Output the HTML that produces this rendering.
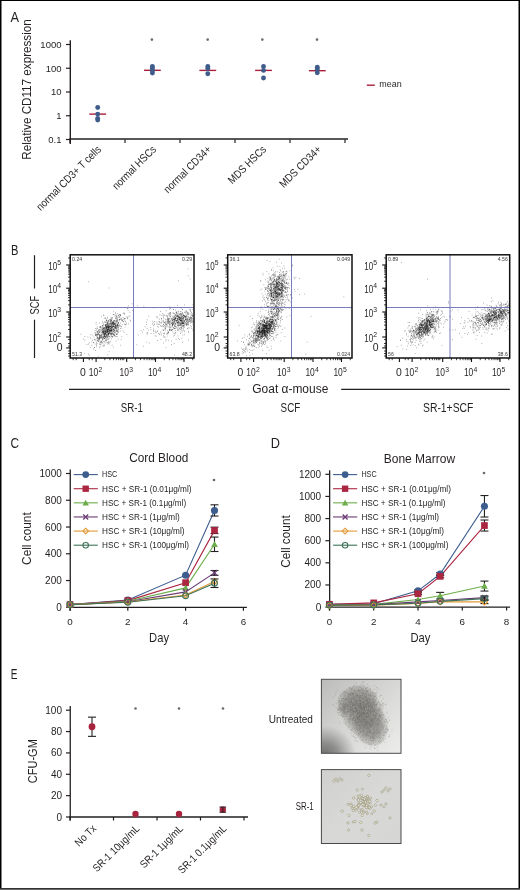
<!DOCTYPE html>
<html><head><meta charset="utf-8"><style>
html,body{margin:0;padding:0;background:#fff;overflow:hidden;width:520px;height:890px;}
svg{display:block;will-change:transform;}
text{font-family:"Liberation Sans", sans-serif;}
</style></head><body>
<svg width="520" height="890" viewBox="0 0 520 890">
<rect x="0" y="0" width="520" height="890" fill="#fff"/>
<text x="10.6" y="22.2" font-size="14.8" text-anchor="start" fill="#231f20" textLength="8.5" lengthAdjust="spacingAndGlyphs">A</text>
<line x1="70.3" y1="40.3" x2="70.3" y2="144" stroke="#231f20" stroke-width="1.4"/>
<line x1="66" y1="44.5" x2="70" y2="44.5" stroke="#231f20" stroke-width="1.2"/>
<text x="61.5" y="47.9" font-size="9.5" text-anchor="end" fill="#231f20">1000</text>
<line x1="66" y1="68.25" x2="70" y2="68.25" stroke="#231f20" stroke-width="1.2"/>
<text x="61.5" y="71.65" font-size="9.5" text-anchor="end" fill="#231f20">100</text>
<line x1="66" y1="92.0" x2="70" y2="92.0" stroke="#231f20" stroke-width="1.2"/>
<text x="61.5" y="95.4" font-size="9.5" text-anchor="end" fill="#231f20">10</text>
<line x1="66" y1="115.75" x2="70" y2="115.75" stroke="#231f20" stroke-width="1.2"/>
<text x="61.5" y="119.15" font-size="9.5" text-anchor="end" fill="#231f20">1</text>
<line x1="66" y1="139.5" x2="70" y2="139.5" stroke="#231f20" stroke-width="1.2"/>
<text x="61.5" y="142.9" font-size="9.5" text-anchor="end" fill="#231f20">0.1</text>
<line x1="69.4" y1="139.1" x2="348" y2="139.1" stroke="#231f20" stroke-width="1.5"/>
<line x1="70" y1="139.5" x2="70" y2="143" stroke="#231f20" stroke-width="1.2"/>
<line x1="125" y1="139.5" x2="125" y2="143" stroke="#231f20" stroke-width="1.2"/>
<line x1="180" y1="139.5" x2="180" y2="143" stroke="#231f20" stroke-width="1.2"/>
<line x1="235" y1="139.5" x2="235" y2="143" stroke="#231f20" stroke-width="1.2"/>
<line x1="290" y1="139.5" x2="290" y2="143" stroke="#231f20" stroke-width="1.2"/>
<line x1="345" y1="139.5" x2="345" y2="143" stroke="#231f20" stroke-width="1.2"/>
<text transform="translate(30.6,89.5) rotate(-90)" font-size="12" text-anchor="middle" fill="#231f20" textLength="140.5" lengthAdjust="spacingAndGlyphs">Relative CD117 expression</text>
<text transform="translate(101.9,150.0) rotate(-45)" font-size="11" text-anchor="end" fill="#231f20" textLength="86.6" lengthAdjust="spacingAndGlyphs">normal CD3+ T cells</text>
<text transform="translate(156.9,150.0) rotate(-45)" font-size="11" text-anchor="end" fill="#231f20" textLength="56.9" lengthAdjust="spacingAndGlyphs">normal HSCs</text>
<text transform="translate(211.9,150.0) rotate(-45)" font-size="11" text-anchor="end" fill="#231f20" textLength="62.0" lengthAdjust="spacingAndGlyphs">normal CD34+</text>
<text transform="translate(266.9,150.0) rotate(-45)" font-size="11" text-anchor="end" fill="#231f20" textLength="48.9" lengthAdjust="spacingAndGlyphs">MDS HSCs</text>
<text transform="translate(321.9,150.0) rotate(-45)" font-size="11" text-anchor="end" fill="#231f20" textLength="54.0" lengthAdjust="spacingAndGlyphs">MDS CD34+</text>
<line x1="89.3" y1="114.1" x2="106.10000000000001" y2="114.1" stroke="#aa1f3c" stroke-width="1.4"/>
<circle cx="97.7" cy="107.5" r="2.45" fill="#3f5c8b"/>
<circle cx="97.7" cy="114.1" r="2.45" fill="#3f5c8b"/>
<circle cx="97.7" cy="118.5" r="2.45" fill="#3f5c8b"/>
<circle cx="97.7" cy="120.0" r="2.45" fill="#3f5c8b"/>
<line x1="144.0" y1="70.3" x2="160.8" y2="70.3" stroke="#aa1f3c" stroke-width="1.4"/>
<circle cx="152.4" cy="66.5" r="2.45" fill="#3f5c8b"/>
<circle cx="152.4" cy="68.5" r="2.45" fill="#3f5c8b"/>
<circle cx="152.4" cy="70.8" r="2.45" fill="#3f5c8b"/>
<circle cx="152.4" cy="73.0" r="2.45" fill="#3f5c8b"/>
<line x1="199.4" y1="70.4" x2="216.20000000000002" y2="70.4" stroke="#aa1f3c" stroke-width="1.4"/>
<circle cx="207.8" cy="66.5" r="2.45" fill="#3f5c8b"/>
<circle cx="207.8" cy="68.5" r="2.45" fill="#3f5c8b"/>
<circle cx="207.8" cy="73.8" r="2.45" fill="#3f5c8b"/>
<line x1="255.1" y1="70.4" x2="271.9" y2="70.4" stroke="#aa1f3c" stroke-width="1.4"/>
<circle cx="263.5" cy="66.5" r="2.45" fill="#3f5c8b"/>
<circle cx="263.5" cy="70.4" r="2.45" fill="#3f5c8b"/>
<circle cx="263.5" cy="78.0" r="2.45" fill="#3f5c8b"/>
<line x1="308.90000000000003" y1="70.7" x2="325.7" y2="70.7" stroke="#aa1f3c" stroke-width="1.4"/>
<circle cx="317.3" cy="67.3" r="2.45" fill="#3f5c8b"/>
<circle cx="317.3" cy="69.5" r="2.45" fill="#3f5c8b"/>
<circle cx="317.3" cy="72.8" r="2.45" fill="#3f5c8b"/>
<circle cx="151.9" cy="39.6" r="1.3" fill="#6a6a6a"/>
<circle cx="207.7" cy="39.6" r="1.3" fill="#6a6a6a"/>
<circle cx="262.3" cy="39.6" r="1.3" fill="#6a6a6a"/>
<circle cx="317.0" cy="39.6" r="1.3" fill="#6a6a6a"/>
<line x1="366.8" y1="85.2" x2="374.8" y2="85.2" stroke="#aa1f3c" stroke-width="1.4"/>
<text x="379.3" y="87.2" font-size="9.5" text-anchor="start" fill="#231f20" textLength="22.4" lengthAdjust="spacingAndGlyphs">mean</text>
<text x="11.0" y="254.6" font-size="14.8" text-anchor="start" fill="#231f20" textLength="7.4" lengthAdjust="spacingAndGlyphs">B</text>
<path transform="scale(0.25)" d="M750 1076h3m-2 27h3m5 13h3m-50 7h3m-363 4h3m79 25h3m90 63h3m178 6h3m25 -1h3m31 -1h3m-261 4h3m34 0h3m22 2h3m101 2h3m-185 3h3m10 4h3m102 -2h3m63 2h3m40 -1h3m7 -3h3m16 1h3m-245 4h3m164 1h3m11 1h3m-2 1h3m6 2h3m24 -2h3m-2 0h3m26 0h3m0 0h3m6 0h3m-262 5h3m15 -1h3m109 4h3m19 -3h3m47 2h3m24 -1h3m1 0h3m12 -1h3m-2 1h3m-311 3h3m63 2h3m182 0h3m-2 0h3m-3 0h3m3 -2h3m7 -1h3m0 1h3m10 2h3m4 1h3m-2 -4h3m3 3h3m10 -1h3m-306 3h3m28 1h3m2 1h3m178 1h3m-2 -3h3m-2 0h3m-2 1h3m-2 1h3m6 -1h3m-1 0h3m8 -1h3m-2 3h3m2 -1h3m1 0h3m3 0h3m-1 1h3m4 -3h3m-2 1h3m7 -2h3m6 3h3m-1 -2h3m0 1h3m8 -1h3m-314 7h3m6 -3h3m3 0h3m5 3h3m15 -4h3m-1 3h3m150 -2h3m19 -1h3m20 1h3m0 0h3m1 3h3m13 -2h3m1 1h3m0 -2h3m-3 2h3m1 -2h3m0 2h3m8 -2h3m2 2h3m0 -2h3m-3 2h3m5 -1h3m6 -1h3m-357 5h3m-2 2h3m34 -3h3m2 0h3m4 2h3m6 0h3m3 -2h3m-2 2h3m-2 0h3m-2 -2h3m154 0h3m5 3h3m3 -2h3m1 0h3m14 0h3m0 -1h3m1 -1h3m17 4h3m-1 -2h3m-2 1h3m-3 -1h3m1 -1h3m-1 2h3m1 1h3m-3 -2h3m1 -1h3m-2 -1h3m1 1h3m-3 3h3m1 -4h3m2 3h3m-2 0h3m-3 1h3m-3 0h3m-2 -1h3m0 1h3m-3 0h3m4 0h3m6 -4h3m8 1h3m1 3h3m-1 -3h3m-367 6h3m52 -2h3m2 2h3m2 0h3m-1 -3h3m2 4h3m0 -3h3m35 1h3m73 0h3m57 0h3m6 -2h3m-1 2h3m1 -1h3m5 1h3m2 -2h3m10 0h3m-2 4h3m5 -1h3m-1 1h3m-2 -2h3m-1 1h3m-3 -3h3m-2 3h3m10 0h3m-2 -2h3m0 2h3m-2 0h3m4 1h3m-3 -1h3m-2 0h3m1 0h3m1 -1h3m-1 0h3m-2 1h3m13 -2h3m2 1h3m-2 1h3m-2 -1h3m-345 5h3m18 1h3m7 -2h3m2 -2h3m7 4h3m29 -3h3m5 0h3m109 0h3m-3 1h3m23 1h3m13 -2h3m8 1h3m-2 -2h3m5 1h3m2 2h3m-2 -1h3m1 0h3m-3 1h3m-1 0h3m0 -1h3m1 -1h3m0 -1h3m-1 2h3m-3 -2h3m0 3h3m-3 -3h3m-2 1h3m0 0h3m2 0h3m-1 2h3m-2 0h3m0 -1h3m0 1h3m-1 1h3m-1 -4h3m1 1h3m-2 0h3m-3 2h3m-3 -1h3m-3 -1h3m7 0h3m-2 2h3m6 -2h3m-347 6h3m-2 -1h3m-2 1h3m4 0h3m12 -1h3m0 0h3m-2 1h3m13 -1h3m-2 2h3m-2 -3h3m3 -1h3m5 0h3m3 3h3m4 -2h3m3 3h3m-1 0h3m5 -3h3m-1 1h3m118 0h3m36 -1h3m-1 1h3m15 1h3m2 -2h3m2 1h3m-3 2h3m-2 -1h3m-1 -2h3m-3 2h3m3 0h3m-2 0h3m-1 0h3m-2 -2h3m-2 1h3m-2 -2h3m-1 0h3m-2 0h3m-3 2h3m-2 1h3m-3 -1h3m0 -2h3m-3 4h3m-2 -3h3m-3 3h3m0 -1h3m-3 -2h3m1 2h3m1 -1h3m-3 -1h3m-2 1h3m-3 1h3m3 -2h3m-1 1h3m1 0h3m0 1h3m4 -2h3m0 -1h3m0 2h3m-3 -1h3m-2 -1h3m-3 2h3m0 1h3m-2 0h3m-330 5h3m4 -2h3m11 -1h3m3 1h3m-1 0h3m4 1h3m-3 1h3m3 -2h3m-3 1h3m6 1h3m1 -3h3m0 1h3m9 -1h3m18 -1h3m103 3h3m4 -1h3m-3 -2h3m7 1h3m4 2h3m4 -1h3m0 -2h3m-3 3h3m-2 0h3m-2 0h3m0 -3h3m-2 3h3m3 -3h3m-3 0h3m-1 2h3m-1 2h3m1 -3h3m0 3h3m-3 -2h3m-3 2h3m-1 -1h3m-2 -1h3m-2 0h3m-2 0h3m-2 -2h3m-3 0h3m0 0h3m2 1h3m-2 2h3m-1 0h3m0 0h3m-2 1h3m-3 -1h3m-1 -1h3m-3 0h3m0 1h3m-3 -2h3m-2 1h3m1 1h3m-3 0h3m-2 -1h3m-1 -1h3m-1 -1h3m-2 2h3m-2 1h3m5 0h3m-3 0h3m-2 1h3m-2 -3h3m1 1h3m-1 2h3m-3 -1h3m0 -2h3m2 2h3m-3 0h3m-1 1h3m-3 -2h3m-2 0h3m0 -1h3m-1 2h3m3 -2h3m-348 7h3m-3 -2h3m-3 2h3m-2 -2h3m6 0h3m-1 -1h3m1 3h3m-2 -2h3m-2 0h3m-3 -2h3m9 4h3m6 -1h3m-3 0h3m0 0h3m-3 -1h3m4 0h3m1 -2h3m5 3h3m-3 -2h3m31 2h3m64 -2h3m56 2h3m17 -2h3m0 0h3m-1 2h3m-2 0h3m6 1h3m3 -3h3m-3 2h3m0 -1h3m1 -1h3m-3 -1h3m-2 3h3m-1 0h3m-2 -1h3m-1 -1h3m-2 2h3m-1 1h3m-1 0h3m-1 -4h3m-2 3h3m-2 1h3m-2 -3h3m3 -1h3m-2 0h3m2 1h3m1 2h3m-3 1h3m1 -3h3m-3 1h3m2 2h3m-1 -1h3m0 -1h3m1 -2h3m-1 0h3m4 3h3m-2 -2h3m6 3h3m-2 -2h3m2 0h3m-364 5h3m20 0h3m-3 -2h3m-2 -1h3m6 3h3m-1 -2h3m-3 2h3m-2 -3h3m-2 1h3m2 3h3m-2 0h3m-1 -2h3m-2 -1h3m-1 1h3m-2 -1h3m1 0h3m4 2h3m-2 -1h3m5 -1h3m7 -1h3m-3 3h3m-1 -2h3m6 0h3m20 2h3m86 0h3m40 -2h3m4 2h3m5 -1h3m-3 1h3m2 -3h3m0 2h3m-2 2h3m7 -3h3m-2 -1h3m0 3h3m1 -2h3m-2 2h3m3 -1h3m-1 0h3m-2 -1h3m-3 0h3m3 1h3m-3 0h3m1 -2h3m0 2h3m-2 -1h3m-2 -1h3m-3 0h3m-3 1h3m-2 0h3m-2 -1h3m-1 1h3m-3 1h3m-2 0h3m-3 0h3m-3 -1h3m-2 1h3m-2 0h3m-2 1h3m0 -2h3m-2 2h3m0 -2h3m-2 2h3m-3 0h3m4 -2h3m-2 1h3m-1 0h3m-3 1h3m-1 -2h3m-2 0h3m2 2h3m-1 0h3m-1 -2h3m-3 1h3m-1 -1h3m-1 2h3m2 1h3m1 -3h3m-364 7h3m5 -3h3m-2 1h3m1 0h3m0 0h3m-2 0h3m-1 1h3m1 -2h3m-2 1h3m2 -2h3m-1 3h3m2 0h3m-3 -2h3m2 3h3m-1 -1h3m2 -2h3m2 -1h3m-3 0h3m1 1h3m1 3h3m18 -3h3m-2 0h3m4 -1h3m81 3h3m30 -2h3m3 1h3m5 -1h3m2 1h3m-2 0h3m2 2h3m-1 -1h3m3 -2h3m-1 1h3m3 1h3m2 -1h3m1 -1h3m1 1h3m-2 -1h3m-2 0h3m-1 2h3m-3 -1h3m1 0h3m-2 0h3m1 0h3m1 2h3m-1 -2h3m-2 -1h3m2 0h3m-3 1h3m-1 -1h3m4 2h3m-2 0h3m-1 1h3m-1 -1h3m-3 0h3m-3 -1h3m-2 -1h3m-3 1h3m-1 -1h3m3 1h3m0 1h3m4 1h3m-2 -1h3m-3 0h3m-3 -1h3m1 0h3m1 1h3m2 -2h3m5 2h3m-1 0h3m-2 -3h3m6 2h3m-3 2h3m1 -2h3m0 0h3m-390 2h3m11 2h3m19 -2h3m5 3h3m-1 -2h3m-1 2h3m-2 1h3m3 -1h3m0 -1h3m-3 1h3m-1 -2h3m-2 3h3m0 -3h3m-2 1h3m-2 2h3m-2 0h3m-3 -4h3m-3 1h3m-3 0h3m-3 -1h3m-2 2h3m-2 0h3m-3 0h3m1 0h3m-1 2h3m-2 -3h3m-2 3h3m0 -2h3m-1 0h3m3 -1h3m-3 2h3m-2 -3h3m6 2h3m21 0h3m103 -1h3m29 2h3m9 -2h3m0 -1h3m-2 3h3m0 0h3m4 1h3m-2 -4h3m-2 3h3m0 -1h3m1 0h3m4 1h3m-2 -1h3m-3 2h3m2 -2h3m-3 -2h3m-2 3h3m-3 0h3m3 0h3m-3 -1h3m-2 1h3m6 0h3m-1 0h3m-3 0h3m-2 -2h3m-2 2h3m0 -3h3m-2 4h3m-2 -4h3m2 1h3m-1 0h3m-1 -1h3m-3 3h3m0 1h3m-2 -3h3m-2 3h3m-3 -1h3m-2 -2h3m-2 1h3m1 0h3m-1 -1h3m0 0h3m0 3h3m-2 -2h3m0 -1h3m-2 0h3m-1 2h3m6 0h3m-381 4h3m25 -3h3m8 3h3m2 -2h3m-2 -1h3m-3 1h3m5 0h3m-2 2h3m-2 0h3m-1 -1h3m-1 -1h3m0 -1h3m-1 2h3m0 0h3m-2 -1h3m-2 0h3m-1 0h3m-3 1h3m-3 2h3m-2 -3h3m-3 3h3m-2 -2h3m-3 -2h3m-2 3h3m0 0h3m5 -1h3m2 -2h3m21 2h3m3 1h3m7 -2h3m69 3h3m21 -2h3m3 1h3m-2 0h3m7 0h3m1 -2h3m2 2h3m14 0h3m-3 1h3m9 -2h3m7 -2h3m1 2h3m-3 2h3m-2 -1h3m4 -1h3m-1 0h3m-3 -1h3m-3 3h3m-2 -1h3m0 -1h3m-1 1h3m3 0h3m-3 0h3m-2 -3h3m2 2h3m9 1h3m-2 -1h3m-3 -2h3m-3 4h3m-1 -4h3m-3 3h3m0 0h3m-3 -3h3m0 1h3m-3 2h3m-2 -3h3m-1 0h3m-3 0h3m-1 1h3m-2 -1h3m-2 3h3m1 1h3m-3 -3h3m1 1h3m1 2h3m-2 -3h3m-3 2h3m20 -1h3m-365 6h3m1 -4h3m4 1h3m0 -1h3m-3 1h3m-2 -1h3m-2 2h3m-1 1h3m-2 -2h3m-2 1h3m0 -1h3m-3 -1h3m-3 1h3m5 2h3m1 -2h3m-3 0h3m-1 1h3m-3 1h3m-3 -1h3m-1 -2h3m-2 2h3m0 1h3m-3 0h3m-1 -2h3m-2 1h3m2 0h3m-1 -1h3m0 1h3m-1 0h3m-3 2h3m-1 -3h3m-2 0h3m-3 -1h3m-2 2h3m1 -1h3m-2 2h3m1 0h3m5 -2h3m9 0h3m-1 -1h3m130 0h3m3 3h3m17 -2h3m-1 0h3m-1 -1h3m-3 2h3m1 1h3m6 -2h3m8 3h3m-3 -1h3m-2 -2h3m2 0h3m1 2h3m8 0h3m-1 -1h3m-2 0h3m-2 -1h3m0 2h3m-2 1h3m0 -2h3m-3 2h3m0 0h3m-1 -3h3m4 3h3m-1 0h3m7 -1h3m-1 -3h3m-3 3h3m-3 -1h3m3 0h3m-2 -2h3m-347 6h3m-3 -1h3m1 0h3m3 -1h3m-2 0h3m-3 0h3m-2 0h3m-2 4h3m-1 -1h3m-1 0h3m-3 1h3m-2 -3h3m-2 1h3m-1 -1h3m-2 0h3m-2 0h3m-3 0h3m-2 1h3m-2 1h3m-3 1h3m-1 -2h3m-2 1h3m-2 -1h3m-3 2h3m-2 -1h3m-1 1h3m-2 0h3m-2 -2h3m1 1h3m0 0h3m-3 0h3m-1 0h3m-2 1h3m-2 0h3m-2 -3h3m2 0h3m-2 0h3m-3 -1h3m-3 1h3m-2 3h3m-2 -1h3m1 -2h3m-3 2h3m-2 -3h3m-3 2h3m-1 -1h3m0 1h3m-2 1h3m1 -2h3m4 3h3m124 -3h3m28 3h3m0 -2h3m0 -1h3m0 2h3m2 -3h3m1 3h3m11 1h3m-2 -2h3m4 -1h3m3 0h3m5 1h3m-3 0h3m-2 -1h3m-2 3h3m-1 0h3m7 -3h3m-3 1h3m-3 -2h3m13 1h3m-3 3h3m-2 -4h3m2 2h3m-2 0h3m0 -1h3m21 0h3m-377 5h3m7 1h3m-1 -3h3m-2 1h3m-2 1h3m-2 0h3m-2 1h3m3 -1h3m-2 1h3m6 -1h3m-2 -1h3m1 0h3m-3 2h3m-3 0h3m-2 0h3m-3 -2h3m-2 1h3m-3 -1h3m-2 2h3m-3 1h3m-1 -3h3m-3 0h3m-1 2h3m-2 0h3m-3 1h3m-3 -1h3m-2 -2h3m-3 3h3m-2 0h3m-2 -3h3m-3 2h3m-3 0h3m0 -2h3m-1 0h3m-1 -1h3m-1 2h3m-3 -1h3m-2 3h3m-2 0h3m-2 -3h3m-3 0h3m-2 1h3m-1 -1h3m0 -1h3m-1 1h3m-2 0h3m-1 1h3m-2 -1h3m0 2h3m-2 -3h3m0 1h3m4 2h3m6 -2h3m14 1h3m77 -1h3m46 0h3m2 1h3m18 -1h3m4 2h3m-1 -1h3m1 -1h3m5 3h3m1 -1h3m1 -1h3m2 -1h3m12 0h3m0 2h3m5 0h3m5 0h3m-1 0h3m0 -2h3m3 0h3m0 2h3m26 -2h3m-381 7h3m-3 -1h3m11 -2h3m9 -1h3m-3 3h3m-2 1h3m-3 0h3m-1 -4h3m-3 2h3m-2 0h3m0 -2h3m-3 2h3m-1 1h3m-3 -1h3m-3 2h3m1 -2h3m-2 0h3m-2 -1h3m0 1h3m-1 1h3m-3 -1h3m0 -1h3m-1 1h3m-3 1h3m0 -1h3m-1 0h3m-2 0h3m-1 -1h3m0 0h3m-3 1h3m-1 2h3m1 -4h3m0 0h3m-2 3h3m-2 -1h3m-2 -2h3m-2 0h3m-2 0h3m-3 2h3m0 2h3m0 -4h3m-1 1h3m-3 2h3m6 1h3m3 -1h3m98 1h3m11 -4h3m52 2h3m22 -1h3m8 0h3m-3 0h3m0 2h3m1 0h3m-2 0h3m3 -1h3m10 -1h3m1 2h3m-1 -1h3m5 0h3m15 -1h3m4 1h3m-380 2h3m12 4h3m0 -1h3m4 -2h3m-2 0h3m-2 2h3m-1 1h3m-3 -3h3m0 0h3m-2 1h3m-2 -1h3m5 0h3m-3 1h3m-2 0h3m-1 -1h3m-3 -1h3m-1 3h3m0 1h3m-2 -3h3m-2 2h3m-3 -1h3m-2 -1h3m-2 2h3m1 -2h3m-3 1h3m-2 -2h3m0 2h3m-3 -2h3m0 3h3m-3 1h3m-3 -1h3m3 1h3m-3 -1h3m-1 -1h3m-2 0h3m-1 -1h3m1 0h3m-2 -1h3m0 1h3m4 2h3m137 -1h3m45 -1h3m-3 -1h3m14 2h3m3 1h3m9 -2h3m-1 -1h3m9 2h3m3 -1h3m-2 0h3m4 2h3m4 -2h3m15 -1h3m-1 2h3m13 -2h3m-384 5h3m5 1h3m-2 1h3m4 -1h3m1 0h3m-2 1h3m0 1h3m-2 -2h3m0 1h3m-3 -1h3m0 1h3m-3 -1h3m-1 0h3m-3 1h3m-2 -2h3m-1 1h3m-1 0h3m-3 1h3m-2 -2h3m-1 1h3m-3 2h3m-1 -1h3m-3 -1h3m-3 -1h3m-2 0h3m-2 0h3m-3 0h3m-2 -1h3m-1 1h3m-3 1h3m0 0h3m-3 -1h3m-3 3h3m-2 -1h3m0 -1h3m-2 0h3m-2 0h3m-3 2h3m-2 -3h3m-3 3h3m-2 0h3m-3 -1h3m-2 -1h3m-2 0h3m0 -1h3m1 0h3m-2 2h3m0 -1h3m3 2h3m-2 -1h3m-2 -3h3m1 2h3m2 0h3m96 -1h3m17 2h3m6 -3h3m42 2h3m3 0h3m-1 -1h3m2 1h3m13 0h3m-2 0h3m-3 -2h3m1 2h3m-2 1h3m0 -1h3m-1 -1h3m-2 0h3m-1 -1h3m18 1h3m-3 2h3m6 -3h3m9 2h3m35 1h3m-394 1h3m4 3h3m1 1h3m-2 0h3m-3 -4h3m4 3h3m-3 -2h3m-3 3h3m8 -1h3m-2 0h3m-1 0h3m-2 -1h3m1 1h3m-1 1h3m-1 -2h3m-3 -1h3m-2 3h3m-2 -3h3m0 2h3m-2 0h3m-3 -2h3m-2 2h3m-3 -2h3m-2 2h3m-1 -1h3m-2 2h3m-2 0h3m-3 -3h3m-1 2h3m-3 -1h3m-2 -1h3m-2 2h3m-3 -2h3m-1 3h3m-3 -4h3m-2 1h3m-2 1h3m-2 2h3m-2 -1h3m-2 -3h3m-2 4h3m-2 -3h3m-2 0h3m-2 2h3m0 -2h3m-1 3h3m-1 -1h3m-2 -2h3m-3 -1h3m0 2h3m1 1h3m-1 0h3m-1 -1h3m-2 -1h3m9 1h3m8 0h3m69 -1h3m46 1h3m-3 -1h3m4 1h3m7 0h3m20 -2h3m14 1h3m5 -1h3m4 0h3m14 0h3m6 0h3m13 0h3m6 0h3m-350 7h3m-2 -2h3m3 3h3m-2 -1h3m5 -1h3m2 -2h3m-3 2h3m-1 -1h3m-3 1h3m-2 1h3m-2 1h3m-3 -3h3m-3 2h3m-3 -1h3m-2 -1h3m-1 0h3m-2 1h3m-2 0h3m-2 1h3m-2 -2h3m-3 0h3m-1 0h3m-1 2h3m-1 -3h3m-2 4h3m-3 -1h3m-2 -1h3m-3 -2h3m-3 2h3m-3 0h3m1 2h3m2 -1h3m-2 0h3m2 0h3m3 1h3m0 -3h3m3 2h3m-3 1h3m8 -1h3m-3 -3h3m0 2h3m-3 0h3m20 2h3m70 -1h3m18 1h3m28 -1h3m4 -3h3m11 2h3m27 0h3m-2 1h3m-2 -1h3m14 -1h3m9 2h3m17 -2h3m2 1h3m6 -1h3m13 2h3m-2 -2h3m-378 4h3m-2 1h3m0 0h3m2 -1h3m4 -1h3m1 1h3m2 0h3m1 -1h3m-2 0h3m-1 3h3m-2 -2h3m2 2h3m-1 0h3m-3 1h3m-3 -3h3m-1 -1h3m-2 1h3m0 -1h3m-2 1h3m-2 2h3m-3 0h3m3 1h3m-3 -1h3m-1 0h3m-2 0h3m-2 0h3m-2 -3h3m-2 3h3m-3 0h3m-2 0h3m0 -2h3m-3 2h3m2 1h3m1 -1h3m4 -1h3m-2 -1h3m124 3h3m14 0h3m8 -1h3m6 -2h3m17 1h3m10 0h3m8 0h3m0 1h3m-1 -2h3m24 -1h3m18 3h3m-401 4h3m57 1h3m-3 0h3m0 -1h3m-1 1h3m-3 -1h3m0 -2h3m-1 0h3m-2 3h3m-3 -3h3m9 2h3m3 -2h3m-3 -1h3m-3 3h3m0 -1h3m-3 -1h3m-1 -1h3m-2 4h3m-2 -2h3m-3 1h3m-2 0h3m-2 -1h3m-3 -2h3m-2 2h3m-3 -2h3m2 4h3m0 -3h3m-3 2h3m0 -1h3m-2 1h3m-3 -3h3m-3 1h3m-2 2h3m-3 -1h3m4 2h3m-1 -4h3m-3 0h3m-2 0h3m-3 4h3m0 -2h3m-3 -2h3m-2 3h3m1 0h3m-2 -1h3m-2 1h3m7 -1h3m-3 1h3m-2 1h3m-1 -1h3m-2 -2h3m35 3h3m80 -2h3m40 -2h3m2 2h3m11 -2h3m1 1h3m6 1h3m1 -1h3m24 -1h3m1 1h3m-340 4h3m5 1h3m7 0h3m-2 1h3m-3 0h3m3 -2h3m-2 0h3m2 0h3m1 -1h3m-2 1h3m-2 1h3m1 1h3m-3 -1h3m-1 0h3m1 -1h3m0 0h3m0 2h3m-1 -2h3m-3 2h3m-3 -2h3m1 -1h3m1 3h3m-3 -2h3m-3 1h3m-1 1h3m-1 -2h3m-2 3h3m-1 -3h3m-2 0h3m-3 0h3m5 1h3m0 -1h3m7 -1h3m-2 2h3m-3 1h3m0 0h3m-3 -1h3m90 0h3m84 -1h3m3 1h3m5 1h3m42 0h3m30 -1h3m3 -1h3m-401 7h3m44 -4h3m-1 0h3m6 0h3m-2 1h3m-2 2h3m-1 -1h3m-2 -1h3m-1 1h3m-2 0h3m4 -1h3m0 3h3m-1 -2h3m-2 0h3m-3 2h3m-2 -1h3m-3 -3h3m-2 4h3m-2 -1h3m-1 -1h3m-1 -1h3m-3 2h3m-1 0h3m-1 0h3m0 1h3m-1 -2h3m1 1h3m4 0h3m-2 -1h3m1 2h3m-1 -2h3m3 -1h3m3 3h3m153 -3h3m1 2h3m41 -1h3m23 0h3m14 0h3m-363 4h3m6 1h3m12 -1h3m7 -1h3m2 0h3m4 0h3m-2 3h3m-2 -3h3m-3 0h3m3 2h3m-2 0h3m-2 -2h3m1 0h3m-3 2h3m-2 -3h3m0 3h3m-2 -2h3m0 0h3m0 0h3m-1 2h3m1 -1h3m-3 1h3m0 -1h3m5 -1h3m-3 0h3m6 1h3m-2 0h3m8 -1h3m5 -1h3m16 1h3m163 1h3m1 -1h3m0 2h3m-273 3h3m-3 -1h3m-3 -1h3m1 2h3m-1 -2h3m-2 4h3m-2 -2h3m-2 -2h3m-2 4h3m-2 -3h3m-3 -1h3m1 2h3m-1 -1h3m-1 1h3m0 -1h3m-2 -1h3m0 4h3m-1 -1h3m-1 0h3m-1 -2h3m-3 0h3m0 2h3m3 -2h3m-2 2h3m292 0h3m-396 3h3m26 -1h3m11 2h3m5 -2h3m1 1h3m0 -1h3m-2 1h3m-3 0h3m-1 1h3m0 -2h3m-3 1h3m9 -1h3m-1 1h3m0 -1h3m0 -1h3m7 4h3m5 -3h3m7 0h3m23 1h3m168 2h3m18 -1h3m37 0h3m7 -3h3m0 4h3m-381 3h3m27 0h3m6 -2h3m0 0h3m9 3h3m2 -2h3m8 -1h3m-2 0h3m7 1h3m-2 1h3m0 1h3m-1 -1h3m-2 -3h3m3 1h3m48 -1h3m186 3h3m78 -1h3m-373 4h3m2 -2h3m-2 1h3m-1 3h3m4 -2h3m3 1h3m0 -1h3m3 1h3m24 0h3m20 -1h3m163 -2h3m30 1h3m20 1h3m-322 4h3m4 2h3m16 -4h3m4 3h3m-2 1h3m-1 -3h3m-1 2h3m-2 0h3m8 -2h3m3 0h3m5 2h3m0 0h3m-2 -2h3m1 2h3m145 0h3m140 0h3m-376 2h3m14 0h3m8 0h3m21 -1h3m-1 3h3m6 -1h3m5 -2h3m2 4h3m162 -2h3m52 0h3m-309 6h3m3 -2h3m24 0h3m3 1h3m-1 -3h3m8 4h3m-3 -3h3m1 1h3m24 0h3m4 0h3m256 -2h3m-332 7h3m16 0h3m14 -2h3m10 1h3m-3 1h3m29 0h3m30 0h3m63 -2h3m135 -1h3m-277 5h3m1 2h3m156 0h3m-215 4h3m21 -2h3m11 -1h3m50 3h3m-79 1h3m-3 1h3m17 0h3m264 0h3m-293 5h3m4 6h3m52 5h3m-101 8h3m13 2h3m0 4h3m71 -2h3m263 1h3m-308 5h3" stroke="#000" stroke-width="3" fill="none" opacity="0.5"/>
<line x1="133.5" y1="254.8" x2="133.5" y2="358.0" stroke="#777abd" stroke-width="1.0"/>
<line x1="70.2" y1="307.5" x2="194.0" y2="307.5" stroke="#777abd" stroke-width="1.0"/>
<rect x="70.2" y="254.8" width="123.8" height="103.19999999999999" fill="none" stroke="#111" stroke-width="1.5"/>
<text x="72.10000000000001" y="260.7" font-size="5.2" text-anchor="start" fill="#3a3a3a">0.24</text>
<text x="192.1" y="260.7" font-size="5.2" text-anchor="end" fill="#3a3a3a">0.29</text>
<text x="72.10000000000001" y="356.2" font-size="5.2" text-anchor="start" fill="#3a3a3a">51.3</text>
<text x="192.1" y="356.2" font-size="5.2" text-anchor="end" fill="#3a3a3a">48.2</text>
<line x1="66.2" y1="265.0" x2="70.2" y2="265.0" stroke="#111" stroke-width="1.1"/>
<text x="48.2" y="269.5" font-size="10.6" text-anchor="start" fill="#231f20" textLength="8.9" lengthAdjust="spacingAndGlyphs">10</text>
<text x="57.2" y="265.0" font-size="6.8" text-anchor="start" fill="#231f20">5</text>
<line x1="66.2" y1="288.2" x2="70.2" y2="288.2" stroke="#111" stroke-width="1.1"/>
<text x="48.2" y="292.7" font-size="10.6" text-anchor="start" fill="#231f20" textLength="8.9" lengthAdjust="spacingAndGlyphs">10</text>
<text x="57.2" y="288.2" font-size="6.8" text-anchor="start" fill="#231f20">4</text>
<line x1="66.2" y1="312.0" x2="70.2" y2="312.0" stroke="#111" stroke-width="1.1"/>
<text x="48.2" y="316.5" font-size="10.6" text-anchor="start" fill="#231f20" textLength="8.9" lengthAdjust="spacingAndGlyphs">10</text>
<text x="57.2" y="312.0" font-size="6.8" text-anchor="start" fill="#231f20">3</text>
<line x1="66.2" y1="337.0" x2="70.2" y2="337.0" stroke="#111" stroke-width="1.1"/>
<text x="48.2" y="341.5" font-size="10.6" text-anchor="start" fill="#231f20" textLength="8.9" lengthAdjust="spacingAndGlyphs">10</text>
<text x="57.2" y="337.0" font-size="6.8" text-anchor="start" fill="#231f20">2</text>
<line x1="68.0" y1="329.4742501084005" x2="70.2" y2="329.4742501084005" stroke="#111" stroke-width="0.8"/>
<line x1="68.0" y1="325.07196863200846" x2="70.2" y2="325.07196863200846" stroke="#111" stroke-width="0.8"/>
<line x1="68.0" y1="321.94850021680094" x2="70.2" y2="321.94850021680094" stroke="#111" stroke-width="0.8"/>
<line x1="68.0" y1="319.5257498915995" x2="70.2" y2="319.5257498915995" stroke="#111" stroke-width="0.8"/>
<line x1="68.0" y1="317.5462187404089" x2="70.2" y2="317.5462187404089" stroke="#111" stroke-width="0.8"/>
<line x1="68.0" y1="315.8725489996436" x2="70.2" y2="315.8725489996436" stroke="#111" stroke-width="0.8"/>
<line x1="68.0" y1="314.42275032520143" x2="70.2" y2="314.42275032520143" stroke="#111" stroke-width="0.8"/>
<line x1="68.0" y1="313.14393726401687" x2="70.2" y2="313.14393726401687" stroke="#111" stroke-width="0.8"/>
<line x1="68.0" y1="304.83548610319724" x2="70.2" y2="304.83548610319724" stroke="#111" stroke-width="0.8"/>
<line x1="68.0" y1="300.64451413767205" x2="70.2" y2="300.64451413767205" stroke="#111" stroke-width="0.8"/>
<line x1="68.0" y1="297.6709722063945" x2="70.2" y2="297.6709722063945" stroke="#111" stroke-width="0.8"/>
<line x1="68.0" y1="295.36451389680275" x2="70.2" y2="295.36451389680275" stroke="#111" stroke-width="0.8"/>
<line x1="68.0" y1="293.4800002408693" x2="70.2" y2="293.4800002408693" stroke="#111" stroke-width="0.8"/>
<line x1="68.0" y1="291.88666664766066" x2="70.2" y2="291.88666664766066" stroke="#111" stroke-width="0.8"/>
<line x1="68.0" y1="290.5064583095917" x2="70.2" y2="290.5064583095917" stroke="#111" stroke-width="0.8"/>
<line x1="68.0" y1="289.28902827534404" x2="70.2" y2="289.28902827534404" stroke="#111" stroke-width="0.8"/>
<line x1="68.0" y1="281.2161041005956" x2="70.2" y2="281.2161041005956" stroke="#111" stroke-width="0.8"/>
<line x1="68.0" y1="277.1307868905038" x2="70.2" y2="277.1307868905038" stroke="#111" stroke-width="0.8"/>
<line x1="68.0" y1="274.23220820119127" x2="70.2" y2="274.23220820119127" stroke="#111" stroke-width="0.8"/>
<line x1="68.0" y1="271.9838958994044" x2="70.2" y2="271.9838958994044" stroke="#111" stroke-width="0.8"/>
<line x1="68.0" y1="270.14689099109944" x2="70.2" y2="270.14689099109944" stroke="#111" stroke-width="0.8"/>
<line x1="68.0" y1="268.59372547166925" x2="70.2" y2="268.59372547166925" stroke="#111" stroke-width="0.8"/>
<line x1="68.0" y1="267.2483123017869" x2="70.2" y2="267.2483123017869" stroke="#111" stroke-width="0.8"/>
<line x1="68.0" y1="266.06157378100767" x2="70.2" y2="266.06157378100767" stroke="#111" stroke-width="0.8"/>
<line x1="68.0" y1="257.9257951018964" x2="70.2" y2="257.9257951018964" stroke="#111" stroke-width="0.8"/>
<line x1="66.2" y1="347.9" x2="70.2" y2="347.9" stroke="#111" stroke-width="1.1"/>
<text x="62.6" y="351.3" font-size="10.4" text-anchor="end" fill="#231f20">0</text>
<line x1="68.0" y1="339.5" x2="70.2" y2="339.5" stroke="#111" stroke-width="0.8"/>
<line x1="68.0" y1="343.5" x2="70.2" y2="343.5" stroke="#111" stroke-width="0.8"/>
<line x1="68.0" y1="346" x2="70.2" y2="346" stroke="#111" stroke-width="0.8"/>
<line x1="68.0" y1="351" x2="70.2" y2="351" stroke="#111" stroke-width="0.8"/>
<line x1="68.0" y1="353.5" x2="70.2" y2="353.5" stroke="#111" stroke-width="0.8"/>
<line x1="68.0" y1="356" x2="70.2" y2="356" stroke="#111" stroke-width="0.8"/>
<line x1="96.1" y1="358.0" x2="96.1" y2="362.0" stroke="#111" stroke-width="1.1"/>
<text x="88.80000000000001" y="376.2" font-size="10.5" text-anchor="start" fill="#231f20" textLength="9.4" lengthAdjust="spacingAndGlyphs">10</text>
<text x="98.50000000000001" y="371.9" font-size="6.8" text-anchor="start" fill="#231f20">2</text>
<line x1="104.82986987425545" y1="358.0" x2="104.82986987425545" y2="360.2" stroke="#111" stroke-width="0.8"/>
<line x1="109.93651638687021" y1="358.0" x2="109.93651638687021" y2="360.2" stroke="#111" stroke-width="0.8"/>
<line x1="113.5597397485109" y1="358.0" x2="113.5597397485109" y2="360.2" stroke="#111" stroke-width="0.8"/>
<line x1="116.37013012574454" y1="358.0" x2="116.37013012574454" y2="360.2" stroke="#111" stroke-width="0.8"/>
<line x1="118.66638626112567" y1="358.0" x2="118.66638626112567" y2="360.2" stroke="#111" stroke-width="0.8"/>
<line x1="120.60784316041344" y1="358.0" x2="120.60784316041344" y2="360.2" stroke="#111" stroke-width="0.8"/>
<line x1="122.28960962276636" y1="358.0" x2="122.28960962276636" y2="360.2" stroke="#111" stroke-width="0.8"/>
<line x1="123.77303277374041" y1="358.0" x2="123.77303277374041" y2="360.2" stroke="#111" stroke-width="0.8"/>
<line x1="126.7" y1="358.0" x2="126.7" y2="362.0" stroke="#111" stroke-width="1.1"/>
<text x="119.6" y="376.2" font-size="10.5" text-anchor="start" fill="#231f20" textLength="9.4" lengthAdjust="spacingAndGlyphs">10</text>
<text x="129.29999999999998" y="371.9" font-size="6.8" text-anchor="start" fill="#231f20">3</text>
<line x1="135.42986987425544" y1="358.0" x2="135.42986987425544" y2="360.2" stroke="#111" stroke-width="0.8"/>
<line x1="140.5365163868702" y1="358.0" x2="140.5365163868702" y2="360.2" stroke="#111" stroke-width="0.8"/>
<line x1="144.1597397485109" y1="358.0" x2="144.1597397485109" y2="360.2" stroke="#111" stroke-width="0.8"/>
<line x1="146.97013012574456" y1="358.0" x2="146.97013012574456" y2="360.2" stroke="#111" stroke-width="0.8"/>
<line x1="149.26638626112566" y1="358.0" x2="149.26638626112566" y2="360.2" stroke="#111" stroke-width="0.8"/>
<line x1="151.20784316041346" y1="358.0" x2="151.20784316041346" y2="360.2" stroke="#111" stroke-width="0.8"/>
<line x1="152.88960962276636" y1="358.0" x2="152.88960962276636" y2="360.2" stroke="#111" stroke-width="0.8"/>
<line x1="154.37303277374042" y1="358.0" x2="154.37303277374042" y2="360.2" stroke="#111" stroke-width="0.8"/>
<line x1="155.5" y1="358.0" x2="155.5" y2="362.0" stroke="#111" stroke-width="1.1"/>
<text x="147.9" y="376.2" font-size="10.5" text-anchor="start" fill="#231f20" textLength="9.4" lengthAdjust="spacingAndGlyphs">10</text>
<text x="157.6" y="371.9" font-size="6.8" text-anchor="start" fill="#231f20">4</text>
<line x1="164.22986987425546" y1="358.0" x2="164.22986987425546" y2="360.2" stroke="#111" stroke-width="0.8"/>
<line x1="169.33651638687022" y1="358.0" x2="169.33651638687022" y2="360.2" stroke="#111" stroke-width="0.8"/>
<line x1="172.9597397485109" y1="358.0" x2="172.9597397485109" y2="360.2" stroke="#111" stroke-width="0.8"/>
<line x1="175.77013012574454" y1="358.0" x2="175.77013012574454" y2="360.2" stroke="#111" stroke-width="0.8"/>
<line x1="178.06638626112567" y1="358.0" x2="178.06638626112567" y2="360.2" stroke="#111" stroke-width="0.8"/>
<line x1="180.00784316041344" y1="358.0" x2="180.00784316041344" y2="360.2" stroke="#111" stroke-width="0.8"/>
<line x1="181.68960962276637" y1="358.0" x2="181.68960962276637" y2="360.2" stroke="#111" stroke-width="0.8"/>
<line x1="183.17303277374043" y1="358.0" x2="183.17303277374043" y2="360.2" stroke="#111" stroke-width="0.8"/>
<line x1="184.0" y1="358.0" x2="184.0" y2="362.0" stroke="#111" stroke-width="1.1"/>
<text x="175.9" y="376.2" font-size="10.5" text-anchor="start" fill="#231f20" textLength="9.4" lengthAdjust="spacingAndGlyphs">10</text>
<text x="185.6" y="371.9" font-size="6.8" text-anchor="start" fill="#231f20">5</text>
<line x1="192.72986987425546" y1="358.0" x2="192.72986987425546" y2="360.2" stroke="#111" stroke-width="0.8"/>
<line x1="83.4" y1="358.0" x2="83.4" y2="362.0" stroke="#111" stroke-width="1.1"/>
<text x="82.8" y="376.0" font-size="10.4" text-anchor="middle" fill="#231f20">0</text>
<line x1="73.2" y1="358.0" x2="73.2" y2="360.2" stroke="#111" stroke-width="0.8"/>
<line x1="76.2" y1="358.0" x2="76.2" y2="360.2" stroke="#111" stroke-width="0.8"/>
<line x1="89.2" y1="358.0" x2="89.2" y2="360.2" stroke="#111" stroke-width="0.8"/>
<line x1="92.2" y1="358.0" x2="92.2" y2="360.2" stroke="#111" stroke-width="0.8"/>
<path transform="scale(0.25)" d="M1115 1037h3m-51 5h3m8 4h3m23 3h3m17 3h3m41 8h3m-64 5h3m8 1h3m13 -2h3m32 0h3m-82 8h3m35 1h3m5 0h3m-55 5h3m-3 3h3m32 -2h3m-56 7h3m24 -3h3m24 0h3m10 3h3m7 0h3m-3 -2h3m12 -1h3m-61 4h3m4 0h3m16 1h3m1 1h3m-2 -1h3m13 0h3m-100 5h3m45 -3h3m15 0h3m20 3h3m2 1h3m-73 2h3m15 0h3m-3 0h3m2 1h3m1 0h3m16 -1h3m2 2h3m5 -3h3m4 2h3m1 -2h3m-96 5h3m34 -2h3m2 4h3m-1 -2h3m19 -2h3m-2 3h3m10 -3h3m-1 2h3m-2 0h3m0 1h3m-1 -2h3m0 2h3m-60 3h3m2 -1h3m5 0h3m-2 0h3m-1 2h3m4 1h3m1 -1h3m-2 0h3m0 -1h3m-1 1h3m-2 -1h3m2 0h3m-3 -1h3m0 0h3m3 0h3m-2 0h3m-1 0h3m3 2h3m-68 3h3m-2 1h3m16 -2h3m6 0h3m5 2h3m-2 -1h3m-3 2h3m3 -4h3m4 2h3m0 0h3m2 -2h3m15 1h3m25 2h3m-104 1h3m-2 1h3m4 1h3m0 0h3m0 -2h3m10 1h3m1 -1h3m0 4h3m-2 -2h3m-2 1h3m-3 0h3m-2 -2h3m1 3h3m-1 -2h3m-1 1h3m3 1h3m-2 -3h3m0 1h3m2 0h3m31 -2h3m19 4h3m-130 0h3m5 1h3m0 1h3m-2 1h3m-3 -2h3m-3 2h3m5 0h3m2 -1h3m0 1h3m4 1h3m-3 -2h3m-3 1h3m-2 -3h3m2 4h3m-3 0h3m-2 -4h3m-3 1h3m5 2h3m10 1h3m6 -1h3m3 0h3m5 0h3m19 -2h3m-121 4h3m15 0h3m3 2h3m9 -3h3m-3 0h3m-3 4h3m-1 -1h3m3 1h3m-1 -1h3m0 -3h3m1 1h3m-1 2h3m-1 -2h3m1 2h3m1 -2h3m0 1h3m-2 0h3m-2 2h3m-3 -1h3m-3 -2h3m1 3h3m1 0h3m4 -2h3m-107 3h3m-2 1h3m25 0h3m5 -1h3m3 0h3m4 2h3m-2 0h3m-2 -1h3m-1 0h3m2 0h3m-3 2h3m-1 -2h3m0 1h3m-1 -2h3m-1 1h3m0 2h3m-2 -1h3m7 1h3m0 -2h3m-3 -2h3m0 4h3m2 0h3m-67 3h3m-1 -1h3m14 -1h3m0 1h3m-2 1h3m0 -2h3m1 2h3m2 -1h3m-2 2h3m-2 -1h3m4 -3h3m-2 2h3m-3 0h3m-2 2h3m3 -2h3m7 -1h3m0 1h3m-2 2h3m-2 -2h3m-1 -1h3m-68 6h3m3 0h3m-1 0h3m-2 -1h3m1 0h3m-1 0h3m-2 -1h3m-2 2h3m10 -2h3m-3 3h3m-2 0h3m-3 -3h3m-3 0h3m-2 3h3m-3 -2h3m-1 -2h3m-2 4h3m-3 -1h3m0 -1h3m-3 -1h3m-1 -1h3m-2 3h3m-2 -2h3m-3 0h3m2 3h3m-2 -1h3m-1 -2h3m-3 0h3m2 2h3m5 -1h3m0 2h3m1 -3h3m-2 -1h3m-2 1h3m2 1h3m-2 1h3m-77 3h3m-2 1h3m1 -2h3m-2 1h3m1 1h3m2 0h3m-2 -1h3m-1 1h3m-2 1h3m-2 -2h3m-1 0h3m1 1h3m0 -2h3m-1 1h3m-3 -2h3m-2 2h3m-1 1h3m-1 0h3m1 -1h3m0 -1h3m-2 2h3m-3 -3h3m-1 3h3m-2 -3h3m-1 0h3m-2 0h3m-2 2h3m-1 2h3m-2 -1h3m1 -1h3m5 -2h3m-1 0h3m0 4h3m-98 1h3m14 2h3m-1 -3h3m-1 1h3m-3 -1h3m2 4h3m-3 -4h3m-1 2h3m1 -2h3m-3 0h3m2 1h3m-2 -1h3m0 1h3m1 1h3m-3 0h3m1 1h3m-3 -2h3m-2 1h3m-2 0h3m-2 0h3m-2 -1h3m-1 -1h3m-1 1h3m-2 2h3m-1 -2h3m-2 3h3m-2 -1h3m-3 -3h3m4 1h3m-3 2h3m-2 -2h3m0 0h3m-3 3h3m-3 -2h3m-1 1h3m-3 0h3m22 0h3m-87 3h3m7 2h3m2 -3h3m-2 0h3m3 2h3m-2 -2h3m1 0h3m4 2h3m-3 -2h3m-2 2h3m-3 -2h3m-1 0h3m-2 2h3m-2 0h3m-3 0h3m2 0h3m-1 -2h3m-1 2h3m1 -2h3m-1 1h3m-2 -2h3m-2 1h3m-2 2h3m-2 0h3m-1 -2h3m-2 3h3m-1 -1h3m-1 -3h3m1 1h3m0 2h3m-87 5h3m3 0h3m3 -2h3m-2 -1h3m-1 -1h3m-3 0h3m6 0h3m2 3h3m3 -2h3m0 2h3m-3 -1h3m0 -1h3m-3 0h3m-3 -1h3m-2 3h3m-2 0h3m-2 0h3m-3 -3h3m0 1h3m-3 3h3m-2 -1h3m0 -1h3m-3 1h3m-3 -1h3m-2 -1h3m-2 2h3m-2 -3h3m-3 0h3m3 2h3m1 1h3m-2 0h3m-2 -1h3m1 0h3m-2 2h3m0 -4h3m-2 3h3m-1 -1h3m-1 -1h3m-2 2h3m3 0h3m-86 3h3m4 0h3m2 1h3m1 1h3m-2 -2h3m0 -2h3m-1 2h3m-3 0h3m-2 -1h3m-2 0h3m4 1h3m-1 2h3m0 -1h3m-3 -2h3m0 1h3m-2 -1h3m-2 1h3m-3 -1h3m0 3h3m-2 -3h3m1 3h3m-3 0h3m-2 -2h3m-1 -2h3m1 3h3m0 -1h3m-1 -1h3m-2 1h3m-3 -1h3m-1 0h3m-1 1h3m-3 0h3m-3 2h3m-3 -1h3m-3 -2h3m-2 2h3m5 -1h3m-3 1h3m0 0h3m-1 -3h3m-3 1h3m-1 0h3m1 0h3m-2 1h3m-3 -1h3m1 -1h3m2 3h3m-114 3h3m11 1h3m-1 -2h3m0 2h3m0 -2h3m1 1h3m3 1h3m4 0h3m-2 0h3m-3 -2h3m3 0h3m-3 0h3m0 2h3m-2 -2h3m0 3h3m0 -2h3m-3 -2h3m2 1h3m3 2h3m-3 -2h3m-2 3h3m-3 -4h3m-3 0h3m-2 0h3m-3 2h3m-3 0h3m0 2h3m-3 -2h3m2 2h3m-1 -1h3m1 0h3m-1 -1h3m5 -2h3m-1 2h3m-2 0h3m-2 2h3m44 -1h3m-154 3h3m19 -2h3m13 4h3m-2 -2h3m-2 -1h3m-2 3h3m-3 -1h3m-2 -2h3m-1 2h3m0 -3h3m0 4h3m0 -4h3m-2 4h3m0 -2h3m-3 0h3m-1 1h3m-1 -2h3m-2 1h3m-1 -2h3m-1 3h3m-2 -1h3m-1 1h3m-2 -3h3m-3 1h3m-2 1h3m-2 -2h3m1 2h3m-3 0h3m-2 2h3m-2 -4h3m-2 1h3m-3 -1h3m-2 4h3m-3 -3h3m0 -1h3m-3 2h3m-2 0h3m-3 0h3m-3 -1h3m-2 2h3m1 1h3m-3 0h3m-2 -3h3m-1 -1h3m14 2h3m25 -2h3m-121 7h3m7 0h3m-2 -3h3m-1 4h3m-1 -2h3m4 -1h3m-2 2h3m1 -2h3m-3 3h3m-3 -2h3m0 0h3m4 -1h3m1 2h3m-3 0h3m-3 0h3m-2 1h3m-3 -1h3m-2 0h3m-2 -1h3m-1 -2h3m5 3h3m-2 -3h3m4 1h3m-3 -1h3m-3 2h3m2 1h3m0 1h3m-2 -3h3m-1 0h3m-2 1h3m-3 -1h3m-1 1h3m-2 -1h3m10 1h3m28 2h3m-103 3h3m1 -2h3m-3 2h3m3 1h3m-1 -2h3m0 -1h3m-2 0h3m-1 0h3m-2 0h3m0 3h3m-2 -2h3m-3 -1h3m-2 1h3m-2 0h3m-1 2h3m-1 -2h3m-3 0h3m3 1h3m6 -3h3m-1 3h3m-3 0h3m9 0h3m0 -1h3m-2 -2h3m3 1h3m16 2h3m-98 5h3m-2 -2h3m3 -1h3m0 2h3m-1 -2h3m-3 3h3m-2 -2h3m-1 1h3m-1 -1h3m0 0h3m-2 0h3m-3 -1h3m-2 -1h3m-1 3h3m-2 -1h3m-3 1h3m-1 -1h3m-1 2h3m-2 -4h3m-2 2h3m-2 1h3m-2 -2h3m-2 3h3m-3 -4h3m-3 4h3m-2 -2h3m-1 -1h3m-3 2h3m-1 0h3m0 -2h3m-3 1h3m-1 1h3m-1 -1h3m-2 -2h3m-3 1h3m-2 3h3m-2 0h3m1 0h3m-2 0h3m-3 -4h3m-2 1h3m-3 -1h3m-1 2h3m-3 -2h3m10 0h3m1 0h3m-101 5h3m10 1h3m7 -2h3m2 2h3m0 2h3m-2 -2h3m0 1h3m-2 -3h3m-2 2h3m-3 -1h3m-3 2h3m-2 -2h3m2 0h3m5 2h3m0 -1h3m-2 2h3m-3 -3h3m-3 2h3m0 -3h3m0 2h3m-3 0h3m-2 0h3m-3 2h3m1 -1h3m-3 0h3m-2 -3h3m-3 2h3m-2 1h3m-2 -2h3m-3 3h3m-1 -2h3m-1 1h3m0 -2h3m-2 1h3m-1 0h3m0 0h3m-2 0h3m27 2h3m53 -2h3m-150 3h3m2 3h3m-1 -1h3m4 -1h3m-2 0h3m-3 2h3m-1 -2h3m-2 0h3m1 1h3m-1 -2h3m-3 1h3m-2 -1h3m5 1h3m-2 2h3m-1 -2h3m0 -2h3m-2 3h3m0 1h3m-2 -1h3m-2 -3h3m-2 4h3m-3 -3h3m-2 0h3m-3 1h3m1 -2h3m1 2h3m2 0h3m2 0h3m-2 1h3m6 -3h3m-2 4h3m0 -2h3m1 -1h3m41 -1h3m-148 5h3m12 0h3m7 2h3m1 1h3m-1 -4h3m-2 4h3m-2 -3h3m-1 -1h3m3 2h3m0 -2h3m-1 2h3m-1 0h3m-1 1h3m-1 -3h3m-3 1h3m-1 3h3m-3 -1h3m-3 1h3m0 -2h3m-2 1h3m-3 -1h3m3 -1h3m0 1h3m0 -1h3m0 -1h3m-3 2h3m1 0h3m-1 -1h3m4 3h3m3 -3h3m14 0h3m-113 6h3m11 0h3m6 -1h3m8 0h3m-1 -1h3m-3 0h3m-3 -1h3m0 2h3m-1 1h3m-3 -1h3m-1 2h3m-2 -3h3m-2 2h3m-3 0h3m3 -2h3m-1 3h3m0 -1h3m-2 -1h3m-2 -1h3m-2 -1h3m-1 1h3m-3 0h3m-2 1h3m0 0h3m3 0h3m-2 0h3m-2 -1h3m-2 -1h3m-2 2h3m-1 -2h3m-1 2h3m-1 -1h3m8 3h3m3 -2h3m223 -1h3m-321 3h3m5 1h3m2 3h3m-1 0h3m-3 -2h3m6 2h3m-2 -2h3m5 0h3m0 -2h3m-3 1h3m-2 0h3m1 2h3m0 -2h3m-1 1h3m-3 -2h3m-1 1h3m1 1h3m6 0h3m-1 -1h3m10 -1h3m33 2h3m-118 3h3m0 3h3m9 -1h3m12 1h3m0 -1h3m-2 0h3m6 -1h3m2 1h3m-2 -2h3m1 2h3m0 -2h3m1 2h3m-2 0h3m-3 -3h3m4 3h3m0 0h3m0 0h3m-1 -1h3m17 0h3m-82 5h3m1 1h3m6 -4h3m-3 1h3m-2 3h3m-2 -2h3m-1 -2h3m0 3h3m-2 -1h3m-1 2h3m-1 -3h3m-2 0h3m-1 3h3m0 -1h3m-1 -3h3m-2 2h3m0 -1h3m-3 2h3m1 1h3m-2 0h3m6 -1h3m6 -2h3m-1 0h3m-1 0h3m6 0h3m6 1h3m-1 1h3m-108 1h3m7 1h3m24 2h3m1 -1h3m-1 0h3m2 -1h3m-3 1h3m-1 -2h3m5 4h3m2 -4h3m4 1h3m6 0h3m10 2h3m11 -2h3m-96 5h3m8 2h3m10 -2h3m-2 -1h3m-1 2h3m13 0h3m-2 0h3m0 -2h3m4 2h3m3 -1h3m0 1h3m0 0h3m7 1h3m20 -2h3m-98 6h3m0 -3h3m9 1h3m-2 2h3m0 -1h3m2 1h3m0 -3h3m-2 2h3m-1 1h3m7 -1h3m-1 -1h3m0 0h3m-1 -1h3m0 1h3m-1 2h3m8 -1h3m-51 4h3m-1 -2h3m0 1h3m0 -1h3m0 0h3m0 0h3m-1 3h3m4 -3h3m0 0h3m1 2h3m2 0h3m3 -2h3m0 1h3m-3 0h3m3 -2h3m2 3h3m-83 2h3m5 1h3m26 1h3m5 -1h3m-2 0h3m6 -1h3m-1 0h3m9 1h3m11 0h3m-75 5h3m-2 1h3m-1 -1h3m-3 0h3m6 -2h3m2 3h3m12 -3h3m0 1h3m0 1h3m-3 -1h3m-3 -1h3m8 -1h3m4 3h3m1 -1h3m6 2h3m-96 1h3m6 3h3m3 -3h3m12 -1h3m-1 1h3m3 2h3m5 -3h3m2 1h3m-1 2h3m0 -2h3m-2 -1h3m-2 3h3m-1 -3h3m2 1h3m-2 0h3m-1 3h3m-2 0h3m-2 -3h3m0 3h3m3 -1h3m5 -1h3m4 2h3m-71 0h3m3 2h3m3 0h3m1 1h3m-2 -2h3m0 2h3m0 -2h3m1 1h3m-3 1h3m3 1h3m0 -2h3m-2 1h3m0 -1h3m-2 0h3m-1 -1h3m1 1h3m0 0h3m-1 -1h3m13 -1h3m-98 5h3m5 2h3m30 1h3m-3 -1h3m6 1h3m-3 -1h3m-3 -1h3m1 -2h3m-3 2h3m1 1h3m4 -1h3m-2 -2h3m1 3h3m-3 -1h3m-2 1h3m-3 -3h3m4 4h3m-2 -4h3m-1 2h3m0 2h3m1 -1h3m1 1h3m6 -3h3m9 -1h3m-96 8h3m8 -2h3m11 -1h3m4 0h3m7 1h3m-3 -1h3m3 0h3m2 0h3m6 1h3m-1 1h3m-1 0h3m-1 -1h3m-60 5h3m4 0h3m-1 -2h3m1 3h3m-3 0h3m-3 -1h3m15 1h3m-3 -1h3m-2 -2h3m-2 0h3m-1 2h3m-1 -1h3m0 0h3m-2 1h3m-2 -1h3m-3 -1h3m-2 0h3m-1 0h3m1 3h3m-85 1h3m30 2h3m3 -3h3m1 3h3m-3 0h3m9 -3h3m6 1h3m-3 3h3m7 -2h3m-3 -1h3m7 2h3m-96 4h3m37 -3h3m12 4h3m0 -4h3m0 2h3m3 0h3m-2 0h3m-1 0h3m-1 1h3m1 -1h3m-1 1h3m-1 -1h3m-2 -2h3m-2 3h3m6 -2h3m-52 6h3m1 -2h3m3 0h3m-1 -1h3m-2 1h3m1 3h3m1 -4h3m0 1h3m7 0h3m-1 2h3m1 -1h3m-86 5h3m22 -1h3m16 -1h3m14 -1h3m0 1h3m-1 3h3m1 -4h3m-3 1h3m1 2h3m-3 0h3m-2 0h3m-2 -1h3m0 -1h3m-2 0h3m-1 2h3m-1 -2h3m-118 6h3m33 0h3m8 0h3m-3 -2h3m28 0h3m9 0h3m-1 1h3m2 0h3m-1 -2h3m-2 2h3m-1 0h3m3 1h3m-3 -2h3m-1 0h3m14 3h3m29 -3h3m82 2h3m-191 2h3m-1 1h3m3 -1h3m-3 2h3m15 -1h3m-3 -1h3m1 1h3m-3 -1h3m-2 1h3m-2 0h3m-2 -2h3m-1 3h3m-3 0h3m-3 0h3m-1 0h3m0 -1h3m-3 -2h3m10 2h3m4 -2h3m7 2h3m18 0h3m-140 6h3m28 -4h3m2 0h3m5 2h3m3 -2h3m1 3h3m0 -2h3m-1 0h3m-1 0h3m-3 2h3m-2 0h3m0 -3h3m-2 2h3m3 2h3m3 -3h3m-3 1h3m12 -2h3m3 3h3m2 -3h3m4 3h3m-2 -2h3m-84 4h3m9 3h3m-1 0h3m4 -2h3m-2 -1h3m-1 -1h3m-1 3h3m0 -3h3m-3 1h3m7 3h3m-2 -1h3m-2 0h3m0 0h3m0 0h3m1 -1h3m2 0h3m-1 2h3m1 0h3m-1 -2h3m1 -1h3m0 0h3m-2 2h3m-1 0h3m6 -1h3m2 2h3m-84 4h3m-2 -1h3m0 0h3m4 0h3m5 -2h3m-2 2h3m4 0h3m-1 0h3m-3 0h3m-2 -1h3m-2 -1h3m-1 1h3m0 -2h3m0 2h3m-2 -1h3m-3 0h3m-2 -1h3m-2 2h3m0 0h3m-3 1h3m-1 1h3m2 -1h3m-2 0h3m-2 -1h3m-1 1h3m5 -3h3m6 4h3m-99 1h3m7 1h3m3 -2h3m0 0h3m-3 3h3m3 1h3m1 -1h3m-2 -1h3m-1 0h3m-3 -2h3m-2 2h3m-3 -1h3m-2 1h3m6 -2h3m0 3h3m-1 -1h3m4 1h3m-2 1h3m-1 -1h3m-1 0h3m-2 0h3m-1 0h3m-2 0h3m-3 1h3m-1 -2h3m-1 0h3m5 -1h3m-1 0h3m-1 1h3m-83 4h3m6 0h3m0 2h3m-1 -3h3m8 -1h3m-2 3h3m1 -1h3m0 -1h3m-3 2h3m-3 0h3m-2 0h3m-3 0h3m3 -2h3m-2 -1h3m-3 3h3m-2 -1h3m-2 1h3m-1 -2h3m-3 1h3m-1 -1h3m-2 2h3m-1 -3h3m-2 1h3m-2 -1h3m-3 0h3m-2 0h3m-1 4h3m-1 0h3m-2 -1h3m-2 0h3m-3 -2h3m-2 2h3m-2 -1h3m-2 0h3m-2 1h3m-2 -1h3m-2 0h3m-3 -2h3m-2 3h3m0 -2h3m-1 1h3m1 -2h3m2 3h3m0 -1h3m11 1h3m-112 3h3m8 0h3m5 1h3m-3 0h3m2 -1h3m-1 -1h3m0 3h3m-1 -1h3m-2 -3h3m4 2h3m1 -2h3m-1 0h3m-1 0h3m-2 4h3m-1 -2h3m0 1h3m-3 1h3m-2 -1h3m-3 -3h3m-2 2h3m-3 1h3m0 -2h3m-3 3h3m1 -1h3m-1 0h3m1 -1h3m-1 -1h3m-1 2h3m-2 -2h3m-2 0h3m-3 1h3m-2 -1h3m0 0h3m-3 3h3m-2 -3h3m1 -1h3m-2 3h3m7 -1h3m-95 6h3m14 -2h3m0 -2h3m1 1h3m-2 0h3m-1 -1h3m-2 2h3m-2 1h3m-1 -1h3m0 2h3m-1 -4h3m-3 2h3m-2 1h3m-1 1h3m-1 -1h3m-3 0h3m3 -2h3m-3 2h3m-2 0h3m0 -3h3m-3 1h3m-3 3h3m-1 0h3m1 -3h3m-3 2h3m-2 1h3m-2 -3h3m-3 3h3m-1 -3h3m-2 0h3m-2 1h3m-2 1h3m-3 -3h3m-2 3h3m-1 -1h3m-3 1h3m-1 0h3m-2 -2h3m-2 2h3m-1 -3h3m-3 3h3m-2 -2h3m-2 2h3m-1 0h3m-1 -2h3m-3 2h3m1 -3h3m-2 3h3m-3 -2h3m-2 2h3m3 -3h3m-2 4h3m-154 3h3m59 -2h3m4 2h3m0 -1h3m-1 -1h3m-2 1h3m0 2h3m1 -4h3m-2 0h3m0 2h3m-3 -1h3m-1 3h3m1 -2h3m-3 0h3m-2 -1h3m-2 3h3m-2 -1h3m-2 0h3m-2 0h3m-2 -2h3m-2 0h3m-3 2h3m-2 0h3m-1 -2h3m-2 3h3m-2 -4h3m-3 4h3m-3 -2h3m0 1h3m-2 -1h3m-2 2h3m0 -3h3m-3 1h3m-2 1h3m-2 0h3m-1 1h3m-1 -3h3m-2 0h3m-3 2h3m-2 -1h3m-3 0h3m-2 1h3m-2 1h3m-3 -4h3m-2 1h3m-3 2h3m-1 -3h3m-2 2h3m-2 1h3m-2 0h3m0 1h3m-3 -2h3m4 -1h3m-1 2h3m-2 1h3m3 -3h3m1 0h3m2 2h3m3 -1h3m-89 3h3m-1 0h3m0 2h3m2 -2h3m1 2h3m1 0h3m-2 -1h3m-2 0h3m-3 1h3m-3 0h3m-1 -3h3m-1 3h3m-3 1h3m-2 -3h3m-3 1h3m-2 -2h3m-3 2h3m-2 -2h3m-3 0h3m-3 0h3m-2 1h3m-3 1h3m-2 1h3m-3 1h3m0 -1h3m-3 -3h3m-3 3h3m-3 -3h3m-3 1h3m-3 1h3m-2 1h3m-3 -3h3m-1 2h3m-3 1h3m-2 -3h3m-3 4h3m-1 -3h3m-2 -1h3m-3 4h3m-1 -2h3m1 0h3m-3 2h3m-2 -3h3m-2 0h3m-3 3h3m-1 -3h3m-3 2h3m-3 -1h3m-1 1h3m-3 -2h3m-2 1h3m-2 0h3m-2 -1h3m2 2h3m-1 -1h3m-2 2h3m-2 -4h3m-2 3h3m0 0h3m-2 0h3m-1 1h3m5 -2h3m7 1h3m0 -1h3m-117 4h3m12 -2h3m-3 1h3m2 0h3m4 -1h3m-2 2h3m-3 -2h3m1 1h3m6 3h3m-1 -3h3m-3 1h3m-2 0h3m-3 -2h3m0 1h3m-3 0h3m-2 0h3m-1 0h3m-3 0h3m-3 1h3m-3 1h3m-2 0h3m-3 -2h3m-2 2h3m-1 0h3m-2 -1h3m-2 -1h3m-3 1h3m-2 1h3m-2 0h3m-2 1h3m-1 -3h3m-2 2h3m-3 -2h3m-1 0h3m-1 1h3m0 -1h3m-2 2h3m-3 1h3m-1 0h3m-3 0h3m-3 -3h3m-1 -1h3m-1 1h3m-1 0h3m-3 -1h3m4 3h3m4 -2h3m2 -1h3m4 2h3m-2 -1h3m-111 4h3m11 2h3m0 -1h3m-1 -1h3m4 1h3m-3 -2h3m-2 1h3m-2 3h3m-2 -2h3m-2 0h3m-3 -2h3m-2 3h3m-3 -3h3m-3 3h3m-2 -2h3m-3 1h3m-1 -1h3m1 0h3m-2 1h3m-1 -2h3m-3 2h3m-2 -2h3m0 4h3m-3 -3h3m-3 3h3m-1 -1h3m-3 0h3m-3 0h3m-2 0h3m-3 -2h3m-3 3h3m-1 -1h3m-2 -1h3m-2 2h3m-3 -1h3m-2 -1h3m-3 2h3m-2 0h3m-3 -2h3m-2 -2h3m-2 2h3m-3 0h3m-2 -1h3m-3 1h3m-2 2h3m-3 -3h3m-3 2h3m-2 -1h3m-2 -1h3m-3 1h3m0 2h3m-2 -1h3m-3 -2h3m-2 2h3m-3 -1h3m-1 2h3m-2 -1h3m-2 -1h3m-2 -2h3m-2 3h3m-3 0h3m-2 -1h3m-2 -1h3m-2 1h3m-2 -1h3m-2 1h3m-3 2h3m-1 -1h3m0 1h3m-2 -3h3m-1 3h3m-1 -2h3m-2 -1h3m-1 1h3m0 2h3m-3 -3h3m38 1h3m-126 5h3m8 -3h3m1 1h3m-2 0h3m-2 -1h3m-2 1h3m2 0h3m-3 1h3m1 0h3m-3 1h3m-2 -3h3m-1 0h3m-3 3h3m-1 -3h3m-3 1h3m2 2h3m-2 0h3m-2 -1h3m-2 -1h3m0 2h3m0 -3h3m-1 0h3m-3 4h3m-3 0h3m-1 -3h3m-3 0h3m-2 1h3m-2 -2h3m-3 3h3m-3 -1h3m-2 1h3m-2 -1h3m-1 -2h3m-1 2h3m-3 -2h3m-3 3h3m-2 -2h3m-2 -1h3m-1 2h3m-2 -1h3m-3 3h3m-1 -4h3m-2 2h3m2 0h3m0 -1h3m-2 2h3m3 -1h3m2 -2h3m6 1h3m16 3h3m-114 2h3m-2 0h3m3 -1h3m-2 2h3m-2 -3h3m-1 4h3m2 -1h3m-2 -2h3m-2 0h3m-2 1h3m-3 0h3m-1 -1h3m-2 2h3m3 -1h3m-3 1h3m-2 -1h3m-2 0h3m-3 0h3m-3 -1h3m-3 1h3m-2 0h3m-2 2h3m-2 -2h3m-3 0h3m-3 -1h3m-2 1h3m-1 0h3m-3 -2h3m-2 1h3m-3 2h3m-3 0h3m-2 0h3m-2 0h3m-3 -2h3m-3 2h3m-2 0h3m0 0h3m-1 -1h3m0 2h3m-3 -3h3m-2 0h3m-2 0h3m1 1h3m-2 2h3m-3 -3h3m-2 0h3m-3 3h3m-2 -4h3m-3 3h3m-1 -1h3m-1 0h3m-3 -1h3m-3 1h3m0 1h3m0 -2h3m0 -1h3m5 3h3m-3 -2h3m-2 0h3m-2 1h3m1 1h3m-100 3h3m2 0h3m9 -1h3m-3 2h3m0 0h3m-2 -2h3m-3 2h3m-1 -1h3m-1 2h3m-2 -4h3m-3 2h3m-1 1h3m0 -1h3m-3 -1h3m-2 3h3m-3 -3h3m-3 1h3m0 0h3m-2 1h3m-1 1h3m-2 -2h3m-3 0h3m-2 1h3m-2 -3h3m-2 0h3m-3 0h3m-2 3h3m-3 -1h3m-2 -1h3m-3 0h3m-2 0h3m-2 0h3m-3 0h3m-3 3h3m-2 -1h3m-2 -1h3m-3 1h3m-2 0h3m-2 1h3m-1 -4h3m-2 1h3m-3 -1h3m-3 3h3m-2 -2h3m-3 3h3m-2 -4h3m-3 3h3m-2 -2h3m-1 0h3m-2 2h3m-2 0h3m-2 -2h3m-3 2h3m-3 -2h3m-3 2h3m-2 -3h3m-3 2h3m-3 1h3m-2 -3h3m-2 2h3m-3 2h3m2 -2h3m-3 -1h3m0 1h3m-2 0h3m-1 0h3m1 -1h3m-3 0h3m-3 3h3m3 -2h3m-86 3h3m0 2h3m7 -2h3m-3 1h3m0 2h3m2 -3h3m-3 -1h3m-2 1h3m-1 -1h3m-3 0h3m-2 2h3m-1 -1h3m-3 0h3m-2 0h3m-2 2h3m-2 -1h3m-2 0h3m-2 0h3m-3 -1h3m-3 2h3m-2 0h3m-3 0h3m-2 1h3m-1 -2h3m-2 0h3m-2 -1h3m-3 2h3m-2 -2h3m-3 -1h3m-3 1h3m-3 2h3m-2 1h3m-2 -1h3m-2 -3h3m-2 4h3m-2 -4h3m-1 2h3m-1 1h3m-3 1h3m-2 -3h3m-3 1h3m-2 -1h3m-3 1h3m-3 -1h3m-2 -1h3m-3 3h3m-3 -2h3m-2 1h3m1 -1h3m0 1h3m-3 1h3m-2 1h3m-3 0h3m-3 -3h3m-2 2h3m-2 -2h3m-2 -1h3m0 2h3m-1 -1h3m-3 0h3m-1 0h3m-3 0h3m-1 1h3m0 -2h3m-3 1h3m2 0h3m-1 -1h3m-2 0h3m-3 1h3m1 2h3m5 0h3m-93 3h3m-2 2h3m1 -4h3m-2 1h3m-2 -1h3m0 3h3m-2 1h3m2 -1h3m-3 -3h3m-2 0h3m-2 1h3m-3 2h3m-3 -3h3m1 4h3m-2 -2h3m-2 2h3m-2 -2h3m-1 1h3m-2 -1h3m-1 -1h3m-2 1h3m-1 -1h3m-2 1h3m-2 1h3m-2 -1h3m-2 2h3m-2 -4h3m-2 3h3m-2 -1h3m-3 -1h3m-3 1h3m-2 1h3m-2 -2h3m-2 1h3m-1 0h3m-3 0h3m-3 -1h3m-2 1h3m-3 1h3m-3 -3h3m-2 2h3m-2 -2h3m-3 2h3m-1 2h3m-3 -3h3m-2 -1h3m2 1h3m-3 3h3m-3 -3h3m-2 2h3m-2 -2h3m-2 -1h3m0 1h3m-3 1h3m-2 0h3m0 0h3m-3 1h3m4 1h3m0 0h3m0 -2h3m29 -1h3m-130 4h3m13 0h3m-2 2h3m0 -2h3m-1 1h3m1 0h3m1 0h3m0 -2h3m1 3h3m-1 -1h3m-3 0h3m-2 -1h3m-2 3h3m1 -4h3m1 3h3m-3 -2h3m-2 1h3m-2 -1h3m-2 0h3m-2 -1h3m-3 1h3m-2 0h3m1 2h3m-2 0h3m-3 1h3m-2 -2h3m-3 0h3m-3 0h3m-1 -1h3m1 1h3m-3 1h3m-3 0h3m-2 -2h3m-2 2h3m-2 -1h3m4 -1h3m0 0h3m7 0h3m3 0h3m16 2h3m-135 2h3m14 0h3m-1 1h3m4 2h3m9 0h3m4 -3h3m-1 0h3m-3 3h3m-2 0h3m0 -1h3m-1 -1h3m-2 -2h3m-1 0h3m0 0h3m-3 1h3m1 0h3m-2 1h3m-3 -2h3m-2 1h3m0 2h3m-2 -3h3m-2 0h3m-3 1h3m-1 2h3m-2 -2h3m1 3h3m-2 -1h3m-3 -2h3m-1 3h3m-3 -3h3m-3 2h3m-2 -2h3m-2 0h3m-2 0h3m-3 2h3m-1 0h3m-2 -1h3m-1 0h3m-2 -1h3m-2 1h3m-2 2h3m5 -2h3m-2 -2h3m25 3h3m-2 -3h3m-121 7h3m19 -1h3m-2 -1h3m-3 0h3m6 0h3m-1 0h3m-1 -1h3m-1 2h3m-1 0h3m-3 0h3m-1 0h3m-3 1h3m-3 0h3m-2 0h3m-3 1h3m-1 -1h3m-3 -2h3m-3 0h3m1 3h3m-2 -3h3m-1 1h3m-2 0h3m-1 0h3m-2 0h3m-2 -1h3m-3 2h3m-2 -3h3m-2 1h3m0 1h3m-3 1h3m-3 0h3m-3 -1h3m3 0h3m-1 -1h3m-2 -1h3m-3 4h3m-3 -2h3m3 0h3m0 -1h3m-3 1h3m4 0h3m0 -1h3m-1 -1h3m18 1h3m-130 6h3m23 0h3m-2 -2h3m0 0h3m3 3h3m-1 -2h3m3 -2h3m5 2h3m-1 1h3m-1 -1h3m-1 0h3m-2 1h3m0 -1h3m0 -2h3m-1 3h3m-1 -3h3m-2 1h3m-2 -1h3m-2 0h3m-2 3h3m-3 -1h3m-3 2h3m0 -4h3m4 1h3m-2 1h3m-2 1h3m0 -1h3m-2 -1h3m-3 1h3m-2 1h3m-2 -2h3m3 1h3m9 -2h3m1 0h3m3 3h3m41 -3h3m-173 7h3m25 1h3m10 -3h3m9 -1h3m0 3h3m-2 0h3m2 -1h3m-3 1h3m-1 0h3m-1 -2h3m1 0h3m-1 1h3m-2 -2h3m-1 1h3m-2 2h3m-2 1h3m-3 -2h3m7 2h3m-1 -1h3m6 0h3m-2 0h3m-3 0h3m-1 -2h3m4 3h3m0 -2h3m10 2h3m8 -3h3m-111 3h3m13 2h3m0 -1h3m0 0h3m-1 0h3m-3 2h3m-2 -2h3m-2 2h3m-2 -3h3m2 0h3m2 3h3m5 -3h3m-2 2h3m10 -1h3m-1 0h3m10 0h3m-2 3h3m0 -2h3m15 1h3m-110 2h3m12 1h3m10 1h3m-1 0h3m-3 1h3m2 -1h3m-1 0h3m-1 0h3m-2 -2h3m-3 0h3m-2 3h3m-1 -4h3m-2 2h3m-2 0h3m1 1h3m-2 -1h3m-3 0h3m-1 -1h3m-1 0h3m6 2h3m1 -3h3m3 3h3m6 -2h3m14 3h3m9 -1h3m-149 3h3m41 0h3m8 2h3m-3 -2h3m2 -1h3m0 2h3m1 -1h3m0 1h3m-2 0h3m-3 1h3m0 -3h3m-2 2h3m1 -1h3m-1 1h3m4 -2h3m2 0h3m-1 1h3m15 -1h3m3 0h3m51 1h3m-161 2h3m5 3h3m-2 0h3m21 0h3m7 -2h3m3 2h3m-2 0h3m8 -1h3m-3 2h3m15 -2h3m1 -2h3m1 3h3m-2 -3h3m2 1h3m0 2h3m-2 -2h3m163 1h3m-233 6h3m-1 -4h3m0 3h3m7 -2h3m3 -1h3m-2 3h3m1 -3h3m10 1h3m-1 0h3m-3 3h3m4 -1h3m-1 -1h3m2 -1h3m-2 1h3m-68 4h3m1 -1h3m-2 1h3m9 2h3m2 -3h3m5 0h3m9 2h3m13 -1h3m3 -1h3m2 3h3m0 -3h3m-87 4h3m11 1h3m0 -1h3m-2 1h3m-2 -1h3m-2 0h3m6 -1h3m3 4h3m0 -2h3m15 0h3m2 0h3m8 -1h3m-46 3h3m-1 1h3m-3 3h3m1 -2h3m1 -1h3m-2 3h3m25 -1h3m36 0h3m-104 3h3m-2 0h3m33 0h3m16 -2h3m25 1h3m-105 5h3m57 -1h3m6 0h3m34 -1h3m-101 6h3m3 -1h3m0 2h3m-2 -2h3m1 1h3m96 -1h3m-119 3h3m2 3h3m-2 1h3m19 -4h3m9 3h3m2 -2h3m31 2h3m24 0h3m-90 2h3m12 -1h3m-37 5h3m0 3h3m3 -3h3m-1 1h3m13 2h3m66 4h3m-98 1h3m36 1h3m210 1h3m-241 5h3m11 -1h3" stroke="#000" stroke-width="3" fill="none" opacity="0.5"/>
<line x1="291.5" y1="254.8" x2="291.5" y2="358.0" stroke="#777abd" stroke-width="1.0"/>
<line x1="227.7" y1="307.5" x2="352.0" y2="307.5" stroke="#777abd" stroke-width="1.0"/>
<rect x="227.7" y="254.8" width="124.30000000000001" height="103.19999999999999" fill="none" stroke="#111" stroke-width="1.5"/>
<text x="229.6" y="260.7" font-size="5.2" text-anchor="start" fill="#3a3a3a">36.1</text>
<text x="350.1" y="260.7" font-size="5.2" text-anchor="end" fill="#3a3a3a">0.049</text>
<text x="229.6" y="356.2" font-size="5.2" text-anchor="start" fill="#3a3a3a">63.8</text>
<text x="350.1" y="356.2" font-size="5.2" text-anchor="end" fill="#3a3a3a">0.024</text>
<line x1="223.7" y1="265.0" x2="227.7" y2="265.0" stroke="#111" stroke-width="1.1"/>
<text x="205.7" y="269.5" font-size="10.6" text-anchor="start" fill="#231f20" textLength="8.9" lengthAdjust="spacingAndGlyphs">10</text>
<text x="214.7" y="265.0" font-size="6.8" text-anchor="start" fill="#231f20">5</text>
<line x1="223.7" y1="288.2" x2="227.7" y2="288.2" stroke="#111" stroke-width="1.1"/>
<text x="205.7" y="292.7" font-size="10.6" text-anchor="start" fill="#231f20" textLength="8.9" lengthAdjust="spacingAndGlyphs">10</text>
<text x="214.7" y="288.2" font-size="6.8" text-anchor="start" fill="#231f20">4</text>
<line x1="223.7" y1="312.0" x2="227.7" y2="312.0" stroke="#111" stroke-width="1.1"/>
<text x="205.7" y="316.5" font-size="10.6" text-anchor="start" fill="#231f20" textLength="8.9" lengthAdjust="spacingAndGlyphs">10</text>
<text x="214.7" y="312.0" font-size="6.8" text-anchor="start" fill="#231f20">3</text>
<line x1="223.7" y1="337.0" x2="227.7" y2="337.0" stroke="#111" stroke-width="1.1"/>
<text x="205.7" y="341.5" font-size="10.6" text-anchor="start" fill="#231f20" textLength="8.9" lengthAdjust="spacingAndGlyphs">10</text>
<text x="214.7" y="337.0" font-size="6.8" text-anchor="start" fill="#231f20">2</text>
<line x1="225.5" y1="329.4742501084005" x2="227.7" y2="329.4742501084005" stroke="#111" stroke-width="0.8"/>
<line x1="225.5" y1="325.07196863200846" x2="227.7" y2="325.07196863200846" stroke="#111" stroke-width="0.8"/>
<line x1="225.5" y1="321.94850021680094" x2="227.7" y2="321.94850021680094" stroke="#111" stroke-width="0.8"/>
<line x1="225.5" y1="319.5257498915995" x2="227.7" y2="319.5257498915995" stroke="#111" stroke-width="0.8"/>
<line x1="225.5" y1="317.5462187404089" x2="227.7" y2="317.5462187404089" stroke="#111" stroke-width="0.8"/>
<line x1="225.5" y1="315.8725489996436" x2="227.7" y2="315.8725489996436" stroke="#111" stroke-width="0.8"/>
<line x1="225.5" y1="314.42275032520143" x2="227.7" y2="314.42275032520143" stroke="#111" stroke-width="0.8"/>
<line x1="225.5" y1="313.14393726401687" x2="227.7" y2="313.14393726401687" stroke="#111" stroke-width="0.8"/>
<line x1="225.5" y1="304.83548610319724" x2="227.7" y2="304.83548610319724" stroke="#111" stroke-width="0.8"/>
<line x1="225.5" y1="300.64451413767205" x2="227.7" y2="300.64451413767205" stroke="#111" stroke-width="0.8"/>
<line x1="225.5" y1="297.6709722063945" x2="227.7" y2="297.6709722063945" stroke="#111" stroke-width="0.8"/>
<line x1="225.5" y1="295.36451389680275" x2="227.7" y2="295.36451389680275" stroke="#111" stroke-width="0.8"/>
<line x1="225.5" y1="293.4800002408693" x2="227.7" y2="293.4800002408693" stroke="#111" stroke-width="0.8"/>
<line x1="225.5" y1="291.88666664766066" x2="227.7" y2="291.88666664766066" stroke="#111" stroke-width="0.8"/>
<line x1="225.5" y1="290.5064583095917" x2="227.7" y2="290.5064583095917" stroke="#111" stroke-width="0.8"/>
<line x1="225.5" y1="289.28902827534404" x2="227.7" y2="289.28902827534404" stroke="#111" stroke-width="0.8"/>
<line x1="225.5" y1="281.2161041005956" x2="227.7" y2="281.2161041005956" stroke="#111" stroke-width="0.8"/>
<line x1="225.5" y1="277.1307868905038" x2="227.7" y2="277.1307868905038" stroke="#111" stroke-width="0.8"/>
<line x1="225.5" y1="274.23220820119127" x2="227.7" y2="274.23220820119127" stroke="#111" stroke-width="0.8"/>
<line x1="225.5" y1="271.9838958994044" x2="227.7" y2="271.9838958994044" stroke="#111" stroke-width="0.8"/>
<line x1="225.5" y1="270.14689099109944" x2="227.7" y2="270.14689099109944" stroke="#111" stroke-width="0.8"/>
<line x1="225.5" y1="268.59372547166925" x2="227.7" y2="268.59372547166925" stroke="#111" stroke-width="0.8"/>
<line x1="225.5" y1="267.2483123017869" x2="227.7" y2="267.2483123017869" stroke="#111" stroke-width="0.8"/>
<line x1="225.5" y1="266.06157378100767" x2="227.7" y2="266.06157378100767" stroke="#111" stroke-width="0.8"/>
<line x1="225.5" y1="257.9257951018964" x2="227.7" y2="257.9257951018964" stroke="#111" stroke-width="0.8"/>
<line x1="223.7" y1="347.9" x2="227.7" y2="347.9" stroke="#111" stroke-width="1.1"/>
<text x="220.1" y="351.3" font-size="10.4" text-anchor="end" fill="#231f20">0</text>
<line x1="225.5" y1="339.5" x2="227.7" y2="339.5" stroke="#111" stroke-width="0.8"/>
<line x1="225.5" y1="343.5" x2="227.7" y2="343.5" stroke="#111" stroke-width="0.8"/>
<line x1="225.5" y1="346" x2="227.7" y2="346" stroke="#111" stroke-width="0.8"/>
<line x1="225.5" y1="351" x2="227.7" y2="351" stroke="#111" stroke-width="0.8"/>
<line x1="225.5" y1="353.5" x2="227.7" y2="353.5" stroke="#111" stroke-width="0.8"/>
<line x1="225.5" y1="356" x2="227.7" y2="356" stroke="#111" stroke-width="0.8"/>
<line x1="253.6" y1="358.0" x2="253.6" y2="362.0" stroke="#111" stroke-width="1.1"/>
<text x="246.29999999999998" y="376.2" font-size="10.5" text-anchor="start" fill="#231f20" textLength="9.4" lengthAdjust="spacingAndGlyphs">10</text>
<text x="255.99999999999997" y="371.9" font-size="6.8" text-anchor="start" fill="#231f20">2</text>
<line x1="262.32986987425545" y1="358.0" x2="262.32986987425545" y2="360.2" stroke="#111" stroke-width="0.8"/>
<line x1="267.4365163868702" y1="358.0" x2="267.4365163868702" y2="360.2" stroke="#111" stroke-width="0.8"/>
<line x1="271.0597397485109" y1="358.0" x2="271.0597397485109" y2="360.2" stroke="#111" stroke-width="0.8"/>
<line x1="273.87013012574454" y1="358.0" x2="273.87013012574454" y2="360.2" stroke="#111" stroke-width="0.8"/>
<line x1="276.16638626112564" y1="358.0" x2="276.16638626112564" y2="360.2" stroke="#111" stroke-width="0.8"/>
<line x1="278.10784316041344" y1="358.0" x2="278.10784316041344" y2="360.2" stroke="#111" stroke-width="0.8"/>
<line x1="279.78960962276636" y1="358.0" x2="279.78960962276636" y2="360.2" stroke="#111" stroke-width="0.8"/>
<line x1="281.2730327737404" y1="358.0" x2="281.2730327737404" y2="360.2" stroke="#111" stroke-width="0.8"/>
<line x1="284.2" y1="358.0" x2="284.2" y2="362.0" stroke="#111" stroke-width="1.1"/>
<text x="277.09999999999997" y="376.2" font-size="10.5" text-anchor="start" fill="#231f20" textLength="9.4" lengthAdjust="spacingAndGlyphs">10</text>
<text x="286.79999999999995" y="371.9" font-size="6.8" text-anchor="start" fill="#231f20">3</text>
<line x1="292.9298698742554" y1="358.0" x2="292.9298698742554" y2="360.2" stroke="#111" stroke-width="0.8"/>
<line x1="298.0365163868702" y1="358.0" x2="298.0365163868702" y2="360.2" stroke="#111" stroke-width="0.8"/>
<line x1="301.6597397485109" y1="358.0" x2="301.6597397485109" y2="360.2" stroke="#111" stroke-width="0.8"/>
<line x1="304.47013012574456" y1="358.0" x2="304.47013012574456" y2="360.2" stroke="#111" stroke-width="0.8"/>
<line x1="306.76638626112566" y1="358.0" x2="306.76638626112566" y2="360.2" stroke="#111" stroke-width="0.8"/>
<line x1="308.70784316041346" y1="358.0" x2="308.70784316041346" y2="360.2" stroke="#111" stroke-width="0.8"/>
<line x1="310.38960962276633" y1="358.0" x2="310.38960962276633" y2="360.2" stroke="#111" stroke-width="0.8"/>
<line x1="311.8730327737404" y1="358.0" x2="311.8730327737404" y2="360.2" stroke="#111" stroke-width="0.8"/>
<line x1="313.0" y1="358.0" x2="313.0" y2="362.0" stroke="#111" stroke-width="1.1"/>
<text x="305.4" y="376.2" font-size="10.5" text-anchor="start" fill="#231f20" textLength="9.4" lengthAdjust="spacingAndGlyphs">10</text>
<text x="315.09999999999997" y="371.9" font-size="6.8" text-anchor="start" fill="#231f20">4</text>
<line x1="321.7298698742554" y1="358.0" x2="321.7298698742554" y2="360.2" stroke="#111" stroke-width="0.8"/>
<line x1="326.8365163868702" y1="358.0" x2="326.8365163868702" y2="360.2" stroke="#111" stroke-width="0.8"/>
<line x1="330.4597397485109" y1="358.0" x2="330.4597397485109" y2="360.2" stroke="#111" stroke-width="0.8"/>
<line x1="333.2701301257446" y1="358.0" x2="333.2701301257446" y2="360.2" stroke="#111" stroke-width="0.8"/>
<line x1="335.5663862611257" y1="358.0" x2="335.5663862611257" y2="360.2" stroke="#111" stroke-width="0.8"/>
<line x1="337.5078431604135" y1="358.0" x2="337.5078431604135" y2="360.2" stroke="#111" stroke-width="0.8"/>
<line x1="339.18960962276634" y1="358.0" x2="339.18960962276634" y2="360.2" stroke="#111" stroke-width="0.8"/>
<line x1="340.67303277374043" y1="358.0" x2="340.67303277374043" y2="360.2" stroke="#111" stroke-width="0.8"/>
<line x1="341.5" y1="358.0" x2="341.5" y2="362.0" stroke="#111" stroke-width="1.1"/>
<text x="333.4" y="376.2" font-size="10.5" text-anchor="start" fill="#231f20" textLength="9.4" lengthAdjust="spacingAndGlyphs">10</text>
<text x="343.09999999999997" y="371.9" font-size="6.8" text-anchor="start" fill="#231f20">5</text>
<line x1="350.2298698742554" y1="358.0" x2="350.2298698742554" y2="360.2" stroke="#111" stroke-width="0.8"/>
<line x1="240.89999999999998" y1="358.0" x2="240.89999999999998" y2="362.0" stroke="#111" stroke-width="1.1"/>
<text x="240.29999999999998" y="376.0" font-size="10.4" text-anchor="middle" fill="#231f20">0</text>
<line x1="230.7" y1="358.0" x2="230.7" y2="360.2" stroke="#111" stroke-width="0.8"/>
<line x1="233.7" y1="358.0" x2="233.7" y2="360.2" stroke="#111" stroke-width="0.8"/>
<line x1="246.7" y1="358.0" x2="246.7" y2="360.2" stroke="#111" stroke-width="0.8"/>
<line x1="249.7" y1="358.0" x2="249.7" y2="360.2" stroke="#111" stroke-width="0.8"/>
<path transform="scale(0.25)" d="M1605 1050h3m100 67h3m254 75h3m2 11h3m-181 4h3m168 -1h3m26 2h3m7 2h3m24 -4h3m-240 6h3m138 0h3m68 2h3m19 -2h3m5 1h3m-46 2h3m11 2h3m5 0h3m3 0h3m0 -1h3m-1 1h3m-80 3h3m33 1h3m11 -1h3m1 -2h3m1 3h3m2 0h3m2 -1h3m3 -2h3m5 4h3m0 -2h3m-1 1h3m-327 3h3m244 -1h3m3 1h3m-2 2h3m18 -1h3m10 -2h3m0 1h3m1 0h3m26 0h3m-297 3h3m165 0h3m51 2h3m13 0h3m5 -2h3m1 2h3m5 1h3m2 -1h3m-1 -1h3m11 1h3m-1 -2h3m-1 -1h3m-2 3h3m-3 1h3m0 -3h3m-2 0h3m-2 0h3m-278 4h3m209 2h3m-1 -2h3m0 3h3m4 -3h3m-1 2h3m-3 -2h3m-3 -1h3m4 0h3m2 0h3m1 2h3m-1 -2h3m-3 2h3m-1 -1h3m-2 0h3m-2 0h3m-3 0h3m-3 2h3m-1 0h3m15 -2h3m6 0h3m-303 5h3m18 1h3m146 0h3m27 1h3m2 -3h3m9 1h3m0 -2h3m2 3h3m13 0h3m-1 -3h3m-2 2h3m1 -2h3m0 2h3m1 2h3m0 0h3m-1 -1h3m-1 0h3m0 1h3m0 -1h3m-2 -1h3m9 2h3m2 -1h3m-2 -2h3m-1 3h3m1 -1h3m2 -1h3m-352 3h3m37 0h3m19 0h3m9 0h3m52 1h3m18 0h3m93 -1h3m11 1h3m8 -1h3m-1 3h3m1 -4h3m-3 1h3m2 0h3m-2 0h3m-1 2h3m-1 1h3m2 -1h3m0 -2h3m-2 3h3m4 -1h3m-1 0h3m-2 1h3m5 -3h3m-1 1h3m-3 2h3m-3 -4h3m-1 2h3m4 -1h3m0 -1h3m-3 1h3m-3 2h3m2 0h3m1 0h3m-3 0h3m-2 -3h3m-1 4h3m1 -2h3m1 1h3m-3 0h3m-1 1h3m-2 0h3m-330 1h3m40 3h3m-1 -1h3m-2 -2h3m-2 3h3m9 -4h3m36 3h3m105 0h3m26 -3h3m4 3h3m-1 0h3m7 0h3m-3 -1h3m-2 0h3m4 0h3m4 1h3m2 0h3m-2 -2h3m-2 0h3m1 -1h3m8 3h3m0 -3h3m-3 2h3m0 -2h3m-1 3h3m-2 -2h3m2 1h3m0 1h3m-3 -2h3m-2 0h3m-2 -1h3m2 1h3m0 2h3m-1 -1h3m4 -2h3m-310 6h3m-3 -2h3m4 0h3m0 2h3m6 0h3m-2 1h3m19 -3h3m0 2h3m103 -2h3m25 2h3m56 -1h3m-2 1h3m0 0h3m-3 -1h3m-1 -1h3m0 4h3m-3 -3h3m-2 2h3m-2 1h3m-2 -4h3m-3 2h3m-2 1h3m-2 -2h3m0 2h3m-3 0h3m-3 -2h3m0 -1h3m1 1h3m1 -1h3m0 2h3m-2 1h3m-3 -2h3m2 0h3m-2 2h3m-2 -2h3m-2 1h3m-3 -1h3m-3 1h3m-2 2h3m-3 -4h3m-1 1h3m-2 -1h3m-2 4h3m-2 -3h3m-1 -1h3m-1 2h3m-2 -2h3m-1 3h3m-2 -1h3m-3 -1h3m-3 1h3m4 -2h3m3 2h3m-3 1h3m1 0h3m-364 3h3m32 0h3m-2 -2h3m5 1h3m-1 3h3m1 -2h3m22 -1h3m-3 2h3m-1 -1h3m16 1h3m142 -2h3m10 0h3m23 2h3m-3 0h3m-1 0h3m-2 0h3m3 -1h3m-3 -1h3m-2 2h3m-2 -2h3m5 0h3m-3 -1h3m0 1h3m-1 3h3m0 -3h3m-2 0h3m-1 1h3m-3 -1h3m-1 0h3m-3 2h3m-1 -3h3m-3 2h3m4 -1h3m3 -1h3m-3 3h3m-1 -2h3m-3 1h3m0 -1h3m-3 3h3m-3 -1h3m-2 -3h3m-2 2h3m-1 2h3m-3 -1h3m2 -2h3m-3 3h3m-2 -3h3m-1 0h3m-1 1h3m0 0h3m6 -2h3m-1 0h3m-3 3h3m-2 -2h3m-347 7h3m11 -1h3m2 0h3m8 0h3m6 0h3m1 1h3m11 0h3m15 -1h3m134 -1h3m14 -2h3m13 0h3m1 0h3m-2 3h3m4 0h3m2 -2h3m-2 -1h3m0 1h3m-2 1h3m6 -2h3m1 4h3m-1 -2h3m-2 -1h3m1 -1h3m-2 2h3m-2 0h3m-2 -1h3m-2 2h3m-2 -2h3m-1 1h3m-2 0h3m-2 0h3m3 -1h3m2 -1h3m-1 3h3m-2 0h3m-2 -2h3m0 0h3m0 0h3m-1 2h3m-2 -1h3m3 0h3m0 1h3m-2 -3h3m-2 4h3m-2 -3h3m-2 -1h3m1 0h3m1 2h3m-327 3h3m3 2h3m-1 -3h3m7 1h3m-2 0h3m1 0h3m-2 1h3m0 -1h3m2 0h3m19 2h3m124 0h3m17 1h3m2 -1h3m4 -3h3m5 0h3m1 3h3m8 -1h3m1 0h3m-1 1h3m-3 -3h3m0 0h3m-1 2h3m-2 0h3m-2 2h3m-2 -1h3m-2 -1h3m-3 -1h3m-2 2h3m2 -1h3m-1 1h3m-3 0h3m-2 0h3m-2 0h3m-3 0h3m-1 -2h3m-3 1h3m-2 1h3m-3 0h3m-2 0h3m-1 -1h3m0 1h3m-3 -1h3m-2 -2h3m-3 3h3m0 -2h3m-2 0h3m-3 0h3m1 3h3m-2 0h3m1 0h3m-2 -2h3m-2 0h3m-2 0h3m-3 -1h3m-2 -1h3m-3 3h3m-3 -1h3m-2 1h3m-1 -1h3m2 1h3m-2 -1h3m-2 -2h3m2 2h3m-2 -1h3m-2 2h3m1 0h3m2 1h3m-3 -1h3m0 -2h3m-2 1h3m-2 0h3m-1 -1h3m-328 4h3m6 1h3m-2 2h3m0 -2h3m-1 1h3m5 -1h3m-1 -1h3m-2 0h3m-1 -1h3m-2 2h3m-1 -1h3m1 1h3m59 1h3m98 0h3m-1 -1h3m-2 1h3m-3 0h3m0 -1h3m13 -1h3m2 0h3m-1 1h3m6 2h3m-1 -3h3m0 1h3m-3 -1h3m-2 3h3m-1 -4h3m0 3h3m0 -2h3m-2 3h3m1 -1h3m-3 0h3m-2 -2h3m0 2h3m-1 0h3m-3 -1h3m-1 -1h3m-2 1h3m0 1h3m-3 -2h3m0 0h3m-2 0h3m0 2h3m-1 -2h3m2 1h3m-3 1h3m0 0h3m0 -1h3m0 0h3m-2 1h3m-3 0h3m-2 -3h3m-1 1h3m-2 -1h3m0 2h3m-1 1h3m-2 -2h3m-3 0h3m-2 1h3m-1 1h3m-2 0h3m-1 -2h3m-1 2h3m-2 -3h3m6 1h3m-1 2h3m-348 5h3m22 -2h3m-1 1h3m1 1h3m-2 -2h3m-1 -2h3m-1 2h3m-1 -2h3m0 3h3m-2 0h3m-2 -2h3m-1 0h3m-2 0h3m1 1h3m1 1h3m1 -2h3m5 2h3m-2 -2h3m0 2h3m1 -3h3m-2 4h3m15 -4h3m3 2h3m19 -2h3m42 4h3m47 -1h3m-2 1h3m-3 -2h3m24 -1h3m3 2h3m-1 0h3m4 0h3m1 -1h3m-3 -1h3m-2 0h3m1 1h3m-1 -1h3m-2 3h3m-3 -3h3m0 0h3m-1 0h3m-1 2h3m0 -2h3m-1 2h3m-3 -3h3m-1 1h3m5 2h3m0 -2h3m-1 2h3m-3 0h3m-2 -1h3m-1 0h3m-1 -1h3m-3 -1h3m-1 0h3m-3 3h3m-1 -1h3m-3 1h3m-2 1h3m-3 -1h3m-3 -2h3m2 1h3m-2 1h3m-2 -3h3m-2 2h3m-2 0h3m-3 1h3m-2 -2h3m-1 1h3m-1 1h3m-1 -1h3m-2 -1h3m1 2h3m3 -2h3m-2 2h3m0 -2h3m4 1h3m2 0h3m-359 4h3m7 1h3m2 1h3m14 0h3m-1 -2h3m0 2h3m4 -1h3m-1 0h3m2 -2h3m-3 2h3m2 1h3m-2 -4h3m-3 3h3m0 -1h3m6 -1h3m4 3h3m-1 -1h3m6 1h3m3 -3h3m102 3h3m17 -3h3m5 2h3m1 -2h3m0 1h3m-1 -1h3m-1 2h3m3 -1h3m6 -1h3m-2 -1h3m0 3h3m-3 0h3m-1 0h3m-1 -1h3m8 0h3m-1 -1h3m-1 2h3m-1 0h3m1 -1h3m-2 -1h3m-1 2h3m-2 -2h3m-2 2h3m0 -1h3m-2 2h3m-1 -2h3m-3 0h3m2 -1h3m-2 0h3m-2 1h3m-2 2h3m-1 -2h3m-1 0h3m-3 -2h3m-2 1h3m-3 0h3m-3 0h3m-2 -1h3m-2 2h3m0 0h3m-3 0h3m1 1h3m-1 -1h3m-2 0h3m2 -2h3m-3 1h3m-2 2h3m-1 -1h3m2 2h3m-2 -3h3m4 -1h3m-1 4h3m-1 -1h3m-2 -1h3m1 0h3m5 1h3m-356 5h3m24 -2h3m-2 0h3m-2 -2h3m-1 2h3m1 0h3m-2 1h3m-1 1h3m4 -1h3m-2 -1h3m1 1h3m-2 -1h3m-3 1h3m0 -1h3m0 2h3m1 0h3m-3 -3h3m1 -1h3m-2 2h3m-2 -1h3m2 0h3m-2 0h3m1 2h3m-3 -1h3m-3 -1h3m-2 2h3m26 1h3m1 0h3m19 -1h3m95 -2h3m2 0h3m-1 1h3m-2 -2h3m3 4h3m-1 -2h3m3 0h3m1 2h3m-1 -2h3m1 -2h3m0 1h3m-2 1h3m-2 2h3m-3 -1h3m-3 -1h3m0 -1h3m-3 0h3m2 0h3m-3 1h3m-2 0h3m-2 1h3m0 0h3m-3 -1h3m-1 1h3m-3 1h3m-2 -1h3m-3 1h3m-3 -2h3m-3 2h3m-2 -1h3m0 -1h3m-3 -1h3m-1 1h3m1 0h3m-2 1h3m-2 0h3m-2 -1h3m-2 1h3m5 1h3m0 0h3m-1 -3h3m-2 -1h3m-1 4h3m-2 -4h3m-3 1h3m1 2h3m1 -3h3m-2 1h3m2 2h3m0 -1h3m-3 -1h3m-1 -1h3m-2 1h3m15 1h3m-359 6h3m5 -1h3m9 0h3m-1 1h3m-1 -2h3m-3 -1h3m-3 1h3m-1 -2h3m-2 4h3m3 -4h3m-3 3h3m0 -1h3m-3 2h3m-3 -3h3m-1 2h3m-3 0h3m-1 -1h3m-2 0h3m-1 0h3m-2 2h3m-2 -1h3m1 -3h3m-2 3h3m3 -3h3m-1 3h3m-2 0h3m-1 -3h3m3 2h3m0 0h3m-3 0h3m4 1h3m4 -3h3m2 3h3m25 0h3m85 0h3m6 1h3m16 -3h3m2 2h3m0 1h3m1 -2h3m-1 -2h3m3 4h3m4 -3h3m1 0h3m2 1h3m-1 1h3m0 0h3m-1 -1h3m-2 2h3m-2 -3h3m-2 1h3m-3 0h3m-1 1h3m-3 -2h3m-2 2h3m-1 0h3m-2 1h3m-3 -1h3m-2 -3h3m-2 4h3m-1 -1h3m-2 -3h3m0 2h3m-2 0h3m0 1h3m-2 -1h3m0 1h3m-1 0h3m0 -3h3m-2 3h3m-3 -2h3m4 1h3m1 -1h3m2 2h3m-3 -2h3m5 2h3m0 -3h3m2 0h3m6 0h3m-337 6h3m-3 1h3m-1 0h3m-3 0h3m-2 -3h3m-1 2h3m0 1h3m7 -2h3m-3 -1h3m-1 2h3m-1 2h3m-3 -1h3m-3 0h3m-3 -1h3m1 -2h3m-2 2h3m-3 -1h3m-2 2h3m-2 1h3m-3 -2h3m-3 -1h3m-1 2h3m1 -2h3m-2 2h3m-3 -3h3m-2 3h3m-1 -2h3m-2 3h3m-3 -3h3m-2 2h3m-1 -1h3m-2 2h3m-3 -3h3m-2 2h3m-2 -3h3m-3 0h3m-2 2h3m-1 1h3m0 0h3m-1 -1h3m1 2h3m-3 -2h3m-1 0h3m-2 1h3m6 -3h3m20 2h3m76 -2h3m18 3h3m3 -1h3m17 -1h3m3 -1h3m3 2h3m-2 1h3m-3 -1h3m0 1h3m-1 0h3m5 -2h3m6 1h3m2 1h3m-3 1h3m-1 -2h3m-3 -1h3m-3 -1h3m1 3h3m-2 0h3m-3 -1h3m-2 0h3m-1 -2h3m0 1h3m-3 2h3m3 0h3m-1 0h3m-2 0h3m-1 -3h3m-3 2h3m-2 -2h3m6 0h3m1 1h3m-1 1h3m-2 -1h3m15 3h3m7 -4h3m17 2h3m-401 6h3m32 -3h3m4 2h3m5 -1h3m-2 1h3m-3 0h3m-2 -2h3m4 2h3m-3 -1h3m1 -1h3m-1 2h3m-1 -1h3m-1 -1h3m-2 0h3m-2 1h3m-3 1h3m-2 1h3m-2 -1h3m-3 -1h3m0 0h3m2 -2h3m-3 2h3m-3 1h3m-3 -2h3m-2 3h3m0 -1h3m-3 0h3m-2 0h3m-2 0h3m1 -2h3m0 -1h3m-2 1h3m-3 -1h3m-2 2h3m2 -1h3m0 0h3m9 1h3m0 -1h3m20 1h3m77 1h3m9 -1h3m14 -1h3m2 0h3m0 3h3m0 -2h3m-1 2h3m10 -1h3m8 -2h3m10 0h3m-3 -1h3m1 4h3m2 -3h3m-1 0h3m-3 3h3m2 0h3m-3 -4h3m-2 0h3m0 0h3m-1 2h3m-2 1h3m3 -3h3m5 3h3m-1 1h3m-1 -2h3m-2 1h3m2 0h3m-1 0h3m6 -3h3m0 3h3m1 -1h3m2 -1h3m1 0h3m-3 0h3m-383 3h3m45 3h3m0 -2h3m1 2h3m-3 -1h3m2 0h3m2 1h3m-3 -1h3m-3 -1h3m0 3h3m-3 -2h3m0 -1h3m-3 3h3m-2 -1h3m-2 0h3m-1 -2h3m5 0h3m-2 -1h3m-1 3h3m-2 -1h3m-3 2h3m-2 -4h3m-3 0h3m-3 3h3m-3 -3h3m0 2h3m-2 2h3m0 -4h3m4 3h3m2 -1h3m3 -2h3m3 3h3m6 -1h3m78 2h3m12 -2h3m42 0h3m5 -2h3m-1 0h3m0 3h3m3 0h3m-1 0h3m4 -1h3m-1 0h3m5 -1h3m-2 -1h3m-1 1h3m4 -1h3m1 3h3m-3 0h3m-3 -2h3m-2 0h3m14 0h3m2 0h3m1 0h3m0 2h3m-3 0h3m2 -2h3m17 2h3m15 -1h3m-366 3h3m-2 1h3m-1 0h3m7 1h3m-2 1h3m0 0h3m-2 -1h3m-2 -2h3m-3 1h3m0 1h3m-2 0h3m-3 -1h3m-1 1h3m0 1h3m-1 -1h3m-1 0h3m0 -2h3m-3 2h3m-2 -2h3m2 0h3m-3 1h3m-1 0h3m-2 0h3m-3 -1h3m-2 -1h3m-2 0h3m-1 1h3m-1 2h3m0 -2h3m-2 2h3m-3 -1h3m-2 1h3m3 -1h3m0 -2h3m-2 2h3m-2 -1h3m-3 -1h3m3 3h3m-3 -1h3m-1 2h3m4 -1h3m5 -3h3m10 2h3m7 -1h3m113 1h3m-1 -2h3m7 1h3m-2 0h3m-3 2h3m18 -1h3m-1 1h3m2 1h3m1 -1h3m4 1h3m-1 -4h3m-3 4h3m-2 -3h3m-3 2h3m9 -2h3m-1 0h3m0 2h3m21 -2h3m-3 3h3m8 -4h3m3 4h3m-370 4h3m20 -3h3m12 1h3m1 0h3m-1 1h3m-2 -2h3m-1 2h3m-2 -2h3m-2 2h3m-3 -1h3m-2 0h3m0 -2h3m-3 2h3m0 1h3m-3 1h3m-3 -3h3m3 1h3m-2 0h3m-1 -1h3m-2 1h3m-3 0h3m0 0h3m-3 0h3m-3 -1h3m-3 2h3m-2 -1h3m-1 -1h3m-3 1h3m-2 1h3m2 -2h3m-2 -1h3m-3 3h3m-2 -1h3m-2 -1h3m-2 0h3m-3 3h3m-1 -4h3m-3 2h3m-2 1h3m-2 -2h3m-2 1h3m-3 -1h3m-1 0h3m-3 2h3m-3 -3h3m-3 1h3m-1 -1h3m-2 2h3m-3 1h3m-2 0h3m20 -3h3m136 1h3m4 1h3m10 0h3m4 1h3m6 -2h3m3 3h3m5 -3h3m-3 2h3m1 -2h3m6 0h3m10 3h3m7 -1h3m-3 -2h3m-1 0h3m21 2h3m1 -1h3m-378 4h3m12 1h3m9 0h3m4 -3h3m0 1h3m2 3h3m-1 -2h3m-2 0h3m-2 0h3m2 -2h3m-2 0h3m-3 1h3m0 3h3m-3 -2h3m-3 -1h3m-2 -1h3m-3 3h3m1 -3h3m-1 3h3m-1 -2h3m-3 2h3m2 -2h3m-2 3h3m-3 -2h3m-2 -1h3m-2 -1h3m-3 3h3m-3 -3h3m1 1h3m-3 2h3m-2 1h3m-3 -3h3m-2 0h3m0 0h3m-1 -1h3m1 4h3m-3 -4h3m-3 1h3m-2 2h3m-2 0h3m-2 0h3m2 1h3m2 -2h3m-1 1h3m6 -2h3m6 0h3m-1 3h3m104 -1h3m27 -3h3m12 1h3m-3 1h3m9 -2h3m-1 0h3m10 0h3m-1 2h3m14 -2h3m2 2h3m4 0h3m-3 0h3m-1 0h3m3 1h3m12 -1h3m-1 0h3m36 -2h3m-382 6h3m3 -1h3m1 0h3m8 1h3m5 2h3m-3 -3h3m-3 1h3m0 -1h3m-1 3h3m-2 -1h3m-2 -2h3m0 2h3m-3 -1h3m3 2h3m-1 -3h3m-3 0h3m-2 2h3m0 -3h3m-3 3h3m-2 -2h3m-2 1h3m-1 0h3m-3 -1h3m-1 0h3m-3 0h3m-3 3h3m-2 -2h3m-2 0h3m-1 2h3m-2 -4h3m-3 2h3m0 1h3m-2 0h3m2 -1h3m-1 0h3m-3 0h3m-2 2h3m-1 -2h3m-3 0h3m-2 2h3m-1 -2h3m0 1h3m-1 -1h3m-1 -1h3m1 3h3m-1 -2h3m11 1h3m14 0h3m78 -2h3m23 -1h3m6 2h3m3 0h3m12 -2h3m2 1h3m3 2h3m13 -2h3m-2 0h3m14 1h3m25 -1h3m-355 5h3m13 0h3m-1 2h3m11 -3h3m2 1h3m-1 0h3m1 2h3m-3 -4h3m-2 1h3m-2 0h3m-3 2h3m-1 -2h3m-2 1h3m-2 0h3m-3 -2h3m-3 1h3m0 -1h3m-3 2h3m-2 -2h3m0 2h3m-2 -2h3m-1 1h3m-2 -1h3m-2 1h3m-2 1h3m-1 1h3m-2 0h3m-3 -3h3m-1 2h3m-2 2h3m-3 -2h3m-2 1h3m-3 0h3m-1 -2h3m-2 2h3m-3 -1h3m-2 1h3m-2 -2h3m-2 3h3m-3 -1h3m-3 -1h3m0 -1h3m-2 2h3m-1 -1h3m-3 0h3m-3 0h3m-1 1h3m0 -2h3m3 0h3m1 1h3m-2 -2h3m-2 0h3m0 0h3m1 2h3m2 1h3m9 -2h3m95 3h3m3 -1h3m21 -2h3m10 -1h3m3 1h3m-2 1h3m11 -2h3m-3 3h3m-2 0h3m12 -2h3m9 0h3m1 2h3m5 0h3m26 0h3m12 -2h3m23 -1h3m-385 6h3m16 1h3m-2 -3h3m-2 3h3m0 -3h3m-2 3h3m0 0h3m-2 -2h3m-1 2h3m-1 -1h3m-2 1h3m-3 -1h3m-3 1h3m-2 1h3m-1 -3h3m-2 3h3m-3 -4h3m0 4h3m-2 0h3m-2 0h3m-2 -2h3m-3 -1h3m-1 -1h3m0 0h3m-3 2h3m-2 1h3m-2 -1h3m-3 0h3m2 2h3m-1 0h3m-3 0h3m-3 -3h3m-2 2h3m-3 1h3m-2 -4h3m1 1h3m-1 3h3m-3 -3h3m-1 3h3m-3 -2h3m-2 -2h3m-2 3h3m-1 -2h3m-2 -1h3m-3 3h3m0 -3h3m0 3h3m-2 1h3m6 -1h3m3 -3h3m-2 2h3m2 0h3m145 0h3m5 0h3m29 1h3m20 -2h3m14 1h3m-3 -1h3m1 0h3m10 2h3m5 -2h3m31 2h3m-399 4h3m3 -1h3m9 2h3m-3 -1h3m-3 1h3m-2 -1h3m6 -2h3m0 3h3m-1 -1h3m-1 -1h3m-1 0h3m0 -1h3m-2 2h3m-2 -2h3m-1 2h3m-3 0h3m-1 0h3m-1 -2h3m-3 1h3m-2 -2h3m1 2h3m-2 1h3m0 -1h3m-1 -1h3m-3 2h3m-1 -2h3m-3 3h3m-1 -4h3m-1 4h3m-2 -4h3m-1 4h3m-1 -4h3m-3 0h3m-1 1h3m-2 1h3m-2 -2h3m-2 4h3m-1 -2h3m-3 2h3m-1 -2h3m-3 0h3m1 1h3m-1 -2h3m-2 1h3m15 -1h3m-1 0h3m8 2h3m43 -2h3m10 1h3m7 -1h3m67 1h3m11 1h3m3 -1h3m-1 0h3m3 -1h3m21 -1h3m1 1h3m-333 6h3m2 -2h3m11 1h3m1 1h3m0 0h3m0 -1h3m0 2h3m-1 -2h3m0 1h3m0 -3h3m-1 4h3m-1 -2h3m-1 2h3m1 -2h3m-3 0h3m3 -2h3m-2 2h3m3 -2h3m2 1h3m1 3h3m-2 -3h3m-3 1h3m-1 1h3m-2 0h3m0 -1h3m-2 0h3m0 0h3m-3 1h3m-1 -3h3m-3 3h3m1 -3h3m-3 4h3m0 -3h3m-2 2h3m-2 -3h3m-3 1h3m-1 2h3m2 -3h3m-3 1h3m-2 -1h3m-3 2h3m17 1h3m-1 -1h3m-1 -1h3m-3 2h3m159 0h3m44 -2h3m65 1h3m-385 3h3m-1 1h3m5 1h3m4 0h3m-1 0h3m4 -1h3m-1 1h3m1 1h3m-1 -2h3m0 1h3m-3 0h3m-1 -1h3m-2 -2h3m-3 1h3m-3 2h3m-3 -1h3m-2 0h3m-2 -2h3m-2 1h3m-3 3h3m0 -3h3m-3 2h3m-1 -1h3m-2 1h3m-3 -2h3m-3 1h3m3 -1h3m-2 1h3m-1 0h3m-3 0h3m-2 2h3m-3 -2h3m-2 0h3m-3 2h3m1 -2h3m0 0h3m-3 -2h3m-2 2h3m-1 1h3m-2 -1h3m-3 0h3m-2 -1h3m-2 2h3m-3 -2h3m-1 0h3m-1 3h3m-2 -4h3m2 2h3m12 1h3m0 -2h3m3 3h3m145 -1h3m0 -1h3m40 1h3m-303 1h3m3 4h3m6 -1h3m4 -1h3m-3 -2h3m7 4h3m-3 0h3m-2 -2h3m-1 -2h3m-3 3h3m-2 -1h3m1 -2h3m2 0h3m-2 1h3m5 3h3m-3 -3h3m-2 0h3m-2 0h3m0 1h3m-2 0h3m-1 1h3m-2 -2h3m-1 2h3m1 -1h3m-2 1h3m6 0h3m-1 -3h3m35 4h3m1 -2h3m73 2h3m33 -3h3m18 1h3m19 -2h3m28 2h3m-325 3h3m27 -1h3m5 0h3m-2 3h3m-1 1h3m-3 -2h3m-2 1h3m1 -1h3m-3 -2h3m-2 1h3m0 -1h3m-1 2h3m-2 0h3m3 0h3m-3 -1h3m-2 2h3m-2 0h3m-3 -3h3m0 3h3m-3 -1h3m6 -2h3m2 1h3m-1 0h3m-1 0h3m-2 2h3m11 -2h3m133 -1h3m7 3h3m93 0h3m0 -1h3m-346 4h3m17 0h3m4 -1h3m-2 1h3m1 -1h3m4 1h3m-1 0h3m0 -2h3m3 2h3m-1 0h3m-1 -1h3m-3 1h3m-3 -2h3m3 2h3m4 -2h3m-3 2h3m0 0h3m3 1h3m-2 -3h3m-3 1h3m3 2h3m3 0h3m-2 0h3m190 1h3m-279 3h3m8 -1h3m-1 -2h3m-2 2h3m3 -1h3m2 1h3m-2 0h3m7 0h3m-1 -1h3m2 1h3m1 0h3m-2 -2h3m0 0h3m0 3h3m-2 -1h3m-2 0h3m-3 1h3m-3 -2h3m21 -1h3m14 1h3m193 1h3m-277 5h3m-3 -1h3m-3 -2h3m3 2h3m0 1h3m-3 0h3m2 0h3m1 -1h3m2 0h3m-1 1h3m-2 -1h3m-1 -2h3m0 3h3m6 1h3m-1 -4h3m31 2h3m-1 -1h3m4 1h3m108 1h3m-240 4h3m28 -1h3m18 1h3m-1 0h3m7 0h3m3 -1h3m-2 -2h3m-58 8h3m14 -2h3m0 -2h3m1 3h3m1 -2h3m-1 0h3m16 -1h3m6 1h3m0 -1h3m9 2h3m30 -2h3m169 3h3m-306 3h3m35 -2h3m0 2h3m19 2h3m11 -3h3m0 0h3m11 2h3m111 -3h3m-211 4h3m23 3h3m12 -1h3m-2 1h3m5 0h3m-22 3h3m9 2h3m-3 -2h3m3 2h3m26 -4h3m2 1h3m21 2h3m-51 1h3m264 4h3m-296 1h3m8 1h3m25 1h3m7 -3h3m-82 7h3m45 -1h3m20 1h3m14 0h3m72 0h3m-182 5h3m39 -2h3m8 -2h3m16 0h3m27 2h3m-27 7h3m-58 5h3m12 2h3m31 16h3" stroke="#000" stroke-width="3" fill="none" opacity="0.5"/>
<line x1="450.0" y1="254.8" x2="450.0" y2="358.0" stroke="#777abd" stroke-width="1.0"/>
<line x1="386.2" y1="307.5" x2="509.7" y2="307.5" stroke="#777abd" stroke-width="1.0"/>
<rect x="386.2" y="254.8" width="123.5" height="103.19999999999999" fill="none" stroke="#111" stroke-width="1.5"/>
<text x="388.09999999999997" y="260.7" font-size="5.2" text-anchor="start" fill="#3a3a3a">0.89</text>
<text x="507.8" y="260.7" font-size="5.2" text-anchor="end" fill="#3a3a3a">4.56</text>
<text x="388.09999999999997" y="356.2" font-size="5.2" text-anchor="start" fill="#3a3a3a">56</text>
<text x="507.8" y="356.2" font-size="5.2" text-anchor="end" fill="#3a3a3a">38.6</text>
<line x1="382.2" y1="265.0" x2="386.2" y2="265.0" stroke="#111" stroke-width="1.1"/>
<text x="364.2" y="269.5" font-size="10.6" text-anchor="start" fill="#231f20" textLength="8.9" lengthAdjust="spacingAndGlyphs">10</text>
<text x="373.2" y="265.0" font-size="6.8" text-anchor="start" fill="#231f20">5</text>
<line x1="382.2" y1="288.2" x2="386.2" y2="288.2" stroke="#111" stroke-width="1.1"/>
<text x="364.2" y="292.7" font-size="10.6" text-anchor="start" fill="#231f20" textLength="8.9" lengthAdjust="spacingAndGlyphs">10</text>
<text x="373.2" y="288.2" font-size="6.8" text-anchor="start" fill="#231f20">4</text>
<line x1="382.2" y1="312.0" x2="386.2" y2="312.0" stroke="#111" stroke-width="1.1"/>
<text x="364.2" y="316.5" font-size="10.6" text-anchor="start" fill="#231f20" textLength="8.9" lengthAdjust="spacingAndGlyphs">10</text>
<text x="373.2" y="312.0" font-size="6.8" text-anchor="start" fill="#231f20">3</text>
<line x1="382.2" y1="337.0" x2="386.2" y2="337.0" stroke="#111" stroke-width="1.1"/>
<text x="364.2" y="341.5" font-size="10.6" text-anchor="start" fill="#231f20" textLength="8.9" lengthAdjust="spacingAndGlyphs">10</text>
<text x="373.2" y="337.0" font-size="6.8" text-anchor="start" fill="#231f20">2</text>
<line x1="384.0" y1="329.4742501084005" x2="386.2" y2="329.4742501084005" stroke="#111" stroke-width="0.8"/>
<line x1="384.0" y1="325.07196863200846" x2="386.2" y2="325.07196863200846" stroke="#111" stroke-width="0.8"/>
<line x1="384.0" y1="321.94850021680094" x2="386.2" y2="321.94850021680094" stroke="#111" stroke-width="0.8"/>
<line x1="384.0" y1="319.5257498915995" x2="386.2" y2="319.5257498915995" stroke="#111" stroke-width="0.8"/>
<line x1="384.0" y1="317.5462187404089" x2="386.2" y2="317.5462187404089" stroke="#111" stroke-width="0.8"/>
<line x1="384.0" y1="315.8725489996436" x2="386.2" y2="315.8725489996436" stroke="#111" stroke-width="0.8"/>
<line x1="384.0" y1="314.42275032520143" x2="386.2" y2="314.42275032520143" stroke="#111" stroke-width="0.8"/>
<line x1="384.0" y1="313.14393726401687" x2="386.2" y2="313.14393726401687" stroke="#111" stroke-width="0.8"/>
<line x1="384.0" y1="304.83548610319724" x2="386.2" y2="304.83548610319724" stroke="#111" stroke-width="0.8"/>
<line x1="384.0" y1="300.64451413767205" x2="386.2" y2="300.64451413767205" stroke="#111" stroke-width="0.8"/>
<line x1="384.0" y1="297.6709722063945" x2="386.2" y2="297.6709722063945" stroke="#111" stroke-width="0.8"/>
<line x1="384.0" y1="295.36451389680275" x2="386.2" y2="295.36451389680275" stroke="#111" stroke-width="0.8"/>
<line x1="384.0" y1="293.4800002408693" x2="386.2" y2="293.4800002408693" stroke="#111" stroke-width="0.8"/>
<line x1="384.0" y1="291.88666664766066" x2="386.2" y2="291.88666664766066" stroke="#111" stroke-width="0.8"/>
<line x1="384.0" y1="290.5064583095917" x2="386.2" y2="290.5064583095917" stroke="#111" stroke-width="0.8"/>
<line x1="384.0" y1="289.28902827534404" x2="386.2" y2="289.28902827534404" stroke="#111" stroke-width="0.8"/>
<line x1="384.0" y1="281.2161041005956" x2="386.2" y2="281.2161041005956" stroke="#111" stroke-width="0.8"/>
<line x1="384.0" y1="277.1307868905038" x2="386.2" y2="277.1307868905038" stroke="#111" stroke-width="0.8"/>
<line x1="384.0" y1="274.23220820119127" x2="386.2" y2="274.23220820119127" stroke="#111" stroke-width="0.8"/>
<line x1="384.0" y1="271.9838958994044" x2="386.2" y2="271.9838958994044" stroke="#111" stroke-width="0.8"/>
<line x1="384.0" y1="270.14689099109944" x2="386.2" y2="270.14689099109944" stroke="#111" stroke-width="0.8"/>
<line x1="384.0" y1="268.59372547166925" x2="386.2" y2="268.59372547166925" stroke="#111" stroke-width="0.8"/>
<line x1="384.0" y1="267.2483123017869" x2="386.2" y2="267.2483123017869" stroke="#111" stroke-width="0.8"/>
<line x1="384.0" y1="266.06157378100767" x2="386.2" y2="266.06157378100767" stroke="#111" stroke-width="0.8"/>
<line x1="384.0" y1="257.9257951018964" x2="386.2" y2="257.9257951018964" stroke="#111" stroke-width="0.8"/>
<line x1="382.2" y1="347.9" x2="386.2" y2="347.9" stroke="#111" stroke-width="1.1"/>
<text x="378.59999999999997" y="351.3" font-size="10.4" text-anchor="end" fill="#231f20">0</text>
<line x1="384.0" y1="339.5" x2="386.2" y2="339.5" stroke="#111" stroke-width="0.8"/>
<line x1="384.0" y1="343.5" x2="386.2" y2="343.5" stroke="#111" stroke-width="0.8"/>
<line x1="384.0" y1="346" x2="386.2" y2="346" stroke="#111" stroke-width="0.8"/>
<line x1="384.0" y1="351" x2="386.2" y2="351" stroke="#111" stroke-width="0.8"/>
<line x1="384.0" y1="353.5" x2="386.2" y2="353.5" stroke="#111" stroke-width="0.8"/>
<line x1="384.0" y1="356" x2="386.2" y2="356" stroke="#111" stroke-width="0.8"/>
<line x1="412.09999999999997" y1="358.0" x2="412.09999999999997" y2="362.0" stroke="#111" stroke-width="1.1"/>
<text x="404.8" y="376.2" font-size="10.5" text-anchor="start" fill="#231f20" textLength="9.4" lengthAdjust="spacingAndGlyphs">10</text>
<text x="414.5" y="371.9" font-size="6.8" text-anchor="start" fill="#231f20">2</text>
<line x1="420.8298698742554" y1="358.0" x2="420.8298698742554" y2="360.2" stroke="#111" stroke-width="0.8"/>
<line x1="425.93651638687015" y1="358.0" x2="425.93651638687015" y2="360.2" stroke="#111" stroke-width="0.8"/>
<line x1="429.5597397485109" y1="358.0" x2="429.5597397485109" y2="360.2" stroke="#111" stroke-width="0.8"/>
<line x1="432.37013012574454" y1="358.0" x2="432.37013012574454" y2="360.2" stroke="#111" stroke-width="0.8"/>
<line x1="434.66638626112564" y1="358.0" x2="434.66638626112564" y2="360.2" stroke="#111" stroke-width="0.8"/>
<line x1="436.60784316041344" y1="358.0" x2="436.60784316041344" y2="360.2" stroke="#111" stroke-width="0.8"/>
<line x1="438.2896096227663" y1="358.0" x2="438.2896096227663" y2="360.2" stroke="#111" stroke-width="0.8"/>
<line x1="439.7730327737404" y1="358.0" x2="439.7730327737404" y2="360.2" stroke="#111" stroke-width="0.8"/>
<line x1="442.7" y1="358.0" x2="442.7" y2="362.0" stroke="#111" stroke-width="1.1"/>
<text x="435.59999999999997" y="376.2" font-size="10.5" text-anchor="start" fill="#231f20" textLength="9.4" lengthAdjust="spacingAndGlyphs">10</text>
<text x="445.29999999999995" y="371.9" font-size="6.8" text-anchor="start" fill="#231f20">3</text>
<line x1="451.4298698742554" y1="358.0" x2="451.4298698742554" y2="360.2" stroke="#111" stroke-width="0.8"/>
<line x1="456.5365163868702" y1="358.0" x2="456.5365163868702" y2="360.2" stroke="#111" stroke-width="0.8"/>
<line x1="460.1597397485109" y1="358.0" x2="460.1597397485109" y2="360.2" stroke="#111" stroke-width="0.8"/>
<line x1="462.97013012574456" y1="358.0" x2="462.97013012574456" y2="360.2" stroke="#111" stroke-width="0.8"/>
<line x1="465.26638626112566" y1="358.0" x2="465.26638626112566" y2="360.2" stroke="#111" stroke-width="0.8"/>
<line x1="467.20784316041346" y1="358.0" x2="467.20784316041346" y2="360.2" stroke="#111" stroke-width="0.8"/>
<line x1="468.88960962276633" y1="358.0" x2="468.88960962276633" y2="360.2" stroke="#111" stroke-width="0.8"/>
<line x1="470.3730327737404" y1="358.0" x2="470.3730327737404" y2="360.2" stroke="#111" stroke-width="0.8"/>
<line x1="471.5" y1="358.0" x2="471.5" y2="362.0" stroke="#111" stroke-width="1.1"/>
<text x="463.9" y="376.2" font-size="10.5" text-anchor="start" fill="#231f20" textLength="9.4" lengthAdjust="spacingAndGlyphs">10</text>
<text x="473.59999999999997" y="371.9" font-size="6.8" text-anchor="start" fill="#231f20">4</text>
<line x1="480.2298698742554" y1="358.0" x2="480.2298698742554" y2="360.2" stroke="#111" stroke-width="0.8"/>
<line x1="485.3365163868702" y1="358.0" x2="485.3365163868702" y2="360.2" stroke="#111" stroke-width="0.8"/>
<line x1="488.9597397485109" y1="358.0" x2="488.9597397485109" y2="360.2" stroke="#111" stroke-width="0.8"/>
<line x1="491.7701301257446" y1="358.0" x2="491.7701301257446" y2="360.2" stroke="#111" stroke-width="0.8"/>
<line x1="494.0663862611257" y1="358.0" x2="494.0663862611257" y2="360.2" stroke="#111" stroke-width="0.8"/>
<line x1="496.0078431604135" y1="358.0" x2="496.0078431604135" y2="360.2" stroke="#111" stroke-width="0.8"/>
<line x1="497.68960962276634" y1="358.0" x2="497.68960962276634" y2="360.2" stroke="#111" stroke-width="0.8"/>
<line x1="499.17303277374043" y1="358.0" x2="499.17303277374043" y2="360.2" stroke="#111" stroke-width="0.8"/>
<line x1="500.0" y1="358.0" x2="500.0" y2="362.0" stroke="#111" stroke-width="1.1"/>
<text x="491.9" y="376.2" font-size="10.5" text-anchor="start" fill="#231f20" textLength="9.4" lengthAdjust="spacingAndGlyphs">10</text>
<text x="501.59999999999997" y="371.9" font-size="6.8" text-anchor="start" fill="#231f20">5</text>
<line x1="508.7298698742554" y1="358.0" x2="508.7298698742554" y2="360.2" stroke="#111" stroke-width="0.8"/>
<line x1="399.4" y1="358.0" x2="399.4" y2="362.0" stroke="#111" stroke-width="1.1"/>
<text x="398.8" y="376.0" font-size="10.4" text-anchor="middle" fill="#231f20">0</text>
<line x1="389.2" y1="358.0" x2="389.2" y2="360.2" stroke="#111" stroke-width="0.8"/>
<line x1="392.2" y1="358.0" x2="392.2" y2="360.2" stroke="#111" stroke-width="0.8"/>
<line x1="405.2" y1="358.0" x2="405.2" y2="360.2" stroke="#111" stroke-width="0.8"/>
<line x1="408.2" y1="358.0" x2="408.2" y2="360.2" stroke="#111" stroke-width="0.8"/>
<line x1="34.5" y1="255.2" x2="34.5" y2="288.5" stroke="#231f20" stroke-width="1.2"/>
<line x1="34.5" y1="319.7" x2="34.5" y2="358" stroke="#231f20" stroke-width="1.2"/>
<text transform="translate(38.6,305.2) rotate(-90)" font-size="12.5" text-anchor="middle" fill="#231f20" textLength="18.7" lengthAdjust="spacingAndGlyphs">SCF</text>
<line x1="69" y1="389.4" x2="240.2" y2="389.4" stroke="#231f20" stroke-width="1.3"/>
<line x1="341.2" y1="389.4" x2="509.8" y2="389.4" stroke="#231f20" stroke-width="1.3"/>
<text x="252.3" y="392.6" font-size="12" text-anchor="start" fill="#231f20" textLength="76" lengthAdjust="spacingAndGlyphs">Goat α-mouse</text>
<text x="120.8" y="411.5" font-size="12" text-anchor="start" fill="#231f20" textLength="22.2" lengthAdjust="spacingAndGlyphs">SR-1</text>
<text x="280.6" y="411.5" font-size="12" text-anchor="start" fill="#231f20" textLength="19.6" lengthAdjust="spacingAndGlyphs">SCF</text>
<text x="423" y="411.8" font-size="12" text-anchor="start" fill="#231f20" textLength="50.4" lengthAdjust="spacingAndGlyphs">SR-1+SCF</text>
<text x="10.5" y="447.9" font-size="14.8" text-anchor="start" fill="#231f20" textLength="8.6" lengthAdjust="spacingAndGlyphs">C</text>
<text x="129.2" y="462.3" font-size="12" text-anchor="start" fill="#231f20" textLength="59.1" lengthAdjust="spacingAndGlyphs">Cord Blood</text>
<line x1="70.25" y1="469.49999999999994" x2="70.25" y2="610.8" stroke="#231f20" stroke-width="1.3"/>
<line x1="69.4" y1="607.3" x2="246.89999999999998" y2="607.3" stroke="#231f20" stroke-width="1.3"/>
<line x1="66" y1="607.3" x2="70" y2="607.3" stroke="#231f20" stroke-width="1.2"/>
<text x="61.8" y="610.8" font-size="10" text-anchor="end" fill="#231f20">0</text>
<line x1="66" y1="580.54" x2="70" y2="580.54" stroke="#231f20" stroke-width="1.2"/>
<text x="61.8" y="584.04" font-size="10" text-anchor="end" fill="#231f20">200</text>
<line x1="66" y1="553.78" x2="70" y2="553.78" stroke="#231f20" stroke-width="1.2"/>
<text x="61.8" y="557.28" font-size="10" text-anchor="end" fill="#231f20">400</text>
<line x1="66" y1="527.02" x2="70" y2="527.02" stroke="#231f20" stroke-width="1.2"/>
<text x="61.8" y="530.52" font-size="10" text-anchor="end" fill="#231f20">600</text>
<line x1="66" y1="500.25999999999993" x2="70" y2="500.25999999999993" stroke="#231f20" stroke-width="1.2"/>
<text x="61.8" y="503.75999999999993" font-size="10" text-anchor="end" fill="#231f20">800</text>
<line x1="66" y1="473.49999999999994" x2="70" y2="473.49999999999994" stroke="#231f20" stroke-width="1.2"/>
<text x="61.8" y="476.99999999999994" font-size="10" text-anchor="end" fill="#231f20">1000</text>
<line x1="70.0" y1="607.3" x2="70.0" y2="610.8" stroke="#231f20" stroke-width="1.2"/>
<text x="70.0" y="624.8" font-size="9.8" text-anchor="middle" fill="#231f20">0</text>
<line x1="127.8" y1="607.3" x2="127.8" y2="610.8" stroke="#231f20" stroke-width="1.2"/>
<text x="127.8" y="624.8" font-size="9.8" text-anchor="middle" fill="#231f20">2</text>
<line x1="185.6" y1="607.3" x2="185.6" y2="610.8" stroke="#231f20" stroke-width="1.2"/>
<text x="185.6" y="624.8" font-size="9.8" text-anchor="middle" fill="#231f20">4</text>
<line x1="243.39999999999998" y1="607.3" x2="243.39999999999998" y2="610.8" stroke="#231f20" stroke-width="1.2"/>
<text x="243.39999999999998" y="624.8" font-size="9.8" text-anchor="middle" fill="#231f20">6</text>
<text x="159.04999999999998" y="641.9" font-size="12.2" text-anchor="middle" fill="#231f20" textLength="19.9" lengthAdjust="spacingAndGlyphs">Day</text>
<text transform="translate(31,538.6) rotate(-90)" font-size="12" text-anchor="middle" fill="#231f20" textLength="52.6" lengthAdjust="spacingAndGlyphs">Cell count</text>
<polyline points="70.00,604.62 127.80,599.94 185.60,575.19 214.50,510.43" fill="none" stroke="#3d5d8f" stroke-width="1.1"/>
<polyline points="70.00,604.62 127.80,600.61 185.60,582.68 214.50,530.37" fill="none" stroke="#ab2641" stroke-width="1.1"/>
<polyline points="70.00,604.89 127.80,601.28 185.60,587.90 214.50,544.28" fill="none" stroke="#6cae4b" stroke-width="1.1"/>
<polyline points="70.00,604.62 127.80,601.68 185.60,591.91 214.50,572.91" fill="none" stroke="#6a3b74" stroke-width="1.1"/>
<polyline points="70.00,604.62 127.80,601.95 185.60,594.99 214.50,581.48" fill="none" stroke="#e29a37" stroke-width="1.1"/>
<polyline points="70.00,604.62 127.80,602.22 185.60,595.79 214.50,583.22" fill="none" stroke="#3e7256" stroke-width="1.1"/>
<line x1="214.5" y1="504.8091999999999" x2="214.5" y2="516.0483999999999" stroke="#222" stroke-width="1.1"/>
<line x1="210.5" y1="504.8091999999999" x2="218.5" y2="504.8091999999999" stroke="#222" stroke-width="1.1"/>
<line x1="210.5" y1="516.0483999999999" x2="218.5" y2="516.0483999999999" stroke="#222" stroke-width="1.1"/>
<circle cx="70.0" cy="604.6239999999999" r="3.55" fill="#3d5d8f"/>
<circle cx="127.8" cy="599.9409999999999" r="3.55" fill="#3d5d8f"/>
<circle cx="185.6" cy="575.188" r="3.55" fill="#3d5d8f"/>
<circle cx="214.5" cy="510.42879999999997" r="3.55" fill="#3d5d8f"/>
<line x1="214.5" y1="527.1537999999999" x2="214.5" y2="533.5762" stroke="#222" stroke-width="1.1"/>
<line x1="210.5" y1="527.1537999999999" x2="218.5" y2="527.1537999999999" stroke="#222" stroke-width="1.1"/>
<line x1="210.5" y1="533.5762" x2="218.5" y2="533.5762" stroke="#222" stroke-width="1.1"/>
<rect x="66.65" y="601.2739999999999" width="6.7" height="6.7" fill="#ab2641"/>
<rect x="124.45" y="597.2599999999999" width="6.7" height="6.7" fill="#ab2641"/>
<rect x="182.25" y="579.3308" width="6.7" height="6.7" fill="#ab2641"/>
<rect x="211.15" y="527.015" width="6.7" height="6.7" fill="#ab2641"/>
<line x1="214.5" y1="537.055" x2="214.5" y2="551.5054" stroke="#222" stroke-width="1.1"/>
<line x1="210.5" y1="537.055" x2="218.5" y2="537.055" stroke="#222" stroke-width="1.1"/>
<line x1="210.5" y1="551.5054" x2="218.5" y2="551.5054" stroke="#222" stroke-width="1.1"/>
<path d="M70.0 601.6615999999999L73.4 607.6116L66.6 607.6116Z" fill="#6cae4b"/>
<path d="M127.8 598.049L131.2 603.999L124.39999999999999 603.999Z" fill="#6cae4b"/>
<path d="M185.6 584.669L189.0 590.619L182.2 590.619Z" fill="#6cae4b"/>
<path d="M214.5 541.0501999999999L217.9 547.0002L211.1 547.0002Z" fill="#6cae4b"/>
<line x1="214.5" y1="570.505" x2="214.5" y2="575.3217999999999" stroke="#222" stroke-width="1.1"/>
<line x1="210.5" y1="570.505" x2="218.5" y2="570.505" stroke="#222" stroke-width="1.1"/>
<line x1="210.5" y1="575.3217999999999" x2="218.5" y2="575.3217999999999" stroke="#222" stroke-width="1.1"/>
<path d="M67.4 602.0239999999999L72.6 607.2239999999999M72.6 602.0239999999999L67.4 607.2239999999999" stroke="#6a3b74" stroke-width="1.3"/>
<path d="M125.2 599.0803999999999L130.4 604.2804M130.4 599.0803999999999L125.2 604.2804" stroke="#6a3b74" stroke-width="1.3"/>
<path d="M183.0 589.313L188.2 594.513M188.2 589.313L183.0 594.513" stroke="#6a3b74" stroke-width="1.3"/>
<path d="M211.9 570.3133999999999L217.1 575.5133999999999M217.1 570.3133999999999L211.9 575.5133999999999" stroke="#6a3b74" stroke-width="1.3"/>
<path d="M70.0 601.6239999999999L73.0 604.6239999999999L70.0 607.6239999999999L67.0 604.6239999999999Z" fill="none" stroke="#e29a37" stroke-width="1.1"/>
<path d="M127.8 598.948L130.8 601.948L127.8 604.948L124.8 601.948Z" fill="none" stroke="#e29a37" stroke-width="1.1"/>
<path d="M185.6 591.9903999999999L188.6 594.9903999999999L185.6 597.9903999999999L182.6 594.9903999999999Z" fill="none" stroke="#e29a37" stroke-width="1.1"/>
<path d="M214.5 578.4766L217.5 581.4766L214.5 584.4766L211.5 581.4766Z" fill="none" stroke="#e29a37" stroke-width="1.1"/>
<line x1="214.5" y1="578.9344" x2="214.5" y2="587.4975999999999" stroke="#222" stroke-width="1.1"/>
<line x1="210.5" y1="578.9344" x2="218.5" y2="578.9344" stroke="#222" stroke-width="1.1"/>
<line x1="210.5" y1="587.4975999999999" x2="218.5" y2="587.4975999999999" stroke="#222" stroke-width="1.1"/>
<circle cx="70.0" cy="604.6239999999999" r="2.9" fill="none" stroke="#3e7256" stroke-width="1.1"/>
<circle cx="127.8" cy="602.2156" r="2.9" fill="none" stroke="#3e7256" stroke-width="1.1"/>
<circle cx="185.6" cy="595.7932" r="2.9" fill="none" stroke="#3e7256" stroke-width="1.1"/>
<circle cx="214.5" cy="583.216" r="2.9" fill="none" stroke="#3e7256" stroke-width="1.1"/>
<circle cx="214" cy="480" r="1.3" fill="#6a6a6a"/>
<line x1="73.7" y1="474.6" x2="97.8" y2="474.6" stroke="#3d5d8f" stroke-width="1.1"/>
<circle cx="85.7" cy="474.6" r="3.3724999999999996" fill="#3d5d8f"/>
<text x="102" y="477.45000000000005" font-size="9.8" text-anchor="start" fill="#231f20" textLength="15.2" lengthAdjust="spacingAndGlyphs">HSC</text>
<line x1="73.7" y1="488.72" x2="97.8" y2="488.72" stroke="#ab2641" stroke-width="1.1"/>
<rect x="82.5175" y="485.5375" width="6.365" height="6.365" fill="#ab2641"/>
<text x="102" y="491.57000000000005" font-size="9.8" text-anchor="start" fill="#231f20" textLength="89.5" lengthAdjust="spacingAndGlyphs">HSC + SR-1 (0.01μg/ml)</text>
<line x1="73.7" y1="502.84000000000003" x2="97.8" y2="502.84000000000003" stroke="#6cae4b" stroke-width="1.1"/>
<path d="M85.7 499.77150000000006L88.93 505.42400000000004L82.47 505.42400000000004Z" fill="#6cae4b"/>
<text x="102" y="505.69000000000005" font-size="9.8" text-anchor="start" fill="#231f20" textLength="84.2" lengthAdjust="spacingAndGlyphs">HSC + SR-1 (0.1μg/ml)</text>
<line x1="73.7" y1="516.96" x2="97.8" y2="516.96" stroke="#6a3b74" stroke-width="1.1"/>
<path d="M83.23 514.49L88.17 519.4300000000001M88.17 514.49L83.23 519.4300000000001" stroke="#6a3b74" stroke-width="1.3"/>
<text x="102" y="519.8100000000001" font-size="9.8" text-anchor="start" fill="#231f20" textLength="77.7" lengthAdjust="spacingAndGlyphs">HSC + SR-1 (1μg/ml)</text>
<line x1="73.7" y1="531.08" x2="97.8" y2="531.08" stroke="#e29a37" stroke-width="1.1"/>
<path d="M85.7 528.23L88.55 531.08L85.7 533.9300000000001L82.85000000000001 531.08Z" fill="none" stroke="#e29a37" stroke-width="1.1"/>
<text x="102" y="533.9300000000001" font-size="9.8" text-anchor="start" fill="#231f20" textLength="82.5" lengthAdjust="spacingAndGlyphs">HSC + SR-1 (10μg/ml)</text>
<line x1="73.7" y1="545.2" x2="97.8" y2="545.2" stroke="#3e7256" stroke-width="1.1"/>
<circle cx="85.7" cy="545.2" r="2.755" fill="none" stroke="#3e7256" stroke-width="1.1"/>
<text x="102" y="548.0500000000001" font-size="9.8" text-anchor="start" fill="#231f20" textLength="87.0" lengthAdjust="spacingAndGlyphs">HSC + SR-1 (100μg/ml)</text>
<text x="270.7" y="447.9" font-size="14.8" text-anchor="start" fill="#231f20" textLength="9.2" lengthAdjust="spacingAndGlyphs">D</text>
<text x="383.75" y="463.3" font-size="12" text-anchor="start" fill="#231f20" textLength="71.3" lengthAdjust="spacingAndGlyphs">Bone Marrow</text>
<line x1="329.65" y1="470.29600000000005" x2="329.65" y2="610.6" stroke="#231f20" stroke-width="1.3"/>
<line x1="328.79999999999995" y1="607.1" x2="510.09999999999997" y2="607.1" stroke="#231f20" stroke-width="1.3"/>
<line x1="325.4" y1="607.1" x2="329.4" y2="607.1" stroke="#231f20" stroke-width="1.2"/>
<text x="321.2" y="610.6" font-size="10" text-anchor="end" fill="#231f20">0</text>
<line x1="325.4" y1="584.966" x2="329.4" y2="584.966" stroke="#231f20" stroke-width="1.2"/>
<text x="321.2" y="588.466" font-size="10" text-anchor="end" fill="#231f20">200</text>
<line x1="325.4" y1="562.832" x2="329.4" y2="562.832" stroke="#231f20" stroke-width="1.2"/>
<text x="321.2" y="566.332" font-size="10" text-anchor="end" fill="#231f20">400</text>
<line x1="325.4" y1="540.698" x2="329.4" y2="540.698" stroke="#231f20" stroke-width="1.2"/>
<text x="321.2" y="544.198" font-size="10" text-anchor="end" fill="#231f20">600</text>
<line x1="325.4" y1="518.5640000000001" x2="329.4" y2="518.5640000000001" stroke="#231f20" stroke-width="1.2"/>
<text x="321.2" y="522.0640000000001" font-size="10" text-anchor="end" fill="#231f20">800</text>
<line x1="325.4" y1="496.43" x2="329.4" y2="496.43" stroke="#231f20" stroke-width="1.2"/>
<text x="321.2" y="499.93" font-size="10" text-anchor="end" fill="#231f20">1000</text>
<line x1="325.4" y1="474.29600000000005" x2="329.4" y2="474.29600000000005" stroke="#231f20" stroke-width="1.2"/>
<text x="321.2" y="477.79600000000005" font-size="10" text-anchor="end" fill="#231f20">1200</text>
<line x1="329.4" y1="607.1" x2="329.4" y2="610.6" stroke="#231f20" stroke-width="1.2"/>
<text x="329.4" y="624.8" font-size="9.8" text-anchor="middle" fill="#231f20">0</text>
<line x1="373.7" y1="607.1" x2="373.7" y2="610.6" stroke="#231f20" stroke-width="1.2"/>
<text x="373.7" y="624.8" font-size="9.8" text-anchor="middle" fill="#231f20">2</text>
<line x1="418.0" y1="607.1" x2="418.0" y2="610.6" stroke="#231f20" stroke-width="1.2"/>
<text x="418.0" y="624.8" font-size="9.8" text-anchor="middle" fill="#231f20">4</text>
<line x1="462.29999999999995" y1="607.1" x2="462.29999999999995" y2="610.6" stroke="#231f20" stroke-width="1.2"/>
<text x="462.29999999999995" y="624.8" font-size="9.8" text-anchor="middle" fill="#231f20">6</text>
<line x1="506.59999999999997" y1="607.1" x2="506.59999999999997" y2="610.6" stroke="#231f20" stroke-width="1.2"/>
<text x="506.59999999999997" y="624.8" font-size="9.8" text-anchor="middle" fill="#231f20">8</text>
<text x="420.35" y="641.9" font-size="12.2" text-anchor="middle" fill="#231f20" textLength="19.9" lengthAdjust="spacingAndGlyphs">Day</text>
<text transform="translate(290.4,541.5) rotate(-90)" font-size="12" text-anchor="middle" fill="#231f20" textLength="52.6" lengthAdjust="spacingAndGlyphs">Cell count</text>
<polyline points="329.40,604.33 373.70,603.78 418.00,590.83 440.15,574.01 484.45,506.28" fill="none" stroke="#3d5d8f" stroke-width="1.1"/>
<polyline points="329.40,604.33 373.70,602.89 418.00,593.71 440.15,576.33 484.45,525.54" fill="none" stroke="#ab2641" stroke-width="1.1"/>
<polyline points="329.40,605.11 373.70,604.33 418.00,599.46 440.15,595.70 484.45,586.07" fill="none" stroke="#6cae4b" stroke-width="1.1"/>
<polyline points="329.40,605.11 373.70,604.67 418.00,601.90 440.15,600.46 484.45,597.58" fill="none" stroke="#6a3b74" stroke-width="1.1"/>
<polyline points="329.40,605.44 373.70,605.11 418.00,603.45 440.15,601.79 484.45,601.90" fill="none" stroke="#e29a37" stroke-width="1.1"/>
<polyline points="329.40,605.11 373.70,604.89 418.00,603.23 440.15,601.35 484.45,598.58" fill="none" stroke="#3e7256" stroke-width="1.1"/>
<line x1="418.0" y1="589.94615" x2="418.0" y2="591.71687" stroke="#222" stroke-width="1.1"/>
<line x1="414.0" y1="589.94615" x2="422.0" y2="589.94615" stroke="#222" stroke-width="1.1"/>
<line x1="414.0" y1="591.71687" x2="422.0" y2="591.71687" stroke="#222" stroke-width="1.1"/>
<line x1="440.15" y1="572.68163" x2="440.15" y2="575.33771" stroke="#222" stroke-width="1.1"/>
<line x1="436.15" y1="572.68163" x2="444.15" y2="572.68163" stroke="#222" stroke-width="1.1"/>
<line x1="436.15" y1="575.33771" x2="444.15" y2="575.33771" stroke="#222" stroke-width="1.1"/>
<line x1="484.44999999999993" y1="495.54464" x2="484.44999999999993" y2="517.01462" stroke="#222" stroke-width="1.1"/>
<line x1="480.44999999999993" y1="495.54464" x2="488.44999999999993" y2="495.54464" stroke="#222" stroke-width="1.1"/>
<line x1="480.44999999999993" y1="517.01462" x2="488.44999999999993" y2="517.01462" stroke="#222" stroke-width="1.1"/>
<circle cx="329.4" cy="604.33325" r="3.55" fill="#3d5d8f"/>
<circle cx="373.7" cy="603.7799" r="3.55" fill="#3d5d8f"/>
<circle cx="418.0" cy="590.83151" r="3.55" fill="#3d5d8f"/>
<circle cx="440.15" cy="574.00967" r="3.55" fill="#3d5d8f"/>
<circle cx="484.44999999999993" cy="506.27963" r="3.55" fill="#3d5d8f"/>
<line x1="418.0" y1="592.82357" x2="418.0" y2="594.59429" stroke="#222" stroke-width="1.1"/>
<line x1="414.0" y1="592.82357" x2="422.0" y2="592.82357" stroke="#222" stroke-width="1.1"/>
<line x1="414.0" y1="594.59429" x2="422.0" y2="594.59429" stroke="#222" stroke-width="1.1"/>
<line x1="440.15" y1="575.0057" x2="440.15" y2="577.66178" stroke="#222" stroke-width="1.1"/>
<line x1="436.15" y1="575.0057" x2="444.15" y2="575.0057" stroke="#222" stroke-width="1.1"/>
<line x1="436.15" y1="577.66178" x2="444.15" y2="577.66178" stroke="#222" stroke-width="1.1"/>
<line x1="484.44999999999993" y1="520.00271" x2="484.44999999999993" y2="531.06971" stroke="#222" stroke-width="1.1"/>
<line x1="480.44999999999993" y1="520.00271" x2="488.44999999999993" y2="520.00271" stroke="#222" stroke-width="1.1"/>
<line x1="480.44999999999993" y1="531.06971" x2="488.44999999999993" y2="531.06971" stroke="#222" stroke-width="1.1"/>
<rect x="326.04999999999995" y="600.98325" width="6.7" height="6.7" fill="#ab2641"/>
<rect x="370.34999999999997" y="599.54454" width="6.7" height="6.7" fill="#ab2641"/>
<rect x="414.65" y="590.35893" width="6.7" height="6.7" fill="#ab2641"/>
<rect x="436.79999999999995" y="572.98374" width="6.7" height="6.7" fill="#ab2641"/>
<rect x="481.0999999999999" y="522.18621" width="6.7" height="6.7" fill="#ab2641"/>
<line x1="440.15" y1="592.38089" x2="440.15" y2="599.0210900000001" stroke="#222" stroke-width="1.1"/>
<line x1="436.15" y1="592.38089" x2="444.15" y2="592.38089" stroke="#222" stroke-width="1.1"/>
<line x1="436.15" y1="599.0210900000001" x2="444.15" y2="599.0210900000001" stroke="#222" stroke-width="1.1"/>
<line x1="484.44999999999993" y1="581.0925500000001" x2="484.44999999999993" y2="591.05285" stroke="#222" stroke-width="1.1"/>
<line x1="480.44999999999993" y1="581.0925500000001" x2="488.44999999999993" y2="581.0925500000001" stroke="#222" stroke-width="1.1"/>
<line x1="480.44999999999993" y1="591.05285" x2="488.44999999999993" y2="591.05285" stroke="#222" stroke-width="1.1"/>
<path d="M329.4 601.87794L332.79999999999995 607.82794L326.0 607.82794Z" fill="#6cae4b"/>
<path d="M373.7 601.10325L377.09999999999997 607.05325L370.3 607.05325Z" fill="#6cae4b"/>
<path d="M418.0 596.23377L421.4 602.1837700000001L414.6 602.1837700000001Z" fill="#6cae4b"/>
<path d="M440.15 592.47099L443.54999999999995 598.4209900000001L436.75 598.4209900000001Z" fill="#6cae4b"/>
<path d="M484.44999999999993 582.8427L487.8499999999999 588.7927000000001L481.04999999999995 588.7927000000001Z" fill="#6cae4b"/>
<line x1="484.44999999999993" y1="595.92233" x2="484.44999999999993" y2="599.24243" stroke="#222" stroke-width="1.1"/>
<line x1="480.44999999999993" y1="595.92233" x2="488.44999999999993" y2="595.92233" stroke="#222" stroke-width="1.1"/>
<line x1="480.44999999999993" y1="599.24243" x2="488.44999999999993" y2="599.24243" stroke="#222" stroke-width="1.1"/>
<path d="M326.79999999999995 602.50794L332.0 607.70794M332.0 602.50794L326.79999999999995 607.70794" stroke="#6a3b74" stroke-width="1.3"/>
<path d="M371.09999999999997 602.06526L376.3 607.26526M376.3 602.06526L371.09999999999997 607.26526" stroke="#6a3b74" stroke-width="1.3"/>
<path d="M415.4 599.29851L420.6 604.49851M420.6 599.29851L415.4 604.49851" stroke="#6a3b74" stroke-width="1.3"/>
<path d="M437.54999999999995 597.8598L442.75 603.0598M442.75 597.8598L437.54999999999995 603.0598" stroke="#6a3b74" stroke-width="1.3"/>
<path d="M481.8499999999999 594.98238L487.04999999999995 600.1823800000001M487.04999999999995 594.98238L481.8499999999999 600.1823800000001" stroke="#6a3b74" stroke-width="1.3"/>
<line x1="484.44999999999993" y1="600.23846" x2="484.44999999999993" y2="603.55856" stroke="#222" stroke-width="1.1"/>
<line x1="480.44999999999993" y1="600.23846" x2="488.44999999999993" y2="600.23846" stroke="#222" stroke-width="1.1"/>
<line x1="480.44999999999993" y1="603.55856" x2="488.44999999999993" y2="603.55856" stroke="#222" stroke-width="1.1"/>
<path d="M329.4 602.4399500000001L332.4 605.4399500000001L329.4 608.4399500000001L326.4 605.4399500000001Z" fill="none" stroke="#e29a37" stroke-width="1.1"/>
<path d="M373.7 602.10794L376.7 605.10794L373.7 608.10794L370.7 605.10794Z" fill="none" stroke="#e29a37" stroke-width="1.1"/>
<path d="M418.0 600.44789L421.0 603.44789L418.0 606.44789L415.0 603.44789Z" fill="none" stroke="#e29a37" stroke-width="1.1"/>
<path d="M440.15 598.7878400000001L443.15 601.7878400000001L440.15 604.7878400000001L437.15 601.7878400000001Z" fill="none" stroke="#e29a37" stroke-width="1.1"/>
<path d="M484.44999999999993 598.89851L487.44999999999993 601.89851L484.44999999999993 604.89851L481.44999999999993 601.89851Z" fill="none" stroke="#e29a37" stroke-width="1.1"/>
<line x1="484.44999999999993" y1="596.91836" x2="484.44999999999993" y2="600.23846" stroke="#222" stroke-width="1.1"/>
<line x1="480.44999999999993" y1="596.91836" x2="488.44999999999993" y2="596.91836" stroke="#222" stroke-width="1.1"/>
<line x1="480.44999999999993" y1="600.23846" x2="488.44999999999993" y2="600.23846" stroke="#222" stroke-width="1.1"/>
<circle cx="329.4" cy="605.10794" r="2.9" fill="none" stroke="#3e7256" stroke-width="1.1"/>
<circle cx="373.7" cy="604.8866" r="2.9" fill="none" stroke="#3e7256" stroke-width="1.1"/>
<circle cx="418.0" cy="603.22655" r="2.9" fill="none" stroke="#3e7256" stroke-width="1.1"/>
<circle cx="440.15" cy="601.3451600000001" r="2.9" fill="none" stroke="#3e7256" stroke-width="1.1"/>
<circle cx="484.44999999999993" cy="598.5784100000001" r="2.9" fill="none" stroke="#3e7256" stroke-width="1.1"/>
<circle cx="484" cy="473" r="1.3" fill="#6a6a6a"/>
<line x1="333.09999999999997" y1="474.6" x2="357.2" y2="474.6" stroke="#3d5d8f" stroke-width="1.1"/>
<circle cx="345.09999999999997" cy="474.6" r="3.3724999999999996" fill="#3d5d8f"/>
<text x="361.4" y="477.45000000000005" font-size="9.8" text-anchor="start" fill="#231f20" textLength="15.2" lengthAdjust="spacingAndGlyphs">HSC</text>
<line x1="333.09999999999997" y1="488.72" x2="357.2" y2="488.72" stroke="#ab2641" stroke-width="1.1"/>
<rect x="341.91749999999996" y="485.5375" width="6.365" height="6.365" fill="#ab2641"/>
<text x="361.4" y="491.57000000000005" font-size="9.8" text-anchor="start" fill="#231f20" textLength="89.5" lengthAdjust="spacingAndGlyphs">HSC + SR-1 (0.01μg/ml)</text>
<line x1="333.09999999999997" y1="502.84000000000003" x2="357.2" y2="502.84000000000003" stroke="#6cae4b" stroke-width="1.1"/>
<path d="M345.09999999999997 499.77150000000006L348.33 505.42400000000004L341.86999999999995 505.42400000000004Z" fill="#6cae4b"/>
<text x="361.4" y="505.69000000000005" font-size="9.8" text-anchor="start" fill="#231f20" textLength="84.2" lengthAdjust="spacingAndGlyphs">HSC + SR-1 (0.1μg/ml)</text>
<line x1="333.09999999999997" y1="516.96" x2="357.2" y2="516.96" stroke="#6a3b74" stroke-width="1.1"/>
<path d="M342.62999999999994 514.49L347.57 519.4300000000001M347.57 514.49L342.62999999999994 519.4300000000001" stroke="#6a3b74" stroke-width="1.3"/>
<text x="361.4" y="519.8100000000001" font-size="9.8" text-anchor="start" fill="#231f20" textLength="77.7" lengthAdjust="spacingAndGlyphs">HSC + SR-1 (1μg/ml)</text>
<line x1="333.09999999999997" y1="531.08" x2="357.2" y2="531.08" stroke="#e29a37" stroke-width="1.1"/>
<path d="M345.09999999999997 528.23L347.95 531.08L345.09999999999997 533.9300000000001L342.24999999999994 531.08Z" fill="none" stroke="#e29a37" stroke-width="1.1"/>
<text x="361.4" y="533.9300000000001" font-size="9.8" text-anchor="start" fill="#231f20" textLength="82.5" lengthAdjust="spacingAndGlyphs">HSC + SR-1 (10μg/ml)</text>
<line x1="333.09999999999997" y1="545.2" x2="357.2" y2="545.2" stroke="#3e7256" stroke-width="1.1"/>
<circle cx="345.09999999999997" cy="545.2" r="2.755" fill="none" stroke="#3e7256" stroke-width="1.1"/>
<text x="361.4" y="548.0500000000001" font-size="9.8" text-anchor="start" fill="#231f20" textLength="87.0" lengthAdjust="spacingAndGlyphs">HSC + SR-1 (100μg/ml)</text>
<text x="10.7" y="678.8" font-size="14.8" text-anchor="start" fill="#231f20" textLength="6.7" lengthAdjust="spacingAndGlyphs">E</text>
<line x1="70.25" y1="706" x2="70.25" y2="820.5" stroke="#231f20" stroke-width="1.3"/>
<line x1="69.4" y1="817" x2="248" y2="817" stroke="#231f20" stroke-width="1.3"/>
<line x1="66" y1="817.0" x2="70" y2="817.0" stroke="#231f20" stroke-width="1.2"/>
<text x="62" y="820.5" font-size="10" text-anchor="end" fill="#231f20">0</text>
<line x1="66" y1="795.64" x2="70" y2="795.64" stroke="#231f20" stroke-width="1.2"/>
<text x="62" y="799.14" font-size="10" text-anchor="end" fill="#231f20">20</text>
<line x1="66" y1="774.28" x2="70" y2="774.28" stroke="#231f20" stroke-width="1.2"/>
<text x="62" y="777.78" font-size="10" text-anchor="end" fill="#231f20">40</text>
<line x1="66" y1="752.92" x2="70" y2="752.92" stroke="#231f20" stroke-width="1.2"/>
<text x="62" y="756.42" font-size="10" text-anchor="end" fill="#231f20">60</text>
<line x1="66" y1="731.56" x2="70" y2="731.56" stroke="#231f20" stroke-width="1.2"/>
<text x="62" y="735.06" font-size="10" text-anchor="end" fill="#231f20">80</text>
<line x1="66" y1="710.2" x2="70" y2="710.2" stroke="#231f20" stroke-width="1.2"/>
<text x="62" y="713.7" font-size="10" text-anchor="end" fill="#231f20">100</text>
<line x1="70" y1="817" x2="70" y2="820.5" stroke="#231f20" stroke-width="1.2"/>
<line x1="113.5" y1="817" x2="113.5" y2="820.5" stroke="#231f20" stroke-width="1.2"/>
<line x1="157" y1="817" x2="157" y2="820.5" stroke="#231f20" stroke-width="1.2"/>
<line x1="200.5" y1="817" x2="200.5" y2="820.5" stroke="#231f20" stroke-width="1.2"/>
<line x1="244" y1="817" x2="244" y2="820.5" stroke="#231f20" stroke-width="1.2"/>
<text transform="translate(37.3,761.2) rotate(-90)" font-size="12" text-anchor="middle" fill="#231f20" textLength="44" lengthAdjust="spacingAndGlyphs">CFU-GM</text>
<line x1="92" y1="717.142" x2="92" y2="736.366" stroke="#222" stroke-width="1.1"/>
<line x1="88.0" y1="717.142" x2="96.0" y2="717.142" stroke="#222" stroke-width="1.1"/>
<line x1="88.0" y1="736.366" x2="96.0" y2="736.366" stroke="#222" stroke-width="1.1"/>
<circle cx="92" cy="726.754" r="3.4" fill="#a8243e"/>
<circle cx="135.5" cy="814.0096" r="3.2" fill="#a8243e"/>
<circle cx="179" cy="814.0096" r="3.2" fill="#a8243e"/>
<circle cx="222.8" cy="809.6308" r="3.2" fill="#a8243e"/>
<line x1="222.8" y1="807.0676" x2="222.8" y2="812.194" stroke="#3a2228" stroke-width="1.1"/>
<line x1="219.5" y1="807.0676" x2="226.10000000000002" y2="807.0676" stroke="#3a2228" stroke-width="1.1"/>
<line x1="219.5" y1="812.194" x2="226.10000000000002" y2="812.194" stroke="#3a2228" stroke-width="1.1"/>
<circle cx="135.5" cy="708.5" r="1.3" fill="#6a6a6a"/>
<circle cx="179" cy="708.5" r="1.3" fill="#6a6a6a"/>
<circle cx="223" cy="708.5" r="1.3" fill="#6a6a6a"/>
<text transform="translate(96.8,829.2) rotate(-45)" font-size="10.7" text-anchor="end" fill="#231f20" textLength="25.0" lengthAdjust="spacingAndGlyphs">No Tx</text>
<text transform="translate(140.3,829.2) rotate(-45)" font-size="10.7" text-anchor="end" fill="#231f20" textLength="61.1" lengthAdjust="spacingAndGlyphs">SR-1 10μg/mL</text>
<text transform="translate(183.8,829.2) rotate(-45)" font-size="10.7" text-anchor="end" fill="#231f20" textLength="55.9" lengthAdjust="spacingAndGlyphs">SR-1 1μg/mL</text>
<text transform="translate(227.3,829.2) rotate(-45)" font-size="10.7" text-anchor="end" fill="#231f20" textLength="63.7" lengthAdjust="spacingAndGlyphs">SR-1 0.1μg/mL</text>
<text x="268.8" y="722.9" font-size="10" text-anchor="start" fill="#231f20" textLength="44.1" lengthAdjust="spacingAndGlyphs">Untreated</text>
<text x="295.7" y="810.3" font-size="10" text-anchor="start" fill="#231f20" textLength="18" lengthAdjust="spacingAndGlyphs">SR-1</text>
<defs><linearGradient id="g1" x1="0" y1="0" x2="1" y2="0.9"><stop offset="0" stop-color="#bcbcba"/><stop offset="0.45" stop-color="#d3d3d1"/><stop offset="1" stop-color="#ebebe9"/></linearGradient><radialGradient id="g2" cx="0.5" cy="0.5" r="0.5"><stop offset="0" stop-color="#646462" stop-opacity="0.95"/><stop offset="0.45" stop-color="#6c6c6a" stop-opacity="0.65"/><stop offset="1" stop-color="#787876" stop-opacity="0"/></radialGradient><radialGradient id="g3" cx="0.5" cy="0.5" r="0.5"><stop offset="0" stop-color="#777672" stop-opacity="1"/><stop offset="0.55" stop-color="#868581" stop-opacity="0.9"/><stop offset="0.85" stop-color="#9a9995" stop-opacity="0.45"/><stop offset="1" stop-color="#a8a7a3" stop-opacity="0"/></radialGradient><clipPath id="c1"><rect x="321.4" y="679.3" width="79.6" height="74.0"/></clipPath><linearGradient id="g4" x1="0" y1="0" x2="1" y2="1"><stop offset="0" stop-color="#d0d0ce"/><stop offset="0.5" stop-color="#d8d8d6"/><stop offset="1" stop-color="#d6d6d4"/></linearGradient><filter id="bl" x="-5%" y="-5%" width="110%" height="110%"><feGaussianBlur stdDeviation="0.35"/></filter><clipPath id="c2"><rect x="321.4" y="769.6" width="79.6" height="73.9"/></clipPath></defs><g clip-path="url(#c1)"><rect x="321.4" y="679.3" width="79.6" height="74.0" fill="url(#g1)"/><ellipse cx="324.4" cy="756.3" rx="32" ry="31" fill="url(#g2)"/><ellipse cx="357.5" cy="701.5" rx="21.6" ry="17.28" transform="rotate(-8 357.5 701.5)" fill="url(#g3)" opacity="0.85"/><ellipse cx="370" cy="724" rx="18.36" ry="23.76" transform="rotate(-18 370 724)" fill="url(#g3)" opacity="0.85"/><ellipse cx="362.5" cy="713" rx="21.6" ry="25.92" transform="rotate(-20 362.5 713)" fill="url(#g3)" opacity="0.85"/><ellipse cx="344" cy="708" rx="7" ry="9" fill="url(#g3)" opacity="0.5"/><path d="M367.3 704.0h.7M379.5 707.6h.7M372.5 738.4h.7M360.1 704.0h.7M353.2 735.2h.7M373.1 733.1h.7M346.7 713.8h.7M369.4 689.7h.7M359.3 719.1h.7M363.4 686.1h.7M355.3 708.0h.7M342.8 712.7h.7M364.8 740.8h.7M379.6 696.8h.7M349.4 710.8h.7M366.8 691.8h.7M366.0 712.4h.7M359.7 719.9h.7M373.5 695.7h.7M361.1 707.5h.7M343.4 708.3h.7M361.5 688.1h.7M342.4 711.5h.7M362.8 698.0h.7M363.1 719.1h.7M365.4 705.8h.7M367.5 701.6h.7M342.9 698.5h.7M381.6 709.3h.7M355.0 706.4h.7M362.8 681.6h.7M373.6 728.3h.7M358.0 699.1h.7M375.3 741.0h.7M384.4 735.0h.7M361.4 724.0h.7M383.3 728.3h.7M357.3 695.7h.7M376.4 730.1h.7M349.7 705.0h.7M363.3 738.9h.7M375.2 707.8h.7M357.6 690.4h.7M370.1 738.4h.7M349.6 702.0h.7M368.6 708.0h.7M362.2 695.5h.7M343.2 701.6h.7M361.9 739.8h.7M378.6 712.0h.7M356.0 705.5h.7M366.2 693.9h.7M356.1 686.2h.7M378.8 714.7h.7M342.6 698.2h.7M364.6 694.3h.7M365.9 705.7h.7M338.2 709.5h.7M343.9 706.9h.7M378.9 742.5h.7M356.5 715.3h.7M354.9 721.8h.7M372.3 710.4h.7M341.6 715.6h.7M352.4 701.8h.7M354.4 717.5h.7M375.7 748.0h.7M365.6 691.9h.7M367.1 732.4h.7M378.7 725.6h.7M359.2 715.4h.7M376.5 733.6h.7M374.2 705.0h.7M370.3 710.4h.7M374.3 738.8h.7M364.2 719.3h.7M365.5 698.7h.7M376.8 722.7h.7M372.1 724.4h.7M383.9 732.5h.7M346.8 690.9h.7M347.0 704.7h.7M376.5 692.8h.7M338.7 709.0h.7M384.0 721.7h.7M360.4 706.7h.7M353.2 716.8h.7M345.7 693.9h.7M370.3 733.0h.7M357.5 718.3h.7M361.7 690.3h.7M356.4 687.8h.7M369.4 723.4h.7M354.1 720.6h.7M357.4 705.5h.7M353.7 685.2h.7M386.5 728.5h.7M340.1 702.0h.7M376.8 724.1h.7M380.9 715.1h.7M364.1 705.2h.7M350.0 699.3h.7M378.4 723.6h.7M347.4 712.5h.7M363.6 686.2h.7M366.9 687.5h.7M339.0 707.1h.7M358.7 725.4h.7M366.7 703.9h.7M364.2 717.9h.7M364.5 702.4h.7M366.8 722.8h.7M369.0 732.8h.7M373.1 698.4h.7M340.6 709.8h.7M345.4 723.1h.7M362.1 698.1h.7M352.0 710.2h.7M358.1 733.0h.7M338.7 715.0h.7M351.9 719.7h.7M371.9 704.0h.7M368.0 724.3h.7M356.6 729.6h.7M352.8 693.8h.7M349.9 707.2h.7M345.5 707.7h.7M335.7 691.8h.7M360.1 719.2h.7M363.0 701.7h.7M386.9 728.1h.7M352.0 705.9h.7M373.3 701.3h.7M366.1 694.9h.7M350.1 699.5h.7M334.9 694.7h.7M386.3 720.8h.7M362.2 697.2h.7M370.0 725.9h.7M374.1 748.3h.7M362.1 700.6h.7M354.4 740.8h.7M371.3 726.2h.7M335.8 707.9h.7M362.8 716.5h.7M366.0 733.8h.7M374.6 689.1h.7M364.3 725.6h.7M368.1 728.8h.7M361.4 689.8h.7M368.2 698.1h.7M371.8 719.8h.7M345.5 697.9h.7M351.8 687.3h.7M372.1 718.4h.7M350.7 709.6h.7M362.1 711.7h.7M385.1 732.2h.7M371.4 740.4h.7M367.0 706.8h.7M374.4 711.3h.7M352.0 710.0h.7M377.5 724.6h.7M353.5 715.9h.7M386.1 719.6h.7M347.0 700.2h.7M380.2 717.6h.7M382.8 714.8h.7M368.2 695.1h.7M365.6 714.1h.7M366.9 712.6h.7M371.7 719.8h.7M353.0 718.3h.7M350.0 712.4h.7M343.7 722.3h.7M364.3 731.4h.7M388.0 736.8h.7M335.8 703.4h.7M369.3 744.7h.7M366.1 700.1h.7M380.9 725.6h.7M368.5 744.1h.7M361.5 702.9h.7M358.8 709.8h.7M358.1 690.6h.7M373.9 707.8h.7M362.8 734.8h.7M359.0 734.4h.7M357.5 735.9h.7M362.3 710.6h.7M374.8 704.5h.7M358.2 712.1h.7M349.7 724.8h.7M358.0 728.8h.7M370.4 695.6h.7M356.9 727.3h.7M351.1 705.1h.7M357.3 717.3h.7M372.6 729.3h.7M358.6 730.4h.7M376.0 720.6h.7M374.1 745.3h.7M374.5 721.6h.7M362.8 738.2h.7M370.8 730.8h.7M351.0 706.4h.7M354.9 702.6h.7M368.9 732.1h.7M356.9 741.3h.7M344.4 710.7h.7M349.6 712.3h.7M352.2 723.3h.7M370.9 746.9h.7M349.6 716.6h.7M373.8 729.8h.7M379.9 738.1h.7M351.8 688.4h.7M351.2 702.6h.7M374.7 695.3h.7M365.5 733.4h.7M376.7 715.9h.7M357.8 704.0h.7M355.7 682.6h.7M362.6 683.1h.7M353.0 711.1h.7M348.1 712.6h.7M359.5 715.6h.7M339.0 709.4h.7M366.1 703.1h.7M369.2 726.8h.7M352.1 714.0h.7M363.6 693.5h.7M350.1 718.7h.7M367.8 742.8h.7M343.5 703.4h.7M359.7 697.2h.7M353.5 715.3h.7M381.7 726.0h.7M368.4 740.4h.7M359.8 690.7h.7M353.3 694.3h.7M354.8 699.5h.7M343.8 706.2h.7M352.6 714.1h.7M351.4 692.6h.7M345.1 707.9h.7M350.0 710.6h.7M381.2 742.2h.7M350.9 705.7h.7M361.6 710.0h.7M357.4 717.5h.7M350.2 688.0h.7M363.4 706.1h.7M359.7 729.4h.7M364.5 728.4h.7M358.3 706.8h.7M370.1 737.0h.7M381.3 701.3h.7M377.7 744.0h.7M342.9 707.0h.7M387.0 730.8h.7M381.0 695.6h.7M339.6 708.7h.7M377.9 737.1h.7M374.3 700.5h.7M339.8 708.0h.7M387.5 721.8h.7M360.3 722.8h.7M363.6 714.6h.7M340.3 715.3h.7M342.2 698.9h.7M366.1 712.0h.7M362.4 709.9h.7M359.6 725.7h.7M350.7 714.8h.7M372.7 742.7h.7M359.5 737.7h.7M357.8 707.0h.7M338.5 701.5h.7M354.8 716.3h.7M369.1 729.6h.7M369.4 695.3h.7M364.1 708.3h.7M383.1 735.5h.7M362.6 681.5h.7M360.9 732.5h.7M348.6 710.3h.7M379.6 743.4h.7M333.8 705.7h.7M363.0 713.7h.7M359.2 687.1h.7M352.8 736.5h.7M354.9 708.6h.7M382.1 727.4h.7M381.7 723.8h.7M367.2 684.3h.7M366.8 713.8h.7M362.8 737.0h.7M358.9 712.3h.7M375.5 719.6h.7M349.4 694.6h.7M338.2 702.1h.7M365.7 735.0h.7M385.0 722.0h.7M352.1 699.5h.7M350.9 729.6h.7M355.0 719.8h.7M363.2 728.2h.7M385.8 731.8h.7M356.7 729.5h.7M373.3 735.9h.7M353.5 692.9h.7M349.1 703.0h.7M386.0 726.6h.7M381.1 719.9h.7M357.7 694.6h.7M371.2 730.8h.7M377.8 710.1h.7M376.5 687.7h.7M377.7 740.6h.7M371.6 728.7h.7M350.2 708.4h.7M386.8 713.6h.7M374.3 693.8h.7M345.8 709.8h.7M347.6 719.4h.7M380.5 716.3h.7M369.5 708.9h.7M342.4 711.1h.7M374.4 704.8h.7M347.5 709.9h.7M356.4 711.4h.7M352.1 728.2h.7M370.6 732.4h.7M369.2 700.7h.7M364.8 691.9h.7M367.7 703.1h.7M367.8 713.9h.7M351.2 689.2h.7M348.6 693.7h.7M361.2 716.6h.7M374.4 711.6h.7M357.5 709.7h.7M358.5 690.8h.7M376.8 720.8h.7M383.4 705.9h.7M382.8 739.2h.7M348.9 695.0h.7M369.0 701.6h.7M342.3 694.6h.7M372.4 700.0h.7M359.7 728.3h.7M354.0 705.0h.7M349.2 705.2h.7M360.0 705.3h.7M346.6 703.3h.7M355.3 703.4h.7M359.7 697.4h.7M347.5 726.1h.7M365.4 723.3h.7M366.2 690.4h.7M377.0 732.9h.7M348.4 719.9h.7M383.7 731.1h.7M367.2 729.0h.7M361.4 735.5h.7M355.9 690.6h.7M337.1 710.0h.7M351.3 730.2h.7M341.3 710.6h.7M371.6 720.3h.7M359.1 694.6h.7M374.4 733.2h.7M361.0 732.1h.7M373.5 696.0h.7M386.3 729.9h.7M343.9 696.3h.7M375.0 745.0h.7M374.0 686.0h.7M361.3 721.0h.7M366.6 705.9h.7M379.1 716.5h.7M360.5 708.0h.7M343.6 708.9h.7M379.2 704.0h.7M364.9 697.4h.7M360.1 686.0h.7M379.3 709.9h.7M372.6 738.1h.7M366.5 710.6h.7M347.5 710.2h.7M348.8 688.8h.7M363.3 713.1h.7M345.6 711.1h.7M376.8 729.5h.7M366.1 739.4h.7M361.9 715.3h.7M363.5 712.4h.7M379.8 716.2h.7M372.4 734.4h.7M365.7 728.0h.7M366.7 708.7h.7M352.5 697.1h.7M347.6 705.5h.7M359.6 705.3h.7M383.7 725.2h.7M349.3 696.8h.7M359.2 690.7h.7M363.1 707.8h.7M380.2 720.3h.7M379.0 718.8h.7M356.0 725.3h.7M349.6 705.3h.7M347.9 698.6h.7M359.8 719.1h.7M348.7 711.5h.7M386.4 712.1h.7M370.2 721.3h.7M377.1 718.5h.7M380.8 705.0h.7M345.9 714.0h.7M351.6 688.1h.7M369.1 699.6h.7M387.6 730.8h.7M361.8 735.3h.7M353.1 710.8h.7M363.5 710.1h.7M356.6 719.5h.7M364.6 735.6h.7M365.4 716.5h.7M341.6 708.4h.7M366.7 704.3h.7M347.8 710.6h.7M341.1 700.6h.7M356.9 717.2h.7M366.9 699.9h.7M365.3 696.1h.7M362.6 734.4h.7M355.8 738.7h.7M363.3 702.1h.7M375.8 704.0h.7M351.3 696.0h.7M370.6 740.5h.7M361.6 697.4h.7M383.7 725.9h.7M346.0 699.8h.7M364.1 697.2h.7M358.7 711.4h.7M369.6 705.2h.7M354.7 737.7h.7M349.8 708.7h.7M374.7 731.7h.7M360.3 706.9h.7M362.9 719.0h.7M368.1 716.1h.7M376.3 704.5h.7M371.1 743.3h.7M353.4 705.5h.7M356.7 719.2h.7M375.6 712.5h.7M354.1 697.3h.7M363.8 705.6h.7M346.4 699.0h.7M340.2 703.1h.7M340.7 703.5h.7M348.0 694.6h.7M339.4 706.6h.7M347.9 701.9h.7M368.4 700.3h.7M351.6 735.8h.7M349.2 694.2h.7M357.8 691.5h.7M371.5 740.6h.7M349.8 707.4h.7M341.0 716.0h.7M376.4 736.6h.7M366.4 715.8h.7M365.4 688.8h.7M370.2 724.8h.7M383.6 714.6h.7M374.2 702.9h.7M368.4 725.5h.7M375.0 693.2h.7M357.9 715.2h.7M382.8 703.2h.7M365.2 711.2h.7M367.0 700.7h.7M382.4 729.3h.7M378.5 731.5h.7M344.3 691.5h.7M358.8 697.4h.7M344.4 714.5h.7M350.2 700.5h.7M368.5 694.1h.7M376.9 750.5h.7M382.6 703.8h.7M379.0 709.5h.7M372.3 698.4h.7M379.6 704.8h.7M371.5 708.0h.7M351.0 701.3h.7M365.7 715.4h.7M352.3 730.1h.7M382.5 704.0h.7M366.6 691.0h.7M366.5 695.4h.7M365.1 722.3h.7M352.1 694.6h.7M344.8 709.0h.7M360.0 737.3h.7M342.5 706.9h.7M341.8 701.0h.7M382.2 706.5h.7M367.3 707.2h.7M354.1 698.7h.7M365.9 715.3h.7M361.0 736.5h.7M362.1 698.4h.7M366.5 697.8h.7M349.0 687.7h.7M353.4 698.7h.7M363.8 732.5h.7M387.5 722.6h.7M359.1 717.1h.7M372.0 737.4h.7M379.6 721.7h.7M375.4 721.9h.7M372.8 743.7h.7M386.4 732.9h.7M341.1 714.3h.7M347.9 706.0h.7M362.1 730.2h.7M376.0 704.4h.7M354.0 701.7h.7M363.8 703.7h.7M360.2 708.7h.7M381.5 740.2h.7M349.3 697.3h.7M348.7 727.6h.7M348.1 697.1h.7M376.5 690.8h.7M350.2 693.3h.7M372.5 702.2h.7M374.9 711.1h.7M355.7 711.1h.7M389.1 734.9h.7M374.3 738.6h.7M351.0 689.8h.7M370.2 738.8h.7M350.2 693.8h.7M375.7 706.0h.7M369.4 712.0h.7M366.0 720.1h.7M366.4 710.5h.7M373.1 723.9h.7M339.2 700.4h.7M352.3 697.9h.7M358.3 714.6h.7M370.7 705.8h.7M369.6 708.7h.7M376.1 705.0h.7M364.9 700.8h.7M382.8 708.2h.7M369.8 725.2h.7M351.3 709.7h.7M346.7 717.9h.7M361.8 697.4h.7M368.0 702.3h.7M343.1 691.6h.7M387.3 729.5h.7M374.1 720.2h.7M374.4 717.3h.7M364.0 707.2h.7M374.3 703.2h.7M345.5 701.2h.7M370.2 729.7h.7M360.7 732.1h.7M377.5 725.5h.7M371.9 733.2h.7M360.5 709.3h.7M343.0 703.9h.7M355.1 712.8h.7M359.7 731.7h.7M369.9 711.6h.7M340.3 696.1h.7M364.2 707.9h.7M362.4 716.3h.7M376.3 697.8h.7M341.2 708.5h.7M349.7 688.2h.7M368.8 709.4h.7M351.5 699.6h.7M348.6 694.4h.7M359.3 716.6h.7M353.6 690.6h.7M370.7 696.1h.7M345.0 700.3h.7M364.1 719.2h.7M349.6 691.1h.7M375.6 744.3h.7M384.5 742.7h.7M356.6 710.0h.7M362.0 695.3h.7M361.2 708.6h.7M367.7 727.7h.7M367.3 721.8h.7M363.5 728.6h.7M365.0 689.3h.7M348.9 712.1h.7M364.3 715.6h.7M344.3 713.6h.7M347.1 708.8h.7M366.1 688.4h.7M371.9 695.8h.7M339.3 722.8h.7M372.0 729.3h.7M385.4 719.5h.7M337.1 708.6h.7M363.3 742.3h.7M370.9 703.9h.7M349.0 718.5h.7M361.3 714.7h.7M344.2 711.1h.7M360.8 739.1h.7M372.0 711.6h.7M377.3 728.1h.7M378.9 735.9h.7M365.6 700.3h.7M364.6 696.9h.7M366.6 735.1h.7M372.9 705.6h.7M368.3 707.7h.7M353.5 686.3h.7M367.2 690.2h.7M348.8 706.2h.7M385.4 729.4h.7M350.8 701.4h.7M341.5 710.3h.7M363.5 721.3h.7M357.6 698.5h.7M346.7 711.3h.7M352.6 708.7h.7M346.3 704.2h.7M373.5 702.0h.7M346.8 699.7h.7M369.6 748.5h.7M347.0 693.7h.7M369.9 688.8h.7M365.9 707.3h.7M366.7 714.7h.7M372.0 740.8h.7M339.3 700.4h.7M365.9 703.1h.7M357.4 719.0h.7M388.1 729.8h.7M341.2 701.2h.7M355.6 701.6h.7M337.5 710.4h.7M343.4 710.8h.7M371.8 706.8h.7M358.4 733.4h.7M344.5 699.7h.7M370.9 693.5h.7M356.9 713.2h.7M378.2 709.8h.7M357.8 722.7h.7M366.6 698.0h.7M350.6 733.2h.7M388.8 720.1h.7M365.1 734.3h.7M365.8 691.8h.7M383.6 732.8h.7M367.9 701.3h.7M361.0 705.3h.7M374.1 702.0h.7M365.5 701.1h.7M366.1 721.7h.7M366.1 715.1h.7M359.8 720.8h.7M350.5 705.1h.7M362.7 685.8h.7M391.7 730.1h.7M362.7 689.0h.7M365.6 724.6h.7M343.9 712.4h.7M340.6 711.1h.7M376.9 703.5h.7M379.9 741.2h.7M363.4 690.1h.7M360.3 703.2h.7M359.4 705.8h.7M371.1 694.8h.7M366.2 724.0h.7M356.2 700.4h.7M373.6 706.3h.7M352.5 709.1h.7M376.7 687.8h.7M358.1 717.4h.7M353.7 686.7h.7M375.3 696.5h.7M341.9 717.1h.7M345.4 712.1h.7M353.4 690.1h.7M364.9 736.8h.7M346.1 711.9h.7M358.7 706.3h.7M352.6 709.6h.7M370.0 744.0h.7M361.3 692.9h.7M362.1 724.1h.7M368.4 706.9h.7M368.2 701.7h.7M380.6 714.7h.7M383.3 699.0h.7M369.4 702.9h.7M378.6 716.2h.7M367.9 702.7h.7M376.9 714.4h.7M360.0 714.4h.7M373.7 738.9h.7M380.9 705.2h.7M354.4 728.1h.7M373.0 702.7h.7M373.0 706.4h.7M375.5 715.3h.7M356.8 722.4h.7M344.9 710.5h.7M350.4 706.1h.7M337.3 712.4h.7M345.1 710.4h.7M369.4 711.4h.7M381.5 715.5h.7M366.9 726.1h.7M344.5 714.2h.7M338.7 702.1h.7M355.3 730.8h.7M375.0 715.6h.7M362.3 741.0h.7M368.3 691.4h.7M361.4 692.6h.7M352.7 704.4h.7M379.2 733.5h.7M356.4 722.6h.7M353.9 708.5h.7M368.3 701.2h.7M342.3 710.1h.7M360.3 726.0h.7M362.2 694.4h.7M378.6 689.3h.7M360.1 731.9h.7M372.7 693.3h.7M352.0 703.0h.7M369.9 731.6h.7M354.6 704.7h.7M375.2 717.2h.7M363.0 693.5h.7M344.4 692.5h.7M372.6 699.3h.7M350.4 708.9h.7M374.7 702.3h.7M354.1 707.6h.7M373.7 704.3h.7M357.1 710.9h.7M378.3 702.0h.7M343.6 693.8h.7M362.9 719.3h.7M379.8 716.4h.7M338.1 713.9h.7M354.0 704.6h.7M360.9 740.2h.7M358.7 734.8h.7M357.3 713.8h.7M364.9 687.7h.7M373.5 709.4h.7M370.7 706.9h.7M374.0 733.7h.7M355.9 701.4h.7M339.3 704.7h.7M368.8 709.6h.7M369.7 706.5h.7M372.9 732.1h.7M348.7 702.4h.7M387.7 717.3h.7M371.8 714.9h.7M343.9 704.5h.7M366.1 709.8h.7M378.2 718.9h.7M359.3 729.6h.7M366.3 697.1h.7M353.4 732.2h.7M367.2 711.5h.7M382.9 740.9h.7M347.0 706.5h.7M354.9 708.5h.7M374.3 710.0h.7M378.1 702.0h.7M370.6 709.6h.7M355.9 705.0h.7M360.7 701.3h.7M350.9 702.4h.7M369.7 718.1h.7M364.5 722.7h.7M344.6 705.0h.7M365.4 707.5h.7M344.6 706.5h.7M384.9 738.9h.7M380.5 730.5h.7M364.8 740.4h.7M343.3 693.1h.7M366.4 742.7h.7M367.4 691.1h.7M349.9 719.7h.7M357.4 700.7h.7M354.3 717.4h.7M367.9 727.3h.7M357.5 727.9h.7M359.0 716.7h.7M343.8 716.6h.7M384.6 721.5h.7M367.2 717.0h.7M354.7 733.6h.7M343.2 702.4h.7M358.6 686.6h.7M369.3 706.5h.7M351.9 720.2h.7M359.0 708.4h.7M339.6 702.8h.7M343.5 716.7h.7M361.8 705.3h.7M351.9 713.0h.7M374.2 696.5h.7M343.2 714.8h.7M363.0 702.0h.7M357.1 716.3h.7M381.8 717.9h.7M344.4 719.3h.7M345.7 691.8h.7M365.4 724.9h.7M379.9 721.3h.7M382.0 738.4h.7M368.5 730.4h.7M358.0 714.9h.7M371.9 706.8h.7M355.6 737.8h.7M376.8 709.4h.7M356.8 695.6h.7M348.0 722.0h.7M347.8 711.7h.7M375.6 723.2h.7M370.4 732.6h.7M379.5 715.2h.7M363.6 727.6h.7M348.6 713.6h.7M350.3 709.5h.7M381.2 718.9h.7M344.0 709.4h.7M349.8 709.4h.7M359.7 701.2h.7M375.9 713.6h.7M365.0 747.6h.7M332.4 704.5h.7M365.1 727.1h.7M362.1 707.9h.7M360.6 709.1h.7M367.7 735.3h.7M346.4 690.2h.7M372.5 720.7h.7M368.2 732.2h.7M360.2 711.4h.7M363.8 725.3h.7M340.8 700.9h.7M379.9 732.7h.7M375.5 693.9h.7M348.7 705.5h.7M376.8 719.4h.7M347.2 705.9h.7M356.1 692.1h.7M346.8 699.2h.7M374.2 699.3h.7M366.7 703.1h.7M357.2 695.5h.7M353.0 714.1h.7M355.2 711.9h.7M360.4 687.4h.7M362.0 728.8h.7M371.1 744.5h.7M347.6 701.1h.7M365.9 742.8h.7M373.4 715.5h.7M361.2 700.0h.7M362.3 712.1h.7M362.9 714.3h.7M350.4 716.4h.7M370.6 713.9h.7M350.6 704.7h.7M375.9 695.1h.7M372.4 728.4h.7M361.3 710.2h.7M345.7 691.5h.7M361.4 697.5h.7M344.8 693.2h.7M380.1 695.2h.7M339.7 703.2h.7M351.5 704.5h.7M363.3 704.7h.7M353.2 711.9h.7M340.9 702.3h.7M379.8 708.1h.7M351.8 693.6h.7M379.1 737.7h.7M374.7 717.8h.7M371.7 721.5h.7M337.4 690.1h.7M373.3 734.4h.7M365.5 706.6h.7M349.8 709.1h.7M354.5 697.4h.7M381.3 712.3h.7M343.3 698.7h.7M377.1 746.9h.7M389.0 736.3h.7M345.9 716.1h.7M370.6 725.9h.7M354.6 728.5h.7M363.0 702.0h.7M345.4 716.9h.7M356.6 695.9h.7M342.0 716.3h.7M356.2 734.4h.7M363.4 713.1h.7M371.8 736.9h.7M373.2 737.7h.7M389.2 720.3h.7M375.2 724.1h.7M352.7 704.1h.7M376.8 731.7h.7M342.6 705.7h.7M344.8 699.2h.7M370.5 709.2h.7M377.1 709.9h.7M378.6 741.0h.7M366.3 697.9h.7M342.5 710.4h.7M351.8 705.5h.7M382.2 703.9h.7M380.0 704.3h.7M345.9 706.3h.7M360.9 731.8h.7M358.7 700.0h.7M355.9 727.7h.7M370.1 692.8h.7M355.1 721.0h.7M355.4 697.3h.7M362.2 722.9h.7M367.2 691.1h.7M372.8 740.1h.7M358.9 732.1h.7M341.3 698.5h.7M362.1 690.3h.7M348.6 711.2h.7M350.3 714.6h.7M374.0 696.6h.7M363.4 730.8h.7M347.7 692.9h.7M350.9 689.8h.7M353.9 736.8h.7M345.0 691.9h.7M380.5 741.3h.7M374.7 698.8h.7M382.7 727.3h.7M361.3 684.0h.7M338.6 712.6h.7M380.0 710.3h.7M367.5 731.9h.7M357.2 712.2h.7M360.0 695.5h.7M345.5 711.9h.7M379.3 720.0h.7M363.7 710.3h.7M351.7 699.3h.7M366.4 697.1h.7M340.1 710.2h.7M372.1 693.8h.7M352.8 719.4h.7M332.9 697.6h.7M379.4 702.6h.7M347.5 695.4h.7M348.1 702.4h.7M358.6 702.9h.7M374.3 707.7h.7M371.6 711.7h.7M382.1 734.9h.7M363.9 708.1h.7M364.0 704.7h.7M372.7 692.6h.7M341.7 704.6h.7M363.8 711.7h.7M360.3 703.7h.7M385.1 731.9h.7M369.1 699.0h.7M338.7 697.9h.7M363.9 708.6h.7M342.7 711.2h.7M347.5 699.3h.7M373.1 702.9h.7M352.0 693.4h.7M347.2 716.7h.7M370.4 691.7h.7M348.9 715.4h.7M364.0 690.7h.7M349.2 721.3h.7M361.6 699.7h.7M380.1 738.3h.7M345.1 724.0h.7M348.5 703.3h.7M360.1 721.8h.7M353.5 714.8h.7M350.7 699.4h.7M376.4 704.9h.7M370.1 694.3h.7M386.6 722.0h.7M344.5 712.0h.7M348.9 722.6h.7M361.5 689.0h.7M373.1 711.8h.7M376.7 720.3h.7M375.5 700.9h.7M349.8 702.3h.7M341.5 693.4h.7M382.3 719.3h.7M378.3 741.0h.7M353.1 705.4h.7M369.2 742.2h.7M371.2 720.9h.7M353.3 718.3h.7M368.2 705.0h.7M357.1 698.5h.7M371.5 705.3h.7M373.1 704.6h.7M364.5 722.7h.7M373.3 715.0h.7M366.5 717.8h.7M368.7 710.9h.7M374.2 733.1h.7M347.3 693.3h.7M350.4 694.9h.7M344.1 713.4h.7M372.7 692.6h.7M367.5 709.9h.7M352.5 711.6h.7M385.4 704.6h.7M367.5 722.6h.7M344.2 700.7h.7M352.8 717.8h.7M354.0 711.4h.7M342.7 716.3h.7M352.8 692.9h.7M338.8 709.4h.7M347.3 705.3h.7M358.1 690.0h.7M355.7 702.9h.7M357.0 710.4h.7M348.5 719.5h.7M360.1 701.6h.7M349.9 705.5h.7M350.5 697.7h.7M372.5 708.8h.7M345.4 713.7h.7M344.8 695.4h.7M375.9 710.9h.7M342.9 713.6h.7M370.7 703.0h.7M378.7 720.3h.7M373.2 741.2h.7M355.7 694.7h.7M373.8 725.0h.7M340.2 695.4h.7M343.7 700.7h.7M376.9 713.6h.7M380.5 705.9h.7M356.1 740.9h.7M337.6 710.4h.7M354.5 690.6h.7M337.9 700.6h.7M368.7 706.0h.7M368.7 686.3h.7M374.5 748.4h.7M370.3 715.4h.7M384.9 704.0h.7" stroke="#595854" stroke-width="0.7" opacity="0.5"/><path d="M382.6 719.4h.7M376.9 717.6h.7M364.7 697.5h.7M341.2 702.6h.7M362.1 697.8h.7M346.5 694.7h.7M340.7 705.9h.7M381.0 718.4h.7M377.3 715.3h.7M360.5 719.9h.7M360.5 686.3h.7M369.6 740.8h.7M371.9 717.1h.7M346.3 690.6h.7M347.5 693.1h.7M365.9 695.4h.7M380.2 719.4h.7M357.5 728.2h.7M357.7 715.4h.7M365.5 712.3h.7M375.6 728.6h.7M368.7 727.3h.7M367.1 706.7h.7M347.8 714.6h.7M364.3 729.2h.7M345.3 714.1h.7M376.6 707.5h.7M340.7 705.8h.7M377.7 717.2h.7M365.0 708.4h.7M366.4 711.7h.7M363.9 742.2h.7M371.1 709.6h.7M357.6 693.1h.7M347.4 699.9h.7M371.9 713.4h.7M362.7 728.8h.7M360.3 709.9h.7M381.6 715.7h.7M361.2 690.9h.7M375.2 721.4h.7M346.5 712.8h.7M374.9 707.6h.7M344.9 711.8h.7M353.9 694.3h.7M367.8 686.6h.7M351.2 687.7h.7M345.4 710.2h.7M353.5 715.9h.7M382.2 720.2h.7M370.9 731.7h.7M364.8 729.0h.7M344.6 700.6h.7M357.5 726.9h.7M362.4 728.0h.7M342.7 702.6h.7M385.7 721.5h.7M352.0 713.7h.7M359.8 685.7h.7M375.7 740.7h.7M374.4 723.9h.7M351.0 687.5h.7M343.8 713.6h.7M382.1 714.8h.7M383.1 712.3h.7M368.9 691.5h.7M366.8 715.4h.7M344.3 710.7h.7M359.1 731.8h.7M364.9 707.5h.7M341.2 701.8h.7M357.8 700.9h.7M337.1 700.5h.7M371.5 729.5h.7M377.5 742.4h.7M346.3 700.4h.7M381.2 709.8h.7M353.7 701.0h.7M356.3 734.6h.7M374.5 713.5h.7M364.5 734.8h.7M344.5 713.9h.7M365.5 714.5h.7M353.6 707.5h.7M366.0 694.8h.7M384.6 721.7h.7M365.4 742.6h.7M362.5 711.6h.7M351.2 705.6h.7M349.0 696.3h.7M366.8 708.8h.7M368.2 725.0h.7M376.9 734.5h.7M354.6 716.7h.7M380.1 721.7h.7M373.0 706.2h.7M367.1 697.1h.7M355.8 698.1h.7M369.4 709.3h.7M342.4 714.5h.7M363.8 698.6h.7M347.7 693.3h.7M356.8 688.8h.7M355.8 727.7h.7M353.1 691.7h.7M365.5 709.7h.7M365.4 700.0h.7M382.8 701.0h.7M368.8 708.4h.7M360.8 726.4h.7M359.4 709.4h.7M354.3 714.9h.7M376.7 736.0h.7M358.2 708.7h.7M351.6 696.9h.7M378.1 706.1h.7M376.7 712.3h.7M370.1 717.2h.7M356.3 690.5h.7M350.3 699.7h.7M373.4 706.7h.7M382.0 711.5h.7M366.7 689.8h.7M354.7 728.1h.7M351.8 722.3h.7M353.6 731.5h.7M378.1 740.5h.7M371.5 714.2h.7M350.0 709.1h.7M363.5 700.9h.7M369.1 713.0h.7M347.9 702.9h.7M354.8 702.4h.7M382.3 695.7h.7M373.5 733.7h.7M385.6 736.2h.7M376.0 700.8h.7M357.5 699.6h.7M337.7 711.0h.7M374.1 700.8h.7M335.4 693.3h.7M376.8 750.1h.7M372.8 744.1h.7M346.0 709.6h.7M340.4 706.4h.7M364.0 689.1h.7M370.1 734.2h.7M346.2 711.1h.7M364.0 711.6h.7M347.2 706.2h.7M352.9 692.0h.7M339.3 701.7h.7M348.3 716.1h.7M366.6 689.4h.7M366.7 696.9h.7M360.4 718.3h.7M360.9 729.5h.7M338.8 701.7h.7M353.9 697.5h.7M360.6 691.0h.7M353.8 735.2h.7M367.1 708.2h.7M347.0 695.5h.7M359.6 733.5h.7M376.0 709.4h.7M362.7 716.5h.7M379.7 692.3h.7M364.3 692.9h.7M373.7 712.4h.7M349.6 713.7h.7M362.7 695.1h.7M354.4 703.9h.7M344.3 701.2h.7M362.9 686.6h.7M371.0 693.3h.7M361.9 745.5h.7M353.0 717.2h.7M383.9 731.9h.7M342.0 711.5h.7M362.8 723.1h.7M363.1 715.9h.7M377.3 706.0h.7M372.0 731.4h.7M372.4 691.4h.7M376.5 695.4h.7M375.6 703.3h.7M369.9 714.4h.7M371.1 716.1h.7M357.6 692.8h.7M363.6 718.4h.7M374.1 708.1h.7M354.1 739.0h.7M385.6 730.6h.7M352.3 699.6h.7M348.3 715.2h.7M371.9 728.8h.7M354.2 713.8h.7M366.0 721.2h.7M350.2 713.2h.7M361.4 724.4h.7M353.4 709.4h.7M354.1 709.3h.7M368.8 707.4h.7M377.1 739.6h.7M358.9 723.7h.7M371.0 743.7h.7M341.5 706.9h.7M345.8 710.3h.7M363.2 700.7h.7M342.4 697.4h.7M346.2 717.3h.7M359.3 735.4h.7M362.9 737.6h.7M384.8 712.2h.7M365.8 702.4h.7M345.8 690.7h.7M362.6 710.6h.7M367.6 726.1h.7M346.0 710.8h.7M371.8 727.9h.7M346.8 719.0h.7M380.8 719.2h.7M372.5 695.0h.7M367.0 719.0h.7M371.9 715.7h.7M357.6 698.1h.7M361.3 732.4h.7M368.2 700.9h.7M359.6 692.8h.7M366.9 708.1h.7M346.9 689.8h.7M370.9 741.9h.7M372.9 727.0h.7M356.6 706.5h.7M370.1 728.4h.7M356.0 705.3h.7M356.8 691.6h.7M380.3 731.3h.7M361.6 734.1h.7M358.4 694.5h.7M366.1 710.8h.7M360.4 739.1h.7M361.1 693.4h.7M348.6 694.4h.7M353.9 719.2h.7M340.0 698.1h.7M361.2 702.3h.7M349.2 710.9h.7M352.0 700.8h.7M357.9 710.8h.7M352.2 716.0h.7M361.9 711.3h.7M363.8 690.8h.7M376.5 700.4h.7M379.6 718.3h.7M360.1 711.8h.7M355.8 713.9h.7M349.2 691.8h.7M349.1 728.8h.7M365.3 734.0h.7M360.2 694.5h.7M382.1 710.4h.7M354.3 714.3h.7M379.4 713.6h.7M358.0 702.4h.7M358.0 726.8h.7M369.9 711.0h.7M374.6 698.5h.7M361.4 694.5h.7M358.0 711.3h.7M368.6 733.8h.7M348.1 713.8h.7M376.6 720.0h.7M381.5 735.9h.7M385.2 715.6h.7M362.2 710.1h.7M364.1 687.3h.7M361.4 699.3h.7M348.3 710.8h.7M362.0 696.6h.7M363.8 689.6h.7M368.1 700.6h.7M374.9 711.5h.7M351.1 705.4h.7M368.0 718.7h.7M375.8 744.8h.7M361.4 709.2h.7M350.0 705.6h.7M365.6 715.4h.7M374.6 724.9h.7M370.7 694.1h.7M366.9 705.4h.7M353.9 706.3h.7M365.3 742.2h.7M383.8 714.3h.7M350.1 696.7h.7M364.8 742.5h.7M339.9 702.2h.7M340.5 710.1h.7M362.2 734.7h.7M346.5 709.9h.7M342.0 711.4h.7M380.2 725.6h.7M341.6 713.5h.7M358.6 730.0h.7M384.0 728.3h.7M358.2 702.0h.7M375.8 721.3h.7M373.1 728.8h.7M375.6 722.6h.7M364.4 732.2h.7M346.5 707.8h.7M380.8 720.3h.7M364.8 702.9h.7M361.9 683.6h.7M370.4 684.9h.7M368.6 720.1h.7M379.5 726.5h.7M353.3 708.1h.7M351.4 704.7h.7M378.3 744.5h.7M349.5 705.2h.7M352.7 710.0h.7M345.7 710.9h.7M365.3 709.3h.7M360.1 723.0h.7M367.3 743.1h.7M366.9 710.9h.7M345.7 697.2h.7M351.1 686.5h.7M380.4 706.2h.7M368.5 730.1h.7M378.3 700.1h.7M371.5 730.5h.7M386.2 705.5h.7M379.9 719.8h.7M340.2 715.3h.7M368.3 697.1h.7M357.5 707.0h.7M375.5 720.0h.7M356.3 712.6h.7M366.4 711.7h.7M357.6 698.9h.7M350.7 690.8h.7M351.5 721.3h.7M372.0 730.0h.7M385.6 722.8h.7M355.2 714.7h.7M362.2 705.8h.7M334.1 699.7h.7M378.9 695.1h.7M348.1 712.7h.7M366.5 718.7h.7M347.1 702.6h.7M361.0 735.1h.7M379.6 697.0h.7M373.6 720.4h.7M363.4 743.6h.7M345.9 709.0h.7M341.0 711.4h.7M338.8 709.9h.7M364.8 727.3h.7M377.7 713.9h.7M381.7 723.1h.7M357.8 690.9h.7M342.9 687.4h.7M347.7 698.3h.7M383.6 741.0h.7M387.0 727.6h.7M353.6 722.3h.7M361.1 700.7h.7M358.1 732.4h.7M364.2 718.0h.7M343.5 693.1h.7M364.1 723.8h.7M355.8 692.3h.7M363.6 705.1h.7M369.6 721.7h.7M355.3 698.7h.7M342.2 709.2h.7M367.4 714.3h.7M364.7 692.6h.7M346.9 718.3h.7M361.8 697.2h.7M361.1 730.8h.7M362.1 715.0h.7M368.8 701.6h.7M356.9 698.3h.7M342.5 711.9h.7M342.0 702.8h.7M372.3 698.2h.7M357.8 715.1h.7M343.1 701.9h.7M349.1 713.3h.7M371.2 693.8h.7M367.7 740.6h.7M365.4 702.6h.7M381.1 716.5h.7M388.8 713.8h.7M360.6 698.2h.7M376.3 715.8h.7M364.0 715.2h.7M364.8 702.4h.7M351.9 716.3h.7M374.2 703.9h.7M352.2 701.7h.7M380.5 742.8h.7M371.1 728.9h.7M362.2 700.4h.7M346.8 717.7h.7M374.1 716.7h.7" stroke="#cfcec9" stroke-width="0.7" opacity="0.55"/></g><rect x="321.4" y="679.3" width="79.6" height="74.0" fill="none" stroke="#4a4a4a" stroke-width="1"/>
<g clip-path="url(#c2)"><rect x="321.4" y="769.6" width="79.6" height="73.9" fill="url(#g4)"/><g fill="#eeebd3" stroke="#85826f" stroke-width="0.5" opacity="0.92" filter="url(#bl)"><circle cx="367.2" cy="797.9" r="1.10"/><circle cx="358.0" cy="805.5" r="1.01"/><circle cx="353.6" cy="798.0" r="1.16"/><circle cx="368.7" cy="799.5" r="1.19"/><circle cx="358.2" cy="796.3" r="1.26"/><circle cx="365.3" cy="801.0" r="1.24"/><circle cx="365.3" cy="802.2" r="1.29"/><circle cx="377.0" cy="800.6" r="1.29"/><circle cx="350.9" cy="804.1" r="1.20"/><circle cx="364.3" cy="804.4" r="1.05"/><circle cx="353.3" cy="810.5" r="1.14"/><circle cx="364.1" cy="803.1" r="0.98"/><circle cx="353.5" cy="806.4" r="1.15"/><circle cx="363.9" cy="811.9" r="1.06"/><circle cx="361.5" cy="795.5" r="1.14"/><circle cx="365.2" cy="797.6" r="1.21"/><circle cx="367.1" cy="796.5" r="0.97"/><circle cx="363.4" cy="801.9" r="1.26"/><circle cx="364.1" cy="800.1" r="0.96"/><circle cx="358.8" cy="803.0" r="1.12"/><circle cx="360.4" cy="804.3" r="1.03"/><circle cx="362.5" cy="789.2" r="0.96"/><circle cx="363.9" cy="812.1" r="1.12"/><circle cx="366.4" cy="807.1" r="1.04"/><circle cx="367.4" cy="800.4" r="0.98"/><circle cx="355.3" cy="808.5" r="1.24"/><circle cx="371.5" cy="806.9" r="1.04"/><circle cx="367.2" cy="805.9" r="1.28"/><circle cx="364.1" cy="805.1" r="1.16"/><circle cx="364.4" cy="805.4" r="1.07"/><circle cx="357.9" cy="799.4" r="0.97"/><circle cx="368.2" cy="801.2" r="1.25"/><circle cx="348.0" cy="804.2" r="0.99"/><circle cx="348.9" cy="815.4" r="1.22"/><circle cx="369.2" cy="807.6" r="1.13"/><circle cx="359.8" cy="796.3" r="1.11"/><circle cx="362.9" cy="803.5" r="0.98"/><circle cx="359.1" cy="804.4" r="1.10"/><circle cx="369.0" cy="807.1" r="0.96"/><circle cx="357.3" cy="789.9" r="1.22"/><circle cx="364.4" cy="799.3" r="1.20"/><circle cx="367.4" cy="813.7" r="1.00"/><circle cx="375.4" cy="805.2" r="1.13"/><circle cx="371.8" cy="813.7" r="1.01"/><circle cx="364.7" cy="805.1" r="1.20"/><circle cx="370.1" cy="803.2" r="1.02"/><circle cx="361.0" cy="798.8" r="1.01"/><circle cx="364.4" cy="799.6" r="1.05"/><circle cx="369.7" cy="801.4" r="1.29"/><circle cx="374.2" cy="811.0" r="1.24"/><circle cx="356.1" cy="810.2" r="1.09"/><circle cx="361.7" cy="812.0" r="1.23"/><circle cx="367.9" cy="803.2" r="1.08"/><circle cx="368.9" cy="800.0" r="1.02"/><circle cx="366.7" cy="805.9" r="1.26"/><circle cx="363.5" cy="805.9" r="0.96"/><circle cx="357.8" cy="807.0" r="1.23"/><circle cx="356.4" cy="807.4" r="1.29"/><circle cx="367.6" cy="807.9" r="0.98"/><circle cx="360.8" cy="822.3" r="1.25"/><circle cx="363.0" cy="804.5" r="1.22"/><circle cx="359.5" cy="812.4" r="0.96"/><circle cx="361.4" cy="809.7" r="1.11"/><circle cx="358.3" cy="805.5" r="1.04"/><circle cx="362.1" cy="809.4" r="1.08"/><circle cx="362.6" cy="798.3" r="1.08"/><circle cx="367.6" cy="796.3" r="1.09"/><circle cx="358.2" cy="808.4" r="0.95"/><circle cx="352.2" cy="808.3" r="1.04"/><circle cx="362.0" cy="798.0" r="1.05"/><circle cx="366.3" cy="807.6" r="1.18"/><circle cx="360.8" cy="802.6" r="1.19"/><circle cx="370.0" cy="808.3" r="1.21"/><circle cx="364.3" cy="799.0" r="1.17"/><circle cx="358.4" cy="800.0" r="1.26"/><circle cx="369.2" cy="807.3" r="1.14"/><circle cx="366.7" cy="812.3" r="1.06"/><circle cx="362.7" cy="801.4" r="0.96"/><circle cx="362.2" cy="815.5" r="1.20"/><circle cx="351.1" cy="805.5" r="1.15"/><circle cx="348.6" cy="830.0" r="1.01"/><circle cx="368.8" cy="835.4" r="1.13"/><circle cx="342.2" cy="811.1" r="1.28"/><circle cx="368.8" cy="775.4" r="1.16"/><circle cx="370.6" cy="798.0" r="1.06"/><circle cx="336.0" cy="779.0" r="1.23"/><circle cx="338.0" cy="781.0" r="1.09"/><circle cx="340.0" cy="778.5" r="0.96"/><circle cx="342.0" cy="780.0" r="0.98"/><circle cx="334.0" cy="781.0" r="1.29"/><circle cx="384.0" cy="790.0" r="0.98"/><circle cx="386.0" cy="788.0" r="1.22"/><circle cx="388.0" cy="791.0" r="0.96"/><circle cx="382.0" cy="792.0" r="1.10"/><circle cx="390.0" cy="789.0" r="1.05"/><circle cx="381.0" cy="805.0" r="1.07"/><circle cx="384.0" cy="807.0" r="0.98"/><circle cx="386.0" cy="804.0" r="1.09"/><circle cx="375.0" cy="823.0" r="1.22"/><circle cx="377.0" cy="822.0" r="1.13"/><circle cx="353.0" cy="822.0" r="1.00"/><circle cx="355.0" cy="821.5" r="1.23"/><circle cx="362.0" cy="830.0" r="1.25"/><circle cx="348.0" cy="823.0" r="1.11"/><circle cx="390.0" cy="818.0" r="1.08"/></g></g><rect x="321.4" y="769.6" width="79.6" height="73.9" fill="none" stroke="#4a4a4a" stroke-width="1"/>
<rect x="0" y="0" width="1.5" height="890" fill="#000"/>
<rect x="0" y="0" width="520" height="1" fill="#000"/>
<rect x="518.5" y="0" width="1.5" height="890" fill="#000"/>
<rect x="0" y="888" width="520" height="1" fill="#333"/>
<rect x="0" y="889" width="520" height="1" fill="#6a6a6a"/>
</svg>
</body></html>
